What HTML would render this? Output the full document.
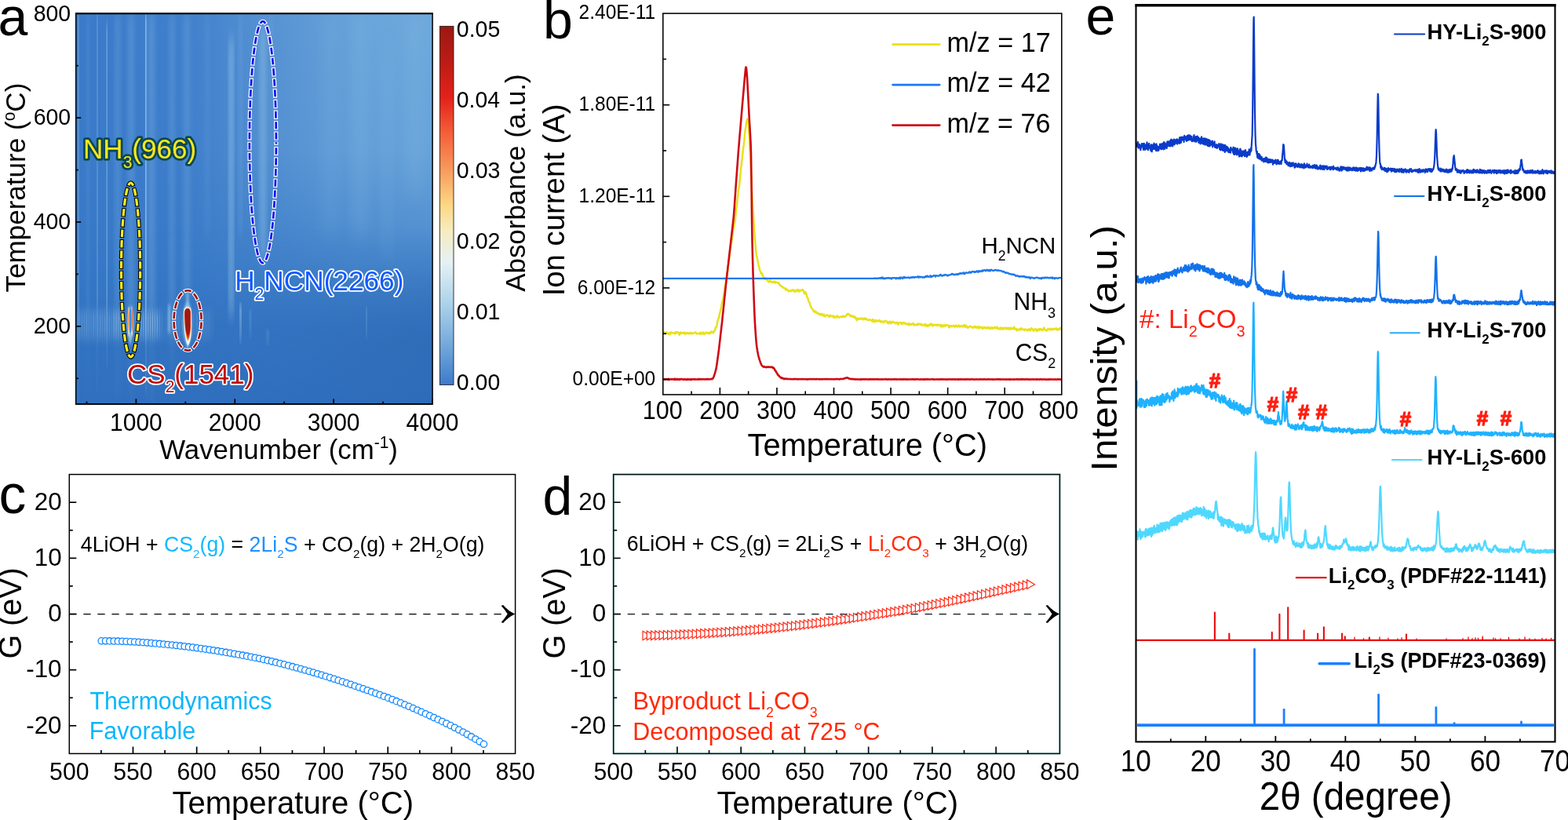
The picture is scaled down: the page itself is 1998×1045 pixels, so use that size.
<!DOCTYPE html>
<html lang="en">
<head>
<meta charset="utf-8">
<title>Figure: TG-IR / MS analysis, Gibbs free energy and XRD patterns</title>
<style>
html,body{margin:0;padding:0;background:#fff;}
body{width:1998px;height:1045px;overflow:hidden;}
svg{display:block;font-family:'Liberation Sans', Arial, sans-serif;}
</style>
</head>
<body>
<svg width="1998" height="1045" viewBox="0 0 1998 1045">
<rect width="1998" height="1045" fill="#fff"/>
<g id="panel-a">
<defs>
<linearGradient id="aH" x1="0" x2="1" y1="0" y2="0"><stop offset="0" stop-color="#3a7ac9"/><stop offset="0.3" stop-color="#3f7fcc"/><stop offset="0.55" stop-color="#5793d3"/><stop offset="0.8" stop-color="#69a4da"/><stop offset="1" stop-color="#6fa9dc"/></linearGradient>
<linearGradient id="aV" x1="0" x2="0" y1="0" y2="1"><stop offset="0" stop-color="#3577c6" stop-opacity="0"/><stop offset="0.35" stop-color="#3577c6" stop-opacity="0.12"/><stop offset="0.62" stop-color="#3577c6" stop-opacity="0.6"/><stop offset="0.8" stop-color="#3273c2" stop-opacity="0.92"/><stop offset="1" stop-color="#3070bf" stop-opacity="1"/></linearGradient>
<linearGradient id="aD" x1="0" x2="1" y1="0" y2="0"><stop offset="0" stop-color="#2c69b3" stop-opacity="0"/><stop offset="0.45" stop-color="#2c69b3" stop-opacity="0.1"/><stop offset="1" stop-color="#2c69b3" stop-opacity="0.7"/></linearGradient>
<linearGradient id="aDm" x1="0" x2="0" y1="0" y2="1"><stop offset="0" stop-color="#fff" stop-opacity="0"/><stop offset="0.55" stop-color="#fff" stop-opacity="0"/><stop offset="0.85" stop-color="#fff" stop-opacity="1"/><stop offset="1" stop-color="#fff" stop-opacity="0.8"/></linearGradient>
<mask id="aMk" maskUnits="userSpaceOnUse" x="96.7" y="17.3" width="454.4" height="497.6"><rect x="96.7" y="17.3" width="454.4" height="497.6" fill="url(#aDm)"/></mask>
<filter id="bx1" x="-100%" y="-5%" width="300%" height="110%"><feGaussianBlur stdDeviation="0.7 6"/></filter>
<filter id="bx3" x="-50%" y="-5%" width="200%" height="110%"><feGaussianBlur stdDeviation="3 10"/></filter>
<filter id="bx8" x="-50%" y="-10%" width="200%" height="120%"><feGaussianBlur stdDeviation="9 14"/></filter>
<filter id="bs" x="-50%" y="-30%" width="200%" height="160%"><feGaussianBlur stdDeviation="0.8 2.5"/></filter>
<filter id="bs2" x="-50%" y="-30%" width="200%" height="160%"><feGaussianBlur stdDeviation="0.5 1"/></filter>
<filter id="bg" x="-20%" y="-40%" width="140%" height="180%"><feGaussianBlur stdDeviation="3 6"/></filter>
<radialGradient id="aCS" cx="0.5" cy="0.5" r="0.5"><stop offset="0" stop-color="#ffffff" stop-opacity="0.95"/><stop offset="0.45" stop-color="#d8eef5" stop-opacity="0.8"/><stop offset="0.75" stop-color="#9cc8e8" stop-opacity="0.4"/><stop offset="1" stop-color="#6aa5da" stop-opacity="0"/></radialGradient>
<linearGradient id="aBand" x1="0" x2="0" y1="0" y2="1"><stop offset="0" stop-color="#fff" stop-opacity="0"/><stop offset="0.3" stop-color="#fff" stop-opacity="1"/><stop offset="0.6" stop-color="#fff" stop-opacity="1"/><stop offset="1" stop-color="#fff" stop-opacity="0"/></linearGradient>
<mask id="aBm" maskUnits="userSpaceOnUse" x="97" y="385" width="460" height="60"><rect x="97" y="391" width="460" height="46" fill="url(#aBand)"/></mask>
<linearGradient id="aSg" gradientUnits="userSpaceOnUse" x1="0" x2="0" y1="17" y2="515"><stop offset="0" stop-color="#fff"/><stop offset="0.72" stop-color="#fff"/><stop offset="0.86" stop-color="#fff" stop-opacity="0.25"/><stop offset="1" stop-color="#fff" stop-opacity="0.2"/></linearGradient>
<mask id="aSm" maskUnits="userSpaceOnUse" x="97" y="17" width="455" height="499"><rect x="97" y="17" width="455" height="499" fill="url(#aSg)"/></mask>
<clipPath id="aClip"><rect x="96.7" y="17.3" width="454.4" height="497.6"/></clipPath>
<linearGradient id="cb" x1="0" x2="0" y1="0" y2="1"><stop offset="0" stop-color="#9c1812"/><stop offset="0.1" stop-color="#bb1c15"/><stop offset="0.2" stop-color="#e3221a"/><stop offset="0.3" stop-color="#f4603a"/><stop offset="0.4" stop-color="#f89a5c"/><stop offset="0.5" stop-color="#fdd884"/><stop offset="0.57" stop-color="#f6ecc0"/><stop offset="0.66" stop-color="#e4f1f4"/><stop offset="0.78" stop-color="#a9d0ea"/><stop offset="0.9" stop-color="#6ea4da"/><stop offset="1" stop-color="#3c7bcb"/></linearGradient>
</defs>
<g clip-path="url(#aClip)">
<rect x="96.7" y="17.3" width="454.4" height="497.6" fill="url(#aH)"/>
<rect x="96.7" y="17.3" width="454.4" height="497.6" fill="url(#aV)"/>
<rect x="96.7" y="17.3" width="454.4" height="497.6" fill="url(#aD)" mask="url(#aMk)"/>
<g mask="url(#aSm)">
<rect x="110.5" y="17" width="3" height="498" fill="#8fc3e8" opacity="0.25" filter="url(#bx3)"/>
<rect x="123" y="17" width="2" height="483" fill="#8fc3e8" opacity="0.28" filter="url(#bx1)"/>
<rect x="135.5" y="30" width="1.4" height="440" fill="#a8d4ee" opacity="0.45" filter="url(#bx1)"/>
<rect x="147" y="17" width="6" height="498" fill="#8fc3e8" opacity="0.28" filter="url(#bx3)"/>
<rect x="163.5" y="17" width="7" height="498" fill="#8fc3e8" opacity="0.3" filter="url(#bx3)"/>
<rect x="185.1" y="17" width="1.6" height="483" fill="#a6d6f0" opacity="0.68" filter="url(#bx1)"/>
<rect x="189" y="17" width="8" height="498" fill="#8fc3e8" opacity="0.3" filter="url(#bx3)"/>
<rect x="216" y="17" width="6" height="463" fill="#8fc3e8" opacity="0.28" filter="url(#bx3)"/>
<rect x="234" y="17" width="8" height="363" fill="#8fc3e8" opacity="0.25" filter="url(#bx3)"/>
<rect x="261.5" y="17" width="5" height="283" fill="#8fc3e8" opacity="0.15" filter="url(#bx3)"/>
<rect x="292.6" y="50" width="4" height="355" fill="#a4d0ec" opacity="0.7" filter="url(#bx3)"/>
<rect x="305" y="17" width="3" height="283" fill="#8fc3e8" opacity="0.35" filter="url(#bx3)"/>
<rect x="305" y="388" width="3" height="48" fill="#a8d4ee" opacity="0.5" filter="url(#bx1)"/>
<rect x="317.5" y="395" width="3" height="35" fill="#8fc3e8" opacity="0.3" filter="url(#bx1)"/>
<rect x="331.5" y="35" width="7" height="295" fill="#9ccbea" opacity="0.45" filter="url(#bx3)"/>
<rect x="344.5" y="17" width="3" height="73" fill="#8fc3e8" opacity="0.3" filter="url(#bx3)"/>
<rect x="339" y="420" width="4" height="20" fill="#8fc3e8" opacity="0.35" filter="url(#bx1)"/>
<rect x="450" y="17" width="16" height="283" fill="#8fc3e8" opacity="0.22" filter="url(#bx8)"/>
<rect x="488" y="60" width="10" height="270" fill="#8fc3e8" opacity="0.2" filter="url(#bx8)"/>
<rect x="521" y="17" width="14" height="233" fill="#8fc3e8" opacity="0.22" filter="url(#bx8)"/>
<rect x="411" y="17" width="18" height="283" fill="#8fc3e8" opacity="0.15" filter="url(#bx8)"/>
<rect x="466.4" y="392" width="1.2" height="40" fill="#a8d4ee" opacity="0.45" filter="url(#bx1)"/>
<rect x="99" y="17" width="2" height="498" fill="#8fc3e8" opacity="0.3" filter="url(#bx1)"/>
</g>
<rect x="97" y="394" width="110" height="40" fill="#8cc2ea" opacity="0.16" filter="url(#bg)"/>
<rect x="210" y="394" width="60" height="40" fill="#8cc2ea" opacity="0.1" filter="url(#bg)"/>
<g mask="url(#aBm)" fill="#c4e2f5"><rect x="98.2" y="388" width="1.15" height="52" opacity="0.11"/><rect x="101.1" y="388" width="1.15" height="52" opacity="0.16"/><rect x="104" y="388" width="1.15" height="52" opacity="0.13"/><rect x="106.9" y="388" width="1.15" height="52" opacity="0.16"/><rect x="109.8" y="388" width="1.15" height="52" opacity="0.17"/><rect x="112.7" y="388" width="1.15" height="52" opacity="0.09"/><rect x="115.6" y="388" width="1.15" height="52" opacity="0.08"/><rect x="118.5" y="388" width="1.15" height="52" opacity="0.2"/><rect x="121.4" y="388" width="1.15" height="52" opacity="0.12"/><rect x="124.3" y="388" width="1.15" height="52" opacity="0.11"/><rect x="127.2" y="388" width="1.15" height="52" opacity="0.22"/><rect x="130.1" y="388" width="1.15" height="52" opacity="0.15"/><rect x="133" y="388" width="1.15" height="52" opacity="0.2"/><rect x="135.9" y="388" width="1.15" height="52" opacity="0.15"/><rect x="138.8" y="388" width="1.15" height="52" opacity="0.17"/><rect x="141.7" y="388" width="1.15" height="52" opacity="0.1"/><rect x="144.6" y="388" width="1.15" height="52" opacity="0.37"/><rect x="147.5" y="388" width="1.15" height="52" opacity="0.4"/><rect x="150.4" y="388" width="1.15" height="52" opacity="0.35"/><rect x="153.3" y="388" width="1.15" height="52" opacity="0.38"/><rect x="156.2" y="388" width="1.15" height="52" opacity="0.07"/><rect x="159.1" y="388" width="1.15" height="52" opacity="0.04"/><rect x="162" y="388" width="1.15" height="52" opacity="0.07"/><rect x="164.9" y="388" width="1.15" height="52" opacity="0.07"/><rect x="167.8" y="388" width="1.15" height="52" opacity="0.05"/><rect x="170.7" y="388" width="1.15" height="52" opacity="0.03"/><rect x="173.6" y="388" width="1.15" height="52" opacity="0.08"/><rect x="176.5" y="388" width="1.15" height="52" opacity="0.15"/><rect x="179.4" y="388" width="1.15" height="52" opacity="0.38"/><rect x="182.3" y="388" width="1.15" height="52" opacity="0.4"/><rect x="185.2" y="388" width="1.15" height="52" opacity="0.38"/><rect x="188.1" y="388" width="1.15" height="52" opacity="0.41"/><rect x="191" y="388" width="1.15" height="52" opacity="0.34"/><rect x="193.9" y="388" width="1.15" height="52" opacity="0.39"/><rect x="196.8" y="388" width="1.15" height="52" opacity="0.34"/><rect x="199.7" y="388" width="1.15" height="52" opacity="0.41"/><rect x="202.6" y="388" width="1.15" height="52" opacity="0.2"/><rect x="205.5" y="388" width="1.15" height="52" opacity="0.09"/><rect x="207" y="388" width="1.15" height="52" opacity="0.02"/><rect x="209.9" y="388" width="1.15" height="52" opacity="0.03"/><rect x="212.8" y="388" width="1.15" height="52" opacity="0.06"/><rect x="215.7" y="388" width="1.15" height="52" opacity="0.06"/><rect x="218.6" y="388" width="1.15" height="52" opacity="0.08"/><rect x="221.5" y="388" width="1.15" height="52" opacity="0.08"/><rect x="224.4" y="388" width="1.15" height="52" opacity="0.11"/><rect x="227.3" y="388" width="1.15" height="52" opacity="0.11"/><rect x="230.2" y="388" width="1.15" height="52" opacity="0"/><rect x="233.1" y="388" width="1.15" height="52" opacity="0"/><rect x="236" y="388" width="1.15" height="52" opacity="0"/><rect x="238.9" y="388" width="1.15" height="52" opacity="0"/><rect x="241.8" y="388" width="1.15" height="52" opacity="0"/><rect x="244.7" y="388" width="1.15" height="52" opacity="0"/><rect x="247.6" y="388" width="1.15" height="52" opacity="0"/><rect x="250.5" y="388" width="1.15" height="52" opacity="0.15"/><rect x="253.4" y="388" width="1.15" height="52" opacity="0.12"/><rect x="256.3" y="388" width="1.15" height="52" opacity="0.08"/><rect x="259.2" y="388" width="1.15" height="52" opacity="0.09"/><rect x="262.1" y="388" width="1.15" height="52" opacity="0.08"/><rect x="265" y="388" width="1.15" height="52" opacity="0.06"/><rect x="267.9" y="388" width="1.15" height="52" opacity="0.04"/><rect x="270.8" y="388" width="1.15" height="52" opacity="0.03"/><rect x="273.7" y="388" width="1.15" height="52" opacity="0.01"/></g>
<rect x="214" y="388" width="3" height="36" fill="#a6d4f0" opacity="0.55" filter="url(#bs)"/>
<ellipse cx="166.1" cy="412" rx="3.6" ry="22" fill="#b4dcf4" opacity="0.5" filter="url(#bs)"/>
<ellipse cx="164.0" cy="410" rx="1.3" ry="19" fill="#fdf0c8" opacity="0.75" filter="url(#bs2)"/>
<ellipse cx="168.2" cy="410" rx="1.3" ry="19" fill="#fdf0c8" opacity="0.75" filter="url(#bs2)"/>
<ellipse cx="164.0" cy="407.5" rx="0.95" ry="14.5" fill="#f59a5c"/>
<ellipse cx="168.2" cy="407.5" rx="0.95" ry="15" fill="#f0683a"/>
<rect x="165.3" y="394" width="1.6" height="30" fill="#2a86e2"/>
<rect x="165.2" y="424" width="1.8" height="14" fill="#d4ecf8" opacity="0.6" filter="url(#bs)"/>
<rect x="237.2" y="372" width="3.6" height="74" fill="#9fd0ee" opacity="0.55" filter="url(#bs)"/>
<ellipse cx="238.9" cy="412" rx="6.2" ry="27" fill="#a8d6f0" opacity="0.6" filter="url(#bs)"/>
<path d="M238.9 391.2 C241.84 391.2 243.8 392.7 243.8 396.2 L243.8 421.77 C243.8 431.13 241.59 438.5 239.3 440.5 C237.43 437.5 235.86 429.26 234.98 421.77 L234 397.2 C234 393.2 235.96 391.2 238.9 391.2Z" fill="#f4fbfe" filter="url(#bs2)"/>
<path d="M238.9 392.6 C241.21 392.6 242.75 394.1 242.75 397.6 L242.75 419.51 C242.75 427.75 241.02 434 239.3 436 C237.75 433 236.51 426.1 235.82 419.51 L235.05 398.6 C235.05 394.6 236.59 392.6 238.9 392.6Z" fill="#fdd680"/>
<path d="M238.9 392.9 C241.12 392.9 242.6 394.4 242.6 397.9 L242.6 418.13 C242.6 425.87 240.94 431.6 239.3 433.6 C237.79 430.6 236.61 424.32 235.94 418.13 L235.2 398.9 C235.2 394.9 236.68 392.9 238.9 392.9Z" fill="#f26a2c"/>
<path d="M238.9 393.1 C241.09 393.1 242.55 394.6 242.55 398.1 L242.55 416.85 C242.55 424.12 240.91 429.4 239.3 431.4 C237.81 428.4 236.64 422.67 235.98 416.85 L235.25 399.1 C235.25 395.1 236.71 393.1 238.9 393.1Z" fill="#e02c14"/>
<path d="M238.9 393.3 C241.06 393.3 242.5 394.8 242.5 398.3 L242.5 414.81 C242.5 421.41 240.88 426 239.3 428 C237.82 425 236.67 420.09 236.02 414.81 L235.3 399.3 C235.3 395.3 236.74 393.3 238.9 393.3Z" fill="#a21810"/>
</g>
<rect x="96.7" y="17.3" width="454.4" height="497.6" fill="none" stroke="#000" stroke-width="1.5"/>
<line x1="95.95" y1="17.3" x2="551.85" y2="17.3" stroke="#000" stroke-width="2"/>
<line x1="95.95" y1="514.9" x2="551.85" y2="514.9" stroke="#000" stroke-width="1.9"/>
<line x1="173.4" y1="514.9" x2="173.4" y2="508.4" stroke="#000" stroke-width="1.7"/>
<line x1="299.27" y1="514.9" x2="299.27" y2="508.4" stroke="#000" stroke-width="1.7"/>
<line x1="425.13" y1="514.9" x2="425.13" y2="508.4" stroke="#000" stroke-width="1.7"/>
<line x1="551" y1="514.9" x2="551" y2="508.4" stroke="#000" stroke-width="1.7"/>
<line x1="110.47" y1="514.9" x2="110.47" y2="511.7" stroke="#000" stroke-width="1.7"/>
<line x1="236.33" y1="514.9" x2="236.33" y2="511.7" stroke="#000" stroke-width="1.7"/>
<line x1="362.2" y1="514.9" x2="362.2" y2="511.7" stroke="#000" stroke-width="1.7"/>
<line x1="488.07" y1="514.9" x2="488.07" y2="511.7" stroke="#000" stroke-width="1.7"/>
<line x1="96.7" y1="415.82" x2="103.2" y2="415.82" stroke="#000" stroke-width="1.7"/>
<line x1="96.7" y1="282.98" x2="103.2" y2="282.98" stroke="#000" stroke-width="1.7"/>
<line x1="96.7" y1="150.14" x2="103.2" y2="150.14" stroke="#000" stroke-width="1.7"/>
<line x1="96.7" y1="17.3" x2="103.2" y2="17.3" stroke="#000" stroke-width="1.7"/>
<line x1="96.7" y1="482.24" x2="99.9" y2="482.24" stroke="#000" stroke-width="1.7"/>
<line x1="96.7" y1="349.4" x2="99.9" y2="349.4" stroke="#000" stroke-width="1.7"/>
<line x1="96.7" y1="216.56" x2="99.9" y2="216.56" stroke="#000" stroke-width="1.7"/>
<line x1="96.7" y1="83.72" x2="99.9" y2="83.72" stroke="#000" stroke-width="1.7"/>
<text transform="translate(173.4 548.7) scale(0.97 1)" font-size="31" text-anchor="middle">1000</text>
<text transform="translate(299.27 548.7) scale(0.97 1)" font-size="31" text-anchor="middle">2000</text>
<text transform="translate(425.13 548.7) scale(0.97 1)" font-size="31" text-anchor="middle">3000</text>
<text transform="translate(551 548.7) scale(0.97 1)" font-size="31" text-anchor="middle">4000</text>
<text transform="translate(90.2 425.12) scale(0.95 1)" font-size="30" text-anchor="end">200</text>
<text transform="translate(90.2 292.28) scale(0.95 1)" font-size="30" text-anchor="end">400</text>
<text transform="translate(90.2 159.44) scale(0.95 1)" font-size="30" text-anchor="end">600</text>
<text transform="translate(90.2 26.6) scale(0.95 1)" font-size="30" text-anchor="end">800</text>
<text transform="translate(203.2 584.8) scale(0.98 1)" font-size="35.55">Wavenumber (cm<tspan dy="-14.22" font-size="21.33">-1</tspan><tspan dy="14.22">)</tspan></text>
<text transform="translate(31.9 372.5) rotate(-90) scale(0.98 1)" font-size="35.78">Temperature (<tspan dy="-12.88" font-size="21.47">o</tspan><tspan dy="12.88">C)</tspan></text>
<ellipse cx="334.9" cy="181.2" rx="17" ry="154" fill="none" stroke="#fff" stroke-width="5.1" stroke-dasharray="11.2 2.3" stroke-dashoffset="7.5"/><ellipse cx="334.9" cy="181.2" rx="17" ry="154" fill="none" stroke="#0c0cf5" stroke-width="2.7" stroke-dasharray="8.8 4.7" stroke-dashoffset="6.3"/>
<ellipse cx="166.6" cy="344" rx="12.1" ry="111" fill="none" stroke="#000" stroke-width="5.3" stroke-dasharray="11.5 1.8" stroke-dashoffset="12.65"/><ellipse cx="166.6" cy="344" rx="12.1" ry="111" fill="none" stroke="#ffee22" stroke-width="3.2" stroke-dasharray="9.4 3.9" stroke-dashoffset="11.6"/>
<ellipse cx="239.1" cy="408.4" rx="17.5" ry="38.2" fill="none" stroke="#fff" stroke-width="4.8" stroke-dasharray="11 1.94" stroke-dashoffset="11.96"/><ellipse cx="239.1" cy="408.4" rx="17.5" ry="38.2" fill="none" stroke="#9a0f0f" stroke-width="2.6" stroke-dasharray="8.8 4.14" stroke-dashoffset="10.86"/>
<text transform="translate(105.99 202.2) scale(0.98 1)" font-size="35.8" fill="#ffe81e" stroke="#0a4854" stroke-width="5.6" stroke-linejoin="round" paint-order="stroke fill">NH<tspan dy="11.82" font-size="21.48">3</tspan><tspan dy="-11.82">(966)</tspan></text>
<text transform="translate(299.18 370.4) scale(0.98 1)" font-size="35.93" fill="#0f5aff" stroke="#fff" stroke-width="3.6" stroke-linejoin="round" paint-order="stroke fill">H<tspan dy="11.86" font-size="21.56">2</tspan><tspan dy="-11.86">NCN(2266)</tspan></text>
<text transform="translate(162.05 488.5) scale(0.98 1)" font-size="35.69" fill="#bf0a0a" stroke="#fff" stroke-width="3.6" stroke-linejoin="round" paint-order="stroke fill">CS<tspan dy="11.78" font-size="21.41">2</tspan><tspan dy="-11.78">(1541)</tspan></text>
<rect x="560.4" y="33.4" width="17.6" height="457" fill="url(#cb)" stroke="#222" stroke-width="0.9"/>
<text transform="translate(581.86 46.7) scale(0.98 1)" font-size="29.03">0.05</text>
<text transform="translate(581.87 136.75) scale(0.98 1)" font-size="28.88">0.04</text>
<text transform="translate(581.86 226.8) scale(0.98 1)" font-size="29.19">0.03</text>
<text transform="translate(581.86 316.85) scale(0.98 1)" font-size="29.19">0.02</text>
<text transform="translate(581.86 406.9) scale(0.98 1)" font-size="29.19">0.01</text>
<text transform="translate(581.86 496.95) scale(0.98 1)" font-size="29.03">0.00</text>
<text transform="translate(668.7 371.8) rotate(-90) scale(0.98 1)" font-size="35.63">Absorbance (a.u.)</text>
<text transform="translate(-2.6 45.2)" font-size="68">a</text>
</g>
<g id="panel-b">
<clipPath id="bClip"><rect x="844.8" y="17.1" width="508" height="485.8"/></clipPath>
<g clip-path="url(#bClip)" stroke-linejoin="round">
<polyline points="844,423.5 844.6,424.5 845.2,425.2 845.8,424.2 846.4,423.3 847,424.1 847.6,424.7 848.2,425.3 848.8,423.7 849.4,423.2 850,424.6 850.6,424.8 851.2,425.6 851.8,425.4 852.4,424.6 853,424.2 853.6,426.3 854.2,424.6 854.8,423.8 855.4,423.4 856,424.2 856.6,424.4 857.2,424.1 857.8,424.3 858.4,424.5 859,424.9 859.6,425.3 860.2,424.8 860.8,423.1 861.4,424.6 862,423.3 862.6,424 863.2,423.1 863.8,424 864.4,423.7 865,424.3 865.6,426.8 866.2,424.9 866.8,425.1 867.4,423.5 868,423.9 868.6,424.7 869.2,424.4 869.8,424.6 870.4,424.5 871,423.6 871.6,424.6 872.2,423.8 872.8,425.6 873.4,424.3 874,424.8 874.6,424.4 875.2,425.1 875.8,424 876.4,425 877,424.4 877.6,425.3 878.2,425 878.8,424.6 879.4,423.8 880,424.7 880.6,424.8 881.2,425.6 881.8,424.3 882.4,424.7 883,424.8 883.6,424.6 884.2,424.5 884.8,424.4 885.4,423.8 886,423.4 886.6,423.7 887.2,424.5 887.8,425.4 888.4,425.2 889,425.2 889.6,425 890.2,424.9 890.8,424.5 891.4,424.8 892,425.7 892.6,424.3 893.2,423.7 893.8,425.5 894.4,424.6 895,425 895.6,425 896.2,423.5 896.8,425.8 897.4,425.8 898,424.7 898.6,424.8 899.2,424.3 899.8,423.5 900.4,423.8 901,424.3 901.6,424.9 902.2,424.8 902.8,424.3 903.4,425.1 904,423.7 904.6,424.5 905.2,424.9 905.8,423.9 906.4,422.4 907,422.6 907.6,423.4 908.2,423.7 908.8,424.4 909.4,422.2 910,422 910.6,421.9 911.2,420.5 911.8,417.3 912.4,417.3 913,416.7 913.6,413.9 914.2,410 914.8,407.7 915.4,405.8 916,405.2 916.6,401.8 917.2,398.8 917.8,397.3 918.4,393.8 919,392.4 919.6,388 920.2,385 920.8,383.1 921.4,381 922,377.5 922.6,373.9 923.2,369 923.8,366.1 924.4,362.7 925,359 925.6,355.7 926.2,350.9 926.8,347.3 927.4,342.6 928,337.7 928.6,333.5 929.2,329.3 929.8,325.2 930.4,319.8 931,315.3 931.6,310.1 932.2,308 932.8,304.6 933.4,299.9 934,295.8 934.6,291.5 935.2,288.8 935.8,285.4 936.4,283.1 937,277.7 937.6,271.9 938.2,265.3 938.8,262.8 939.4,257.4 940,250.8 940.6,246.7 941.2,240.5 941.8,238.9 942.4,232.8 943,227.1 943.6,221.2 944.2,214.3 944.8,210.2 945.4,204.2 946,200.4 946.6,193.3 947.2,188.2 947.8,184.2 948.4,179.2 949,171.8 949.6,166 950.2,162.8 950.8,159 951.4,154.2 952,151.9 952.6,151.3 953.2,152.8 953.8,158 954.4,167.6 955,178.2 955.6,191.4 956.2,203.4 956.8,216.8 957.4,229.9 958,243.1 958.6,253.4 959.2,262.5 959.8,272.9 960.4,282.3 961,290.7 961.6,299.8 962.2,307.6 962.8,314.4 963.4,321.1 964,325.3 964.6,328.2 965.2,330.7 965.8,333.5 966.4,337 967,339.7 967.6,341.5 968.2,344.6 968.8,345.6 969.4,347.1 970,348.9 970.6,348.7 971.2,348.6 971.8,351.4 972.4,351.8 973,354.1 973.6,354.4 974.2,355.4 974.8,355.9 975.4,354.2 976,356.3 976.6,356.2 977.2,356.4 977.8,357 978.4,358.3 979,358.9 979.6,359.4 980.2,357.8 980.8,358.3 981.4,357.1 982,358.6 982.6,359.5 983.2,358.8 983.8,359.4 984.4,359.6 985,360.2 985.6,358.9 986.2,358.6 986.8,358.5 987.4,360.4 988,360.4 988.6,359.5 989.2,359.7 989.8,359.9 990.4,360.4 991,360.4 991.6,360.7 992.2,360.4 992.8,361.2 993.4,363.5 994,363.7 994.6,363.8 995.2,364 995.8,364.7 996.4,365.4 997,365.3 997.6,366.3 998.2,366.9 998.8,366.7 999.4,367 1000,367.3 1000.6,367.7 1001.2,369.5 1001.8,367.8 1002.4,369.1 1003,369.3 1003.6,369.5 1004.2,370.3 1004.8,371.3 1005.4,370.9 1006,370.6 1006.6,370.2 1007.2,370.5 1007.8,371.3 1008.4,370.6 1009,369.9 1009.6,369.6 1010.2,369.6 1010.8,369.4 1011.4,371.2 1012,371.1 1012.6,370.5 1013.2,371.7 1013.8,370.3 1014.4,371 1015,371.2 1015.6,369.5 1016.2,369 1016.8,369.4 1017.4,370.8 1018,371.5 1018.6,369.8 1019.2,371.1 1019.8,370.3 1020.4,370.1 1021,370 1021.6,370.1 1022.2,369.1 1022.8,369.5 1023.4,369.7 1024,371.2 1024.6,373.1 1025.2,374.4 1025.8,372.9 1026.4,372.2 1027,373.8 1027.6,374.8 1028.2,378.4 1028.8,379.4 1029.4,380 1030,382.8 1030.6,384.5 1031.2,384.7 1031.8,386.7 1032.4,388.6 1033,390.3 1033.6,391.6 1034.2,392.5 1034.8,393.8 1035.4,394.2 1036,394.5 1036.6,396.8 1037.2,397 1037.8,397.4 1038.4,396.3 1039,397.3 1039.6,398.5 1040.2,397.5 1040.8,399.2 1041.4,398.7 1042,399.4 1042.6,399.3 1043.2,399.7 1043.8,400.7 1044.4,400 1045,401.4 1045.6,400.1 1046.2,399.9 1046.8,401.2 1047.4,400.3 1048,400.7 1048.6,401.9 1049.2,402.5 1049.8,400.6 1050.4,401.9 1051,403.3 1051.6,403.2 1052.2,402.2 1052.8,401.7 1053.4,401.9 1054,401.4 1054.6,402 1055.2,402.3 1055.8,402.5 1056.4,403.6 1057,402.9 1057.6,401.8 1058.2,403.5 1058.8,402.4 1059.4,402.6 1060,402.9 1060.6,402.9 1061.2,402.4 1061.8,402.9 1062.4,404.9 1063,403.3 1063.6,403.3 1064.2,404.3 1064.8,404.3 1065.4,404.4 1066,404.5 1066.6,402.4 1067.2,402.8 1067.8,403.6 1068.4,404.1 1069,404.8 1069.6,404.4 1070.2,403.7 1070.8,403.7 1071.4,403.5 1072,403.8 1072.6,404.2 1073.2,403.5 1073.8,402.9 1074.4,402.6 1075,403.8 1075.6,404.1 1076.2,403.8 1076.8,403.4 1077.4,403.1 1078,402.1 1078.6,402.1 1079.2,400.5 1079.8,400.4 1080.4,399.9 1081,401 1081.6,400.5 1082.2,401 1082.8,401.7 1083.4,402.9 1084,401.9 1084.6,401.7 1085.2,403.3 1085.8,402.5 1086.4,403.7 1087,403.4 1087.6,403.9 1088.2,402.8 1088.8,404.6 1089.4,404.3 1090,404 1090.6,406.3 1091.2,406 1091.8,408.1 1092.4,406.4 1093,405.6 1093.6,405.8 1094.2,407 1094.8,406.2 1095.4,406.4 1096,406.6 1096.6,405.6 1097.2,406.3 1097.8,406 1098.4,405.5 1099,407 1099.6,407.3 1100.2,407 1100.8,406.3 1101.4,405.3 1102,407 1102.6,407.1 1103.2,406 1103.8,407 1104.4,406.3 1105,407.3 1105.6,407.7 1106.2,408 1106.8,408 1107.4,408.1 1108,407.2 1108.6,407.5 1109.2,407.6 1109.8,407.9 1110.4,408.4 1111,408.8 1111.6,409.7 1112.2,406.9 1112.8,408.4 1113.4,408.4 1114,410.3 1114.6,409.9 1115.2,407.9 1115.8,409 1116.4,408.6 1117,409.7 1117.6,408.5 1118.2,409 1118.8,409.1 1119.4,409.2 1120,408.9 1120.6,408 1121.2,409.5 1121.8,410.4 1122.4,409.8 1123,409 1123.6,409.8 1124.2,410.3 1124.8,409.9 1125.4,410 1126,411.1 1126.6,409.6 1127.2,409.6 1127.8,408.7 1128.4,409.4 1129,409.6 1129.6,409.5 1130.2,409.7 1130.8,411.7 1131.4,410.7 1132,410.6 1132.6,412.3 1133.2,411.1 1133.8,409.6 1134.4,410.9 1135,410.2 1135.6,412 1136.2,410.4 1136.8,410.5 1137.4,409.8 1138,410.9 1138.6,410.4 1139.2,411.1 1139.8,411 1140.4,410.9 1141,412 1141.6,412.4 1142.2,411.8 1142.8,411 1143.4,410.7 1144,411.7 1144.6,413.6 1145.2,412 1145.8,411.4 1146.4,411.3 1147,411 1147.6,411.1 1148.2,411.7 1148.8,413.2 1149.4,412.5 1150,412 1150.6,411 1151.2,412.2 1151.8,412.3 1152.4,411.5 1153,411.4 1153.6,412.2 1154.2,413.2 1154.8,413.2 1155.4,412.9 1156,412.5 1156.6,412.9 1157.2,412.7 1157.8,414.4 1158.4,412.3 1159,412.4 1159.6,413.7 1160.2,412.9 1160.8,414 1161.4,413.2 1162,413.1 1162.6,412.8 1163.2,412 1163.8,412.1 1164.4,414.5 1165,414 1165.6,413.8 1166.2,414.1 1166.8,413.9 1167.4,414.2 1168,413.4 1168.6,413.2 1169.2,414.1 1169.8,413.3 1170.4,412.4 1171,413.1 1171.6,413 1172.2,413.9 1172.8,413.1 1173.4,412.7 1174,413.2 1174.6,414.7 1175.2,414 1175.8,413.9 1176.4,413.8 1177,414.1 1177.6,414.6 1178.2,415.1 1178.8,413 1179.4,414.8 1180,414.2 1180.6,413.8 1181.2,415.8 1181.8,414.4 1182.4,415.6 1183,415.2 1183.6,413.7 1184.2,414.4 1184.8,414.8 1185.4,414.3 1186,412.5 1186.6,413.6 1187.2,414 1187.8,413.4 1188.4,415.5 1189,414.5 1189.6,414.1 1190.2,414.1 1190.8,413.8 1191.4,413.7 1192,414.4 1192.6,414.8 1193.2,414.2 1193.8,414.4 1194.4,413.5 1195,414.8 1195.6,414.1 1196.2,414.7 1196.8,414.1 1197.4,414.2 1198,414.8 1198.6,413.9 1199.2,416.5 1199.8,415.2 1200.4,414.9 1201,414.4 1201.6,416 1202.2,416.3 1202.8,415.5 1203.4,414.1 1204,414.4 1204.6,415.4 1205.2,414.8 1205.8,414.2 1206.4,414 1207,414.3 1207.6,415 1208.2,414.7 1208.8,415.1 1209.4,417.3 1210,417.1 1210.6,415 1211.2,415.5 1211.8,415.5 1212.4,415.3 1213,416.2 1213.6,415.4 1214.2,415.3 1214.8,415.2 1215.4,415.4 1216,416.5 1216.6,416.4 1217.2,414.9 1217.8,415.2 1218.4,415 1219,416.2 1219.6,416.1 1220.2,416.5 1220.8,416 1221.4,414.5 1222,415.9 1222.6,416.1 1223.2,416.4 1223.8,415.1 1224.4,415.9 1225,415.5 1225.6,415.4 1226.2,416.2 1226.8,416.4 1227.4,415.6 1228,414.8 1228.6,414 1229.2,415.3 1229.8,416.9 1230.4,416.4 1231,414.7 1231.6,415.3 1232.2,416.5 1232.8,417.7 1233.4,417.7 1234,417.1 1234.6,416.8 1235.2,415.8 1235.8,416.1 1236.4,416.2 1237,416 1237.6,416.6 1238.2,416.4 1238.8,416.9 1239.4,417.9 1240,417.6 1240.6,417.4 1241.2,416.8 1241.8,415.7 1242.4,416.5 1243,417.3 1243.6,416.3 1244.2,417.8 1244.8,417 1245.4,417.3 1246,416.9 1246.6,416.1 1247.2,418.4 1247.8,416.6 1248.4,417.7 1249,416.9 1249.6,417.4 1250.2,416.7 1250.8,416.8 1251.4,417.9 1252,419 1252.6,417.2 1253.2,417.4 1253.8,418.1 1254.4,417.2 1255,418 1255.6,417.1 1256.2,417.9 1256.8,418 1257.4,418.6 1258,418.2 1258.6,416.9 1259.2,418 1259.8,417 1260.4,418.1 1261,419 1261.6,418.6 1262.2,417.6 1262.8,418.7 1263.4,418.2 1264,417.1 1264.6,417.5 1265.2,418.9 1265.8,418 1266.4,418.1 1267,417.8 1267.6,416.8 1268.2,417.4 1268.8,418.2 1269.4,418.4 1270,418.1 1270.6,416.6 1271.2,418.8 1271.8,418.9 1272.4,419.2 1273,419.5 1273.6,418.3 1274.2,417.9 1274.8,418.5 1275.4,419.7 1276,417.5 1276.6,418.1 1277.2,417.9 1277.8,418.8 1278.4,419.7 1279,418.7 1279.6,417.7 1280.2,418.5 1280.8,418.4 1281.4,417.5 1282,419.1 1282.6,418.4 1283.2,419.2 1283.8,417.9 1284.4,419.4 1285,417.9 1285.6,419.4 1286.2,417.7 1286.8,419.7 1287.4,418.9 1288,417.8 1288.6,418.5 1289.2,419.2 1289.8,418.3 1290.4,418.5 1291,419.2 1291.6,419 1292.2,416.8 1292.8,418.3 1293.4,419.3 1294,419.5 1294.6,420.1 1295.2,419 1295.8,421.2 1296.4,420.4 1297,419.9 1297.6,420.3 1298.2,420.4 1298.8,419.8 1299.4,419.1 1300,420.2 1300.6,420 1301.2,418.2 1301.8,418.4 1302.4,419.6 1303,419.7 1303.6,419.9 1304.2,420.2 1304.8,419.9 1305.4,420.9 1306,419.6 1306.6,419.4 1307.2,419.9 1307.8,420.4 1308.4,420.5 1309,421.1 1309.6,419.8 1310.2,420.7 1310.8,420.4 1311.4,419.3 1312,419.7 1312.6,421.4 1313.2,420.9 1313.8,419.9 1314.4,418.2 1315,419 1315.6,419.3 1316.2,419.9 1316.8,421.8 1317.4,421.1 1318,420.6 1318.6,419.6 1319.2,419.1 1319.8,419.8 1320.4,419.7 1321,422.3 1321.6,420.4 1322.2,419.7 1322.8,420.9 1323.4,420.4 1324,419.2 1324.6,420.8 1325.2,420 1325.8,419 1326.4,420 1327,420.4 1327.6,419.8 1328.2,420.5 1328.8,420.7 1329.4,419.5 1330,418.3 1330.6,417.7 1331.2,419.3 1331.8,420.6 1332.4,420.8 1333,421.1 1333.6,421.5 1334.2,420.3 1334.8,420.7 1335.4,418.9 1336,420 1336.6,420.1 1337.2,419.7 1337.8,419.3 1338.4,418.7 1339,419.5 1339.6,420.5 1340.2,419.5 1340.8,419.9 1341.4,419.1 1342,419.6 1342.6,418.7 1343.2,419.5 1343.8,419.3 1344.4,419.6 1345,419 1345.6,418.3 1346.2,418.8 1346.8,419.9 1347.4,420.6 1348,419.3 1348.6,419.8 1349.2,419.9 1349.8,419.6 1350.4,418.1 1351,419.1 1351.6,418.3 1352.2,419.7 1352.8,419.8" fill="none" stroke="#e8e11c" stroke-width="2.5"/>
<polyline points="844,354.9 844.8,354.9 845.6,354.9 846.4,354.9 847.2,354.9 848,354.9 848.8,354.9 849.6,354.9 850.4,354.9 851.2,354.9 852,354.9 852.8,354.9 853.6,354.9 854.4,354.9 855.2,354.9 856,354.9 856.8,354.9 857.6,354.9 858.4,354.9 859.2,354.9 860,354.9 860.8,354.9 861.6,354.9 862.4,354.9 863.2,354.9 864,354.9 864.8,354.9 865.6,354.9 866.4,354.9 867.2,354.9 868,354.9 868.8,354.9 869.6,354.9 870.4,354.9 871.2,354.9 872,354.9 872.8,354.9 873.6,354.9 874.4,354.9 875.2,354.9 876,354.9 876.8,354.9 877.6,354.9 878.4,354.9 879.2,354.9 880,354.9 880.8,354.9 881.6,354.9 882.4,354.9 883.2,354.9 884,354.9 884.8,354.9 885.6,354.9 886.4,354.9 887.2,354.9 888,354.9 888.8,354.9 889.6,354.9 890.4,354.9 891.2,354.9 892,354.9 892.8,354.9 893.6,354.9 894.4,354.9 895.2,354.9 896,354.9 896.8,354.9 897.6,354.9 898.4,354.9 899.2,354.9 900,354.9 900.8,354.9 901.6,354.9 902.4,354.9 903.2,354.9 904,354.9 904.8,354.9 905.6,354.9 906.4,354.9 907.2,354.9 908,354.9 908.8,354.9 909.6,354.9 910.4,354.9 911.2,354.9 912,354.9 912.8,354.9 913.6,354.9 914.4,354.9 915.2,354.9 916,354.9 916.8,354.9 917.6,354.9 918.4,354.9 919.2,354.9 920,354.9 920.8,354.9 921.6,354.9 922.4,354.9 923.2,354.9 924,354.9 924.8,354.9 925.6,354.9 926.4,354.9 927.2,354.9 928,354.9 928.8,354.9 929.6,354.9 930.4,354.9 931.2,354.9 932,354.9 932.8,354.9 933.6,354.9 934.4,354.9 935.2,354.9 936,354.9 936.8,354.9 937.6,354.9 938.4,354.9 939.2,354.9 940,354.9 940.8,354.9 941.6,354.9 942.4,354.9 943.2,354.9 944,354.9 944.8,354.9 945.6,354.9 946.4,354.9 947.2,354.9 948,354.9 948.8,354.9 949.6,354.9 950.4,354.9 951.2,354.9 952,354.9 952.8,354.9 953.6,354.9 954.4,354.9 955.2,354.9 956,354.9 956.8,354.9 957.6,354.9 958.4,354.9 959.2,354.9 960,354.9 960.8,354.9 961.6,354.9 962.4,354.9 963.2,354.9 964,354.9 964.8,354.9 965.6,354.9 966.4,354.9 967.2,354.9 968,354.9 968.8,354.9 969.6,354.9 970.4,354.9 971.2,354.9 972,354.9 972.8,354.9 973.6,354.9 974.4,354.9 975.2,354.9 976,354.9 976.8,354.9 977.6,354.9 978.4,354.9 979.2,354.9 980,354.9 980.8,354.9 981.6,354.9 982.4,354.9 983.2,354.9 984,354.9 984.8,354.9 985.6,354.9 986.4,354.9 987.2,354.9 988,354.9 988.8,354.9 989.6,354.9 990.4,354.9 991.2,354.9 992,354.9 992.8,354.9 993.6,354.9 994.4,354.9 995.2,354.9 996,354.9 996.8,354.9 997.6,354.9 998.4,354.9 999.2,354.9 1000,354.9 1000.8,354.9 1001.6,354.9 1002.4,354.9 1003.2,354.9 1004,354.9 1004.8,354.9 1005.6,354.9 1006.4,354.9 1007.2,354.9 1008,354.9 1008.8,354.9 1009.6,354.9 1010.4,354.9 1011.2,354.9 1012,354.9 1012.8,354.9 1013.6,354.9 1014.4,354.9 1015.2,354.9 1016,354.9 1016.8,354.9 1017.6,354.9 1018.4,354.9 1019.2,354.9 1020,354.9 1020.8,354.9 1021.6,354.9 1022.4,354.9 1023.2,354.9 1024,354.9 1024.8,354.9 1025.6,354.9 1026.4,354.9 1027.2,354.9 1028,354.9 1028.8,354.9 1029.6,354.9 1030.4,354.9 1031.2,354.9 1032,354.9 1032.8,354.9 1033.6,354.9 1034.4,354.9 1035.2,354.9 1036,354.9 1036.8,354.9 1037.6,354.9 1038.4,354.9 1039.2,354.9 1040,354.9 1040.8,354.9 1041.6,354.9 1042.4,354.9 1043.2,354.9 1044,354.9 1044.8,354.9 1045.6,354.9 1046.4,354.9 1047.2,354.9 1048,354.9 1048.8,354.9 1049.6,354.9 1050.4,354.9 1051.2,354.9 1052,354.9 1052.8,354.9 1053.6,354.9 1054.4,354.9 1055.2,354.9 1056,354.9 1056.8,354.9 1057.6,354.9 1058.4,354.9 1059.2,354.9 1060,354.9 1060.8,354.9 1061.6,354.9 1062.4,354.9 1063.2,354.9 1064,354.9 1064.8,354.9 1065.6,354.9 1066.4,354.9 1067.2,354.9 1068,354.9 1068.8,354.9 1069.6,354.9 1070.4,354.9 1071.2,354.9 1072,354.9 1072.8,354.9 1073.6,354.9 1074.4,354.9 1075.2,354.9 1076,354.9 1076.8,354.9 1077.6,354.9 1078.4,354.9 1079.2,354.9 1080,354.9 1080.8,354.9 1081.6,354.9 1082.4,354.9 1083.2,354.9 1084,354.9 1084.8,354.9 1085.6,354.9 1086.4,354.9 1087.2,354.9 1088,354.9 1088.8,354.9 1089.6,354.9 1090.4,354.9 1091.2,354.9 1092,354.9 1092.8,354.9 1093.6,354.9 1094.4,354.9 1095.2,354.9 1096,354.9 1096.8,354.9 1097.6,354.9 1098.4,354.9 1099.2,354.9 1100,354.9 1100.8,354.9 1101.6,354.9 1102.4,354.9 1103.2,354.9 1104,354.9 1104.8,354.9 1105.6,354.9 1106.4,354.9 1107.2,354.9 1108,354.9 1108.8,354.9 1109.6,354.9 1110.4,354.9 1111.2,354.9 1112,354.9 1112.8,354.9 1113.6,354.8 1114.4,354.8 1115.2,354.8 1116,354.8 1116.8,354.8 1117.6,354.8 1118.4,354.8 1119.2,354.8 1120,354.7 1120.8,354.2 1121.6,354.2 1122.4,355 1123.2,353.7 1124,354.6 1124.8,353.6 1125.6,355.1 1126.4,354.7 1127.2,355.2 1128,354.4 1128.8,354.8 1129.6,354.5 1130.4,354.2 1131.2,354.6 1132,354 1132.8,354.4 1133.6,354.8 1134.4,354.5 1135.2,354.3 1136,355.4 1136.8,354.5 1137.6,354.1 1138.4,354.4 1139.2,354.1 1140,354.1 1140.8,354.1 1141.6,355.2 1142.4,354.2 1143.2,354.3 1144,354.5 1144.8,355.1 1145.6,354 1146.4,353.8 1147.2,355.2 1148,353.4 1148.8,353.8 1149.6,354.3 1150.4,355 1151.2,353.5 1152,352.8 1152.8,354.2 1153.6,353.6 1154.4,353.6 1155.2,354 1156,353.8 1156.8,353.8 1157.6,353.5 1158.4,354.2 1159.2,354.3 1160,353.6 1160.8,353.3 1161.6,353.8 1162.4,353.7 1163.2,353 1164,353.2 1164.8,353.8 1165.6,353.2 1166.4,353.1 1167.2,353.3 1168,353.1 1168.8,353.1 1169.6,352.2 1170.4,353.8 1171.2,353.1 1172,352.5 1172.8,353.3 1173.6,353 1174.4,352.8 1175.2,353.2 1176,353.7 1176.8,352.9 1177.6,353.3 1178.4,353.5 1179.2,352.1 1180,352.2 1180.8,352.8 1181.6,351.6 1182.4,352.2 1183.2,352.9 1184,352.7 1184.8,352.5 1185.6,351.3 1186.4,353.2 1187.2,352.3 1188,352.3 1188.8,352.1 1189.6,351.1 1190.4,351.1 1191.2,351.2 1192,352.5 1192.8,351.2 1193.6,351.4 1194.4,351.4 1195.2,351.7 1196,351.6 1196.8,351.4 1197.6,350.7 1198.4,349.8 1199.2,351.2 1200,351.2 1200.8,351.6 1201.6,350.9 1202.4,350.6 1203.2,351 1204,350.1 1204.8,350.2 1205.6,350.2 1206.4,350.7 1207.2,351.5 1208,350.8 1208.8,350.9 1209.6,350.4 1210.4,350.4 1211.2,350 1212,349.9 1212.8,348.9 1213.6,349.3 1214.4,349.2 1215.2,350.1 1216,349.9 1216.8,350 1217.6,350.1 1218.4,349.2 1219.2,349.7 1220,350 1220.8,349.1 1221.6,349.5 1222.4,348.8 1223.2,348.1 1224,348.7 1224.8,348.2 1225.6,348.6 1226.4,348.2 1227.2,348.5 1228,347.3 1228.8,349.1 1229.6,348.7 1230.4,347.8 1231.2,347.4 1232,347.7 1232.8,347.9 1233.6,347.7 1234.4,347.6 1235.2,346.4 1236,346.7 1236.8,347.7 1237.6,347.1 1238.4,346.2 1239.2,346.4 1240,346 1240.8,346.1 1241.6,347 1242.4,346.2 1243.2,346.7 1244,346.2 1244.8,345.3 1245.6,345.6 1246.4,346.9 1247.2,345.4 1248,345.2 1248.8,346.1 1249.6,345.5 1250.4,345.3 1251.2,345.9 1252,344.4 1252.8,345.3 1253.6,344.5 1254.4,344.2 1255.2,344.4 1256,345.3 1256.8,344.6 1257.6,343.8 1258.4,344 1259.2,345.2 1260,344.9 1260.8,343.9 1261.6,345.4 1262.4,344.1 1263.2,343.7 1264,344.2 1264.8,344.7 1265.6,345.1 1266.4,344.8 1267.2,344.2 1268,344.2 1268.8,343.8 1269.6,344.5 1270.4,344.4 1271.2,344.9 1272,344.3 1272.8,344.9 1273.6,344.9 1274.4,344.9 1275.2,345.1 1276,345.3 1276.8,345.4 1277.6,346.4 1278.4,346.4 1279.2,346 1280,347.1 1280.8,347.2 1281.6,348 1282.4,347.5 1283.2,347.7 1284,347.7 1284.8,348.4 1285.6,348.8 1286.4,348.9 1287.2,348.9 1288,349.5 1288.8,349.5 1289.6,349.8 1290.4,349.5 1291.2,350.2 1292,349.8 1292.8,350.1 1293.6,350.8 1294.4,351.9 1295.2,351.6 1296,351.3 1296.8,351.4 1297.6,352.1 1298.4,352.5 1299.2,352.5 1300,352 1300.8,352.3 1301.6,352.2 1302.4,352.4 1303.2,352.2 1304,352.6 1304.8,351.9 1305.6,352.5 1306.4,353.3 1307.2,352.8 1308,353.6 1308.8,352.9 1309.6,353.4 1310.4,353.8 1311.2,353.2 1312,353.4 1312.8,355 1313.6,353.6 1314.4,353.7 1315.2,353.8 1316,354.1 1316.8,354.2 1317.6,354.7 1318.4,354.6 1319.2,354.1 1320,354.1 1320.8,353.6 1321.6,353.6 1322.4,354 1323.2,354.6 1324,354.4 1324.8,354.7 1325.6,354.7 1326.4,354.2 1327.2,355.3 1328,354 1328.8,353.9 1329.6,353.9 1330.4,354.5 1331.2,353.9 1332,353.5 1332.8,354 1333.6,354.2 1334.4,353.6 1335.2,353.6 1336,354.3 1336.8,354.3 1337.6,354.4 1338.4,353.7 1339.2,354.2 1340,354.3 1340.8,353.4 1341.6,354.8 1342.4,354.3 1343.2,354.1 1344,355.3 1344.8,354.4 1345.6,354 1346.4,354.3 1347.2,354.6 1348,354.8 1348.8,354.4 1349.6,354 1350.4,354.1 1351.2,354.1 1352,354 1352.8,354.5" fill="none" stroke="#1e78f0" stroke-width="2.4"/>
<polyline points="844,483 844.5,483.3 845,483.6 845.5,483.4 846,483.4 846.5,483.1 847,483.3 847.5,483.3 848,483.6 848.5,483.4 849,483.4 849.5,483.2 850,483.2 850.5,483.4 851,483.7 851.5,483 852,482.8 852.5,483.9 853,483.8 853.5,483.6 854,483.5 854.5,483.3 855,483.3 855.5,483.1 856,483.5 856.5,483.4 857,483 857.5,483.3 858,483.3 858.5,483.3 859,483.9 859.5,483.7 860,482.7 860.5,483.5 861,483.7 861.5,483.7 862,483.6 862.5,482.9 863,483.6 863.5,483.4 864,483.7 864.5,483.5 865,483.1 865.5,483.8 866,483.1 866.5,483.7 867,483.5 867.5,483.3 868,482.9 868.5,483.2 869,483.2 869.5,483.4 870,483.4 870.5,483.8 871,483.5 871.5,483.7 872,483.1 872.5,483.3 873,483.6 873.5,483.6 874,483.6 874.5,483.3 875,483.2 875.5,483.8 876,483.2 876.5,483.3 877,483.8 877.5,483.4 878,483.3 878.5,483.6 879,483.4 879.5,483.7 880,483.4 880.5,483.2 881,484 881.5,483.7 882,483.4 882.5,483.4 883,483.1 883.5,483.3 884,483.1 884.5,483.6 885,483.7 885.5,483.3 886,483.3 886.5,483.5 887,483.4 887.5,483.5 888,483.5 888.5,483.5 889,483.5 889.5,483.2 890,483.6 890.5,482.9 891,483.4 891.5,483.3 892,483.5 892.5,483.4 893,483.5 893.5,483 894,483.3 894.5,483.2 895,483.5 895.5,483.4 896,483.3 896.5,483.3 897,483.2 897.5,483.4 898,483.5 898.5,483.6 899,483.4 899.5,483.1 900,483.2 900.5,483.5 901,483.1 901.5,483.3 902,482.8 902.5,483.5 903,483.3 903.5,483.2 904,483.3 904.5,483.4 905,483.2 905.5,483.3 906,483.1 906.5,482.8 907,482.5 907.5,483.1 908,482.4 908.5,482.1 909,481.3 909.5,480 910,478.5 910.5,477 911,475.8 911.5,473.7 912,471.9 912.5,470.1 913,467 913.5,463.7 914,460.2 914.5,456.8 915,453 915.5,449.5 916,445.7 916.5,441.1 917,436.8 917.5,432.7 918,428 918.5,423.8 919,419.6 919.5,415.1 920,411.1 920.5,406.2 921,401.1 921.5,396.7 922,391.8 922.5,387.1 923,381.7 923.5,377.2 924,372.6 924.5,367.6 925,362.9 925.5,357.7 926,353.4 926.5,348.9 927,345 927.5,340.1 928,336.4 928.5,331.9 929,327.6 929.5,323.1 930,318.7 930.5,314.3 931,310.3 931.5,305.6 932,301.7 932.5,297.1 933,292.7 933.5,288.5 934,283.8 934.5,279.6 935,273.9 935.5,267.7 936,260.9 936.5,253.5 937,246.7 937.5,239.2 938,231.9 938.5,225.6 939,218.6 939.5,211.8 940,205.1 940.5,198.2 941,191.7 941.5,185.7 942,179.4 942.5,173.6 943,167.6 943.5,161.9 944,156.1 944.5,150.3 945,144.3 945.5,138.3 946,132.7 946.5,127 947,121.2 947.5,115.9 948,109.7 948.5,103.8 949,98.3 949.5,93.3 950,88 950.5,85.5 951,86.7 951.5,92 952,98.9 952.5,107.4 953,116.6 953.5,126.3 954,135.8 954.5,146.1 955,155.2 955.5,163.1 956,171.9 956.5,181.2 957,196.3 957.5,230.6 958,275.2 958.5,307.3 959,328.4 959.5,347.3 960,362.6 960.5,376.2 961,390.1 961.5,402.6 962,412 962.5,420 963,427.5 963.5,434.2 964,439.1 964.5,443 965,446.3 965.5,449 966,451.7 966.5,454 967,455.7 967.5,457.5 968,459.1 968.5,460.4 969,462.2 969.5,463.1 970,464.2 970.5,465.6 971,466 971.5,466.3 972,467 972.5,467.3 973,467.6 973.5,467 974,467.3 974.5,467.3 975,467.8 975.5,467.7 976,468 976.5,468.3 977,468 977.5,467.6 978,467.8 978.5,467.8 979,467.3 979.5,468 980,467.7 980.5,467.8 981,467.9 981.5,467.7 982,468 982.5,467.9 983,467.6 983.5,467.9 984,467.9 984.5,468.2 985,468.8 985.5,468.5 986,469.4 986.5,469.8 987,470.6 987.5,471.6 988,472.6 988.5,472.7 989,473.9 989.5,475 990,475.4 990.5,476.5 991,477.3 991.5,478.2 992,478.6 992.5,478.6 993,479.5 993.5,480.2 994,480.4 994.5,480.7 995,481.4 995.5,481.2 996,481.8 996.5,482.1 997,481.6 997.5,482.2 998,482.3 998.5,482.3 999,483.1 999.5,482.5 1000,482.9 1000.5,482.6 1001,482.7 1001.5,482.8 1002,483 1002.5,482.8 1003,482.9 1003.5,482.9 1004,483 1004.5,483 1005,483 1005.5,483.1 1006,483.1 1006.5,483 1007,483 1007.5,483.1 1008,483.1 1008.5,483.3 1009,483.1 1009.5,483.3 1010,483.1 1010.5,483.3 1011,483 1011.5,483.1 1012,483.3 1012.5,483.2 1013,482.9 1013.5,483.1 1014,483.2 1014.5,483.1 1015,483 1015.5,483 1016,483.4 1016.5,483.1 1017,483.3 1017.5,483.3 1018,483.1 1018.5,483.2 1019,483.2 1019.5,483.1 1020,483.2 1020.5,483.2 1021,483.2 1021.5,483.1 1022,483.1 1022.5,483.2 1023,483.1 1023.5,483.3 1024,483.2 1024.5,483.2 1025,483.2 1025.5,483.2 1026,483.2 1026.5,483.1 1027,483.3 1027.5,483.4 1028,483.4 1028.5,483.3 1029,483.2 1029.5,483.6 1030,483.2 1030.5,483.2 1031,483.1 1031.5,483.2 1032,483.1 1032.5,483.1 1033,483.2 1033.5,483.2 1034,483.2 1034.5,483.2 1035,483 1035.5,483.3 1036,483.1 1036.5,483.2 1037,483 1037.5,483.3 1038,483.2 1038.5,483.2 1039,483.1 1039.5,483.1 1040,483.4 1040.5,483.1 1041,483 1041.5,483.1 1042,483.2 1042.5,483.2 1043,483.2 1043.5,483.2 1044,483.4 1044.5,483.4 1045,483.1 1045.5,483.2 1046,483.2 1046.5,483.3 1047,483.4 1047.5,483.3 1048,483.2 1048.5,483.2 1049,483.1 1049.5,483.2 1050,483.2 1050.5,483.1 1051,483.2 1051.5,483.3 1052,483.1 1052.5,483.2 1053,483.2 1053.5,483 1054,483.3 1054.5,483 1055,483 1055.5,483.2 1056,483.2 1056.5,483.3 1057,483.2 1057.5,483.3 1058,483.2 1058.5,483.3 1059,483.3 1059.5,483 1060,483.2 1060.5,483.3 1061,483.2 1061.5,483.2 1062,483.2 1062.5,483.4 1063,483.3 1063.5,483.1 1064,483.3 1064.5,483.2 1065,483.2 1065.5,483.2 1066,482.9 1066.5,482.9 1067,483.1 1067.5,483.3 1068,483.3 1068.5,483 1069,483.3 1069.5,483.4 1070,483 1070.5,483.1 1071,482.9 1071.5,482.9 1072,482.8 1072.5,482.9 1073,483 1073.5,482.9 1074,483 1074.5,482.9 1075,482.7 1075.5,482.3 1076,482.4 1076.5,482.2 1077,481.9 1077.5,481.9 1078,481.5 1078.5,481.5 1079,481.4 1079.5,481.6 1080,481.4 1080.5,481.6 1081,481.9 1081.5,482.3 1082,482.6 1082.5,482.6 1083,482.7 1083.5,483 1084,482.8 1084.5,482.9 1085,483.1 1085.5,483.1 1086,483 1086.5,483.2 1087,483.1 1087.5,483.1 1088,483.1 1088.5,483.3 1089,483.5 1089.5,483.4 1090,483.4 1090.5,483.5 1091,483.3 1091.5,483.4 1092,483.5 1092.5,483.4 1093,483.5 1093.5,483.4 1094,483.4 1094.5,483.5 1095,483.5 1095.5,483.6 1096,483.3 1096.5,483.3 1097,483.7 1097.5,483.4 1098,483.6 1098.5,483.4 1099,483.3 1099.5,483.3 1100,483.3 1100.5,483.5 1101,483.2 1101.5,483.3 1102,483.5 1102.5,483.4 1103,483.3 1103.5,483.3 1104,483.3 1104.5,483.3 1105,483.6 1105.5,483.5 1106,483.4 1106.5,483.5 1107,483.4 1107.5,483.1 1108,483.6 1108.5,483.2 1109,483.4 1109.5,483.5 1110,483.2 1110.5,483.5 1111,483.3 1111.5,483.3 1112,483.4 1112.5,483.3 1113,483.3 1113.5,483.4 1114,483.5 1114.5,483.3 1115,483.2 1115.5,483.4 1116,483.4 1116.5,483.2 1117,483.4 1117.5,483.3 1118,483.4 1118.5,483.4 1119,483.4 1119.5,483.3 1120,483.5 1120.5,483.5 1121,483.5 1121.5,483.5 1122,483.6 1122.5,483.4 1123,483.3 1123.5,483.5 1124,483.3 1124.5,483.4 1125,483.5 1125.5,483.5 1126,483.6 1126.5,483.2 1127,483.2 1127.5,483.3 1128,483.2 1128.5,483.5 1129,483.5 1129.5,483.2 1130,483.5 1130.5,483.6 1131,483.6 1131.5,483.5 1132,483.3 1132.5,483.4 1133,483.3 1133.5,483.4 1134,483.5 1134.5,483.5 1135,483.4 1135.5,483.3 1136,483.6 1136.5,483.4 1137,483.4 1137.5,483.5 1138,483.4 1138.5,483.4 1139,483.4 1139.5,483.3 1140,483.4 1140.5,483.4 1141,483.4 1141.5,483.4 1142,483.4 1142.5,483.6 1143,483.3 1143.5,483.3 1144,483.4 1144.5,483.5 1145,483.4 1145.5,483.5 1146,483.4 1146.5,483.6 1147,483.4 1147.5,483.2 1148,483.2 1148.5,483.6 1149,483.3 1149.5,483.6 1150,483.5 1150.5,483.2 1151,483.6 1151.5,483.3 1152,483.5 1152.5,483.4 1153,483.3 1153.5,483.4 1154,483.4 1154.5,483.4 1155,483.4 1155.5,483.6 1156,483.3 1156.5,483.6 1157,483.4 1157.5,483.3 1158,483.5 1158.5,483.5 1159,483.5 1159.5,483.4 1160,483.6 1160.5,483.5 1161,483.4 1161.5,483.5 1162,483.2 1162.5,483.4 1163,483.4 1163.5,483.4 1164,483.6 1164.5,483.4 1165,483.4 1165.5,483.7 1166,483.7 1166.5,483.2 1167,483.5 1167.5,483.4 1168,483.3 1168.5,483.3 1169,483.3 1169.5,483.4 1170,483.4 1170.5,483.5 1171,483.6 1171.5,483.5 1172,483.6 1172.5,483.6 1173,483.4 1173.5,483.3 1174,483.5 1174.5,483.4 1175,483.5 1175.5,483.6 1176,483.3 1176.5,483.6 1177,483.4 1177.5,483.4 1178,483.8 1178.5,483.3 1179,483.3 1179.5,483.5 1180,483.4 1180.5,483.4 1181,483.4 1181.5,483.3 1182,483.4 1182.5,483.4 1183,483.4 1183.5,483.5 1184,483.5 1184.5,483.4 1185,483.5 1185.5,483.5 1186,483.5 1186.5,483.4 1187,483.3 1187.5,483.2 1188,483.3 1188.5,483.4 1189,483.4 1189.5,483.4 1190,483.4 1190.5,483.7 1191,483.5 1191.5,483.5 1192,483.5 1192.5,483.6 1193,483.5 1193.5,483.4 1194,483.2 1194.5,483.4 1195,483.6 1195.5,483.5 1196,483.4 1196.5,483.6 1197,483.7 1197.5,483.3 1198,483.4 1198.5,483.5 1199,483.2 1199.5,483.4 1200,483.4 1200.5,483.5 1201,483.2 1201.5,483.6 1202,483.4 1202.5,483.5 1203,483.3 1203.5,483.5 1204,483.5 1204.5,483.6 1205,483.5 1205.5,483.6 1206,483.3 1206.5,483.6 1207,483.6 1207.5,483.4 1208,483.3 1208.5,483.5 1209,483.4 1209.5,483.4 1210,483.5 1210.5,483.5 1211,483.3 1211.5,483.4 1212,483.5 1212.5,483.6 1213,483.7 1213.5,483.4 1214,483.4 1214.5,483.5 1215,483.4 1215.5,483.2 1216,483.6 1216.5,483.5 1217,483.3 1217.5,483.7 1218,483.5 1218.5,483.4 1219,483.5 1219.5,483.4 1220,483.4 1220.5,483.7 1221,483.3 1221.5,483.7 1222,483.3 1222.5,483.4 1223,483.6 1223.5,483.4 1224,483.4 1224.5,483.6 1225,483.4 1225.5,483.5 1226,483.4 1226.5,483.6 1227,483.4 1227.5,483.5 1228,483.5 1228.5,483.3 1229,483.6 1229.5,483.4 1230,483.3 1230.5,483.6 1231,483.4 1231.5,483.3 1232,483.4 1232.5,483.4 1233,483.4 1233.5,483.5 1234,483.3 1234.5,483.5 1235,483.6 1235.5,483.7 1236,483.5 1236.5,483.4 1237,483.5 1237.5,483.5 1238,483.3 1238.5,483.3 1239,483.3 1239.5,483.5 1240,483.5 1240.5,483.6 1241,483.5 1241.5,483.5 1242,483.7 1242.5,483.5 1243,483.5 1243.5,483.5 1244,483.4 1244.5,483.4 1245,483.4 1245.5,483.5 1246,483.6 1246.5,483.5 1247,483.5 1247.5,483.4 1248,483.6 1248.5,483.6 1249,483.5 1249.5,483.3 1250,483.4 1250.5,483.4 1251,483.5 1251.5,483.6 1252,483.4 1252.5,483.6 1253,483.5 1253.5,483.2 1254,483.4 1254.5,483.4 1255,483.4 1255.5,483.4 1256,483.5 1256.5,483.6 1257,483.6 1257.5,483.5 1258,483.4 1258.5,483.3 1259,483.4 1259.5,483.4 1260,483.4 1260.5,483.3 1261,483.5 1261.5,483.5 1262,483.6 1262.5,483.5 1263,483.5 1263.5,483.5 1264,483.3 1264.5,483.6 1265,483.6 1265.5,483.3 1266,483.5 1266.5,483.6 1267,483.6 1267.5,483.5 1268,483.5 1268.5,483.4 1269,483.6 1269.5,483.5 1270,483.3 1270.5,483.5 1271,483.3 1271.5,483.4 1272,483.3 1272.5,483.5 1273,483.2 1273.5,483.3 1274,483.6 1274.5,483.3 1275,483.6 1275.5,483.4 1276,483.4 1276.5,483.5 1277,483.5 1277.5,483.6 1278,483.5 1278.5,483.3 1279,483.6 1279.5,483.5 1280,483.4 1280.5,483.5 1281,483.6 1281.5,483.4 1282,483.7 1282.5,483.6 1283,483.4 1283.5,483.5 1284,483.6 1284.5,483.6 1285,483.6 1285.5,483.4 1286,483.3 1286.5,483.7 1287,483.3 1287.5,483.3 1288,483.7 1288.5,483.5 1289,483.6 1289.5,483.5 1290,483.5 1290.5,483.4 1291,483.5 1291.5,483.7 1292,483.5 1292.5,483.6 1293,483.4 1293.5,483.5 1294,483.5 1294.5,483.4 1295,483.6 1295.5,483.4 1296,483.4 1296.5,483.4 1297,483.4 1297.5,483.6 1298,483.6 1298.5,483.4 1299,483.5 1299.5,483.6 1300,483.3 1300.5,483.2 1301,483.3 1301.5,483.6 1302,483.1 1302.5,483.6 1303,483.4 1303.5,483.4 1304,483.4 1304.5,483.2 1305,483.6 1305.5,483.6 1306,483.2 1306.5,483.5 1307,483.6 1307.5,483.4 1308,483.4 1308.5,483.3 1309,483.4 1309.5,483.5 1310,483.3 1310.5,483.6 1311,483.4 1311.5,483.8 1312,483.5 1312.5,483.4 1313,483.5 1313.5,483.6 1314,483.6 1314.5,483.4 1315,483.5 1315.5,483.4 1316,483.4 1316.5,483.4 1317,483.6 1317.5,483.6 1318,483.5 1318.5,483.6 1319,483.4 1319.5,483.5 1320,483.4 1320.5,483.7 1321,483.7 1321.5,483.3 1322,483.5 1322.5,483.6 1323,483.5 1323.5,483.4 1324,483.3 1324.5,483.6 1325,483.6 1325.5,483.5 1326,483.3 1326.5,483.5 1327,483.3 1327.5,483.6 1328,483.7 1328.5,483.5 1329,483.5 1329.5,483.4 1330,483.5 1330.5,483.3 1331,483.4 1331.5,483.5 1332,483.5 1332.5,483.8 1333,483.4 1333.5,483.7 1334,483.7 1334.5,483.6 1335,483.5 1335.5,483.7 1336,483.4 1336.5,483.7 1337,483.4 1337.5,483.2 1338,483.5 1338.5,483.6 1339,483.6 1339.5,483.4 1340,483.5 1340.5,483.5 1341,483.4 1341.5,483.5 1342,483.6 1342.5,483.6 1343,483.5 1343.5,483.6 1344,483.3 1344.5,483.5 1345,483.6 1345.5,483.7 1346,483.7 1346.5,483.6 1347,483.4 1347.5,483.6 1348,483.4 1348.5,483.4 1349,483.2 1349.5,483.6 1350,483.4 1350.5,483.4 1351,483.5 1351.5,483.8 1352,483.4 1352.5,483.4 1353,483.6" fill="none" stroke="#cf0a14" stroke-width="2.6"/>
</g>
<rect x="844.8" y="17.1" width="508" height="485.8" fill="none" stroke="#000" stroke-width="1.55"/>
<line x1="917.37" y1="502.9" x2="917.37" y2="493.9" stroke="#000" stroke-width="1.6"/>
<line x1="989.94" y1="502.9" x2="989.94" y2="493.9" stroke="#000" stroke-width="1.6"/>
<line x1="1062.51" y1="502.9" x2="1062.51" y2="493.9" stroke="#000" stroke-width="1.6"/>
<line x1="1135.09" y1="502.9" x2="1135.09" y2="493.9" stroke="#000" stroke-width="1.6"/>
<line x1="1207.66" y1="502.9" x2="1207.66" y2="493.9" stroke="#000" stroke-width="1.6"/>
<line x1="1280.23" y1="502.9" x2="1280.23" y2="493.9" stroke="#000" stroke-width="1.6"/>
<line x1="881.09" y1="502.9" x2="881.09" y2="498.4" stroke="#000" stroke-width="1.6"/>
<line x1="953.66" y1="502.9" x2="953.66" y2="498.4" stroke="#000" stroke-width="1.6"/>
<line x1="1026.23" y1="502.9" x2="1026.23" y2="498.4" stroke="#000" stroke-width="1.6"/>
<line x1="1098.8" y1="502.9" x2="1098.8" y2="498.4" stroke="#000" stroke-width="1.6"/>
<line x1="1171.37" y1="502.9" x2="1171.37" y2="498.4" stroke="#000" stroke-width="1.6"/>
<line x1="1243.94" y1="502.9" x2="1243.94" y2="498.4" stroke="#000" stroke-width="1.6"/>
<line x1="1316.51" y1="502.9" x2="1316.51" y2="498.4" stroke="#000" stroke-width="1.6"/>
<line x1="844.8" y1="133.7" x2="853.2" y2="133.7" stroke="#000" stroke-width="1.6"/>
<line x1="844.8" y1="250.3" x2="853.2" y2="250.3" stroke="#000" stroke-width="1.6"/>
<line x1="844.8" y1="366.9" x2="853.2" y2="366.9" stroke="#000" stroke-width="1.6"/>
<line x1="844.8" y1="483.5" x2="853.2" y2="483.5" stroke="#000" stroke-width="1.6"/>
<line x1="844.8" y1="75.4" x2="849.1" y2="75.4" stroke="#000" stroke-width="1.6"/>
<line x1="844.8" y1="192" x2="849.1" y2="192" stroke="#000" stroke-width="1.6"/>
<line x1="844.8" y1="308.6" x2="849.1" y2="308.6" stroke="#000" stroke-width="1.6"/>
<line x1="844.8" y1="425.2" x2="849.1" y2="425.2" stroke="#000" stroke-width="1.6"/>
<text transform="translate(835.2 23.9) scale(0.95 1)" font-size="25.8" text-anchor="end">2.40E-11</text>
<text transform="translate(835.2 141.4) scale(0.95 1)" font-size="25.8" text-anchor="end">1.80E-11</text>
<text transform="translate(835.2 258) scale(0.95 1)" font-size="25.8" text-anchor="end">1.20E-11</text>
<text transform="translate(835.2 374.6) scale(0.95 1)" font-size="25.8" text-anchor="end">6.00E-12</text>
<text transform="translate(835.2 491.2) scale(0.95 1)" font-size="25.8" text-anchor="end">0.00E+00</text>
<text transform="translate(844.2 534) scale(0.94 1)" font-size="32.4" text-anchor="middle">100</text>
<text transform="translate(916.77 534) scale(0.94 1)" font-size="32.4" text-anchor="middle">200</text>
<text transform="translate(989.34 534) scale(0.94 1)" font-size="32.4" text-anchor="middle">300</text>
<text transform="translate(1061.91 534) scale(0.94 1)" font-size="32.4" text-anchor="middle">400</text>
<text transform="translate(1134.49 534) scale(0.94 1)" font-size="32.4" text-anchor="middle">500</text>
<text transform="translate(1207.06 534) scale(0.94 1)" font-size="32.4" text-anchor="middle">600</text>
<text transform="translate(1279.63 534) scale(0.94 1)" font-size="32.4" text-anchor="middle">700</text>
<text transform="translate(1348.8 534) scale(0.94 1)" font-size="32.4" text-anchor="middle">800</text>
<text transform="translate(952.5 581.2) scale(0.98 1)" font-size="40.61">Temperature (°C)</text>
<text transform="translate(718.5 377.35) rotate(-90) scale(0.98 1)" font-size="39.12">Ion current (A)</text>
<line x1="1137.6" y1="56.6" x2="1197.2" y2="56.6" stroke="#e8e11c" stroke-width="2.8" stroke-linecap="round"/>
<text transform="translate(1206.5 65.9) scale(0.98 1)" font-size="34.95">m/z = 17</text>
<line x1="1137.6" y1="108.1" x2="1197.2" y2="108.1" stroke="#1e78f0" stroke-width="2.8" stroke-linecap="round"/>
<text transform="translate(1206.5 117.4) scale(0.98 1)" font-size="34.95">m/z = 42</text>
<line x1="1137.6" y1="159.6" x2="1197.2" y2="159.6" stroke="#cf0a14" stroke-width="2.8" stroke-linecap="round"/>
<text transform="translate(1206.51 168.9) scale(0.98 1)" font-size="34.86">m/z = 76</text>
<text transform="translate(1250.44 323.2) scale(0.98 1)" font-size="30.08">H<tspan dy="9.02" font-size="18.05">2</tspan><tspan dy="-9.02">NCN</tspan></text>
<text transform="translate(1291.49 395.4) scale(0.98 1)" font-size="30.73">NH<tspan dy="9.22" font-size="18.44">3</tspan></text>
<text transform="translate(1293.71 460) scale(0.98 1)" font-size="30.49">CS<tspan dy="9.15" font-size="18.29">2</tspan></text>
<text transform="translate(692 49.2)" font-size="68">b</text>
</g>
<g id="panel-c">
<rect x="88.3" y="604.6" width="568.3" height="355.8" fill="none" stroke="#000" stroke-width="1.5"/>
<line x1="169.49" y1="960.4" x2="169.49" y2="951.6" stroke="#000" stroke-width="1.7"/>
<line x1="250.67" y1="960.4" x2="250.67" y2="951.6" stroke="#000" stroke-width="1.7"/>
<line x1="331.86" y1="960.4" x2="331.86" y2="951.6" stroke="#000" stroke-width="1.7"/>
<line x1="413.04" y1="960.4" x2="413.04" y2="951.6" stroke="#000" stroke-width="1.7"/>
<line x1="494.23" y1="960.4" x2="494.23" y2="951.6" stroke="#000" stroke-width="1.7"/>
<line x1="575.41" y1="960.4" x2="575.41" y2="951.6" stroke="#000" stroke-width="1.7"/>
<line x1="128.89" y1="960.4" x2="128.89" y2="956" stroke="#000" stroke-width="1.7"/>
<line x1="210.08" y1="960.4" x2="210.08" y2="956" stroke="#000" stroke-width="1.7"/>
<line x1="291.26" y1="960.4" x2="291.26" y2="956" stroke="#000" stroke-width="1.7"/>
<line x1="372.45" y1="960.4" x2="372.45" y2="956" stroke="#000" stroke-width="1.7"/>
<line x1="453.64" y1="960.4" x2="453.64" y2="956" stroke="#000" stroke-width="1.7"/>
<line x1="534.82" y1="960.4" x2="534.82" y2="956" stroke="#000" stroke-width="1.7"/>
<line x1="616.01" y1="960.4" x2="616.01" y2="956" stroke="#000" stroke-width="1.7"/>
<line x1="88.3" y1="924.82" x2="97.3" y2="924.82" stroke="#000" stroke-width="1.7"/>
<line x1="88.3" y1="853.66" x2="97.3" y2="853.66" stroke="#000" stroke-width="1.7"/>
<line x1="88.3" y1="782.5" x2="97.3" y2="782.5" stroke="#000" stroke-width="1.7"/>
<line x1="88.3" y1="711.34" x2="97.3" y2="711.34" stroke="#000" stroke-width="1.7"/>
<line x1="88.3" y1="640.18" x2="97.3" y2="640.18" stroke="#000" stroke-width="1.7"/>
<line x1="88.3" y1="889.24" x2="92.8" y2="889.24" stroke="#000" stroke-width="1.7"/>
<line x1="88.3" y1="818.08" x2="92.8" y2="818.08" stroke="#000" stroke-width="1.7"/>
<line x1="88.3" y1="746.92" x2="92.8" y2="746.92" stroke="#000" stroke-width="1.7"/>
<line x1="88.3" y1="675.76" x2="92.8" y2="675.76" stroke="#000" stroke-width="1.7"/>
<line x1="88.3" y1="782.5" x2="644.6" y2="782.5" stroke="#000" stroke-width="1.25" stroke-dasharray="9.3 8.74"/>
<path d="M656.3 782.5 Q647.3 778.3 641.1 770.9 L638.7 772.1 Q643.7 777.5 646.7 782.5 Q643.7 787.5 638.7 792.9 L641.1 794.1 Q647.3 786.7 656.3 782.5Z" fill="#000"/>
<g fill="#fff" stroke="#0f86ff" stroke-width="1.3"><circle cx="129.22" cy="816.8" r="4.15"/><circle cx="134.51" cy="816.84" r="4.15"/><circle cx="139.81" cy="816.91" r="4.15"/><circle cx="145.11" cy="817.01" r="4.15"/><circle cx="150.4" cy="817.15" r="4.15"/><circle cx="155.7" cy="817.33" r="4.15"/><circle cx="161" cy="817.53" r="4.15"/><circle cx="166.29" cy="817.78" r="4.15"/><circle cx="171.59" cy="818.05" r="4.15"/><circle cx="176.89" cy="818.36" r="4.15"/><circle cx="182.18" cy="818.7" r="4.15"/><circle cx="187.48" cy="819.08" r="4.15"/><circle cx="192.78" cy="819.49" r="4.15"/><circle cx="198.07" cy="819.94" r="4.15"/><circle cx="203.37" cy="820.41" r="4.15"/><circle cx="208.66" cy="820.93" r="4.15"/><circle cx="213.96" cy="821.45" r="4.15"/><circle cx="219.26" cy="821.98" r="4.15"/><circle cx="224.55" cy="822.55" r="4.15"/><circle cx="229.85" cy="823.14" r="4.15"/><circle cx="235.15" cy="823.75" r="4.15"/><circle cx="240.44" cy="824.39" r="4.15"/><circle cx="245.74" cy="825.05" r="4.15"/><circle cx="251.04" cy="825.74" r="4.15"/><circle cx="256.33" cy="826.47" r="4.15"/><circle cx="261.63" cy="827.22" r="4.15"/><circle cx="266.93" cy="828.01" r="4.15"/><circle cx="272.22" cy="828.81" r="4.15"/><circle cx="277.52" cy="829.65" r="4.15"/><circle cx="282.82" cy="830.52" r="4.15"/><circle cx="288.11" cy="831.41" r="4.15"/><circle cx="293.41" cy="832.32" r="4.15"/><circle cx="298.71" cy="833.25" r="4.15"/><circle cx="304" cy="834.2" r="4.15"/><circle cx="309.3" cy="835.17" r="4.15"/><circle cx="314.59" cy="836.17" r="4.15"/><circle cx="319.89" cy="837.19" r="4.15"/><circle cx="325.19" cy="838.23" r="4.15"/><circle cx="330.48" cy="839.29" r="4.15"/><circle cx="335.78" cy="840.43" r="4.15"/><circle cx="341.08" cy="841.63" r="4.15"/><circle cx="346.37" cy="842.86" r="4.15"/><circle cx="351.67" cy="844.14" r="4.15"/><circle cx="356.97" cy="845.46" r="4.15"/><circle cx="362.26" cy="846.81" r="4.15"/><circle cx="367.56" cy="848.21" r="4.15"/><circle cx="372.86" cy="849.64" r="4.15"/><circle cx="378.15" cy="851.07" r="4.15"/><circle cx="383.45" cy="852.54" r="4.15"/><circle cx="388.75" cy="854.03" r="4.15"/><circle cx="394.04" cy="855.56" r="4.15"/><circle cx="399.34" cy="857.11" r="4.15"/><circle cx="404.63" cy="858.7" r="4.15"/><circle cx="409.93" cy="860.31" r="4.15"/><circle cx="415.23" cy="861.95" r="4.15"/><circle cx="420.52" cy="863.62" r="4.15"/><circle cx="425.82" cy="865.31" r="4.15"/><circle cx="431.12" cy="867.03" r="4.15"/><circle cx="436.41" cy="868.78" r="4.15"/><circle cx="441.71" cy="870.55" r="4.15"/><circle cx="447.01" cy="872.36" r="4.15"/><circle cx="452.3" cy="874.19" r="4.15"/><circle cx="457.6" cy="876.02" r="4.15"/><circle cx="462.9" cy="877.87" r="4.15"/><circle cx="468.19" cy="879.74" r="4.15"/><circle cx="473.49" cy="881.64" r="4.15"/><circle cx="478.79" cy="883.55" r="4.15"/><circle cx="484.08" cy="885.48" r="4.15"/><circle cx="489.38" cy="887.43" r="4.15"/><circle cx="494.68" cy="889.41" r="4.15"/><circle cx="499.97" cy="891.5" r="4.15"/><circle cx="505.27" cy="893.64" r="4.15"/><circle cx="510.56" cy="895.81" r="4.15"/><circle cx="515.86" cy="898.03" r="4.15"/><circle cx="521.16" cy="900.29" r="4.15"/><circle cx="526.45" cy="902.59" r="4.15"/><circle cx="531.75" cy="904.94" r="4.15"/><circle cx="537.05" cy="907.31" r="4.15"/><circle cx="542.34" cy="909.68" r="4.15"/><circle cx="547.64" cy="912.08" r="4.15"/><circle cx="552.94" cy="914.51" r="4.15"/><circle cx="558.23" cy="916.98" r="4.15"/><circle cx="563.53" cy="919.47" r="4.15"/><circle cx="568.83" cy="921.99" r="4.15"/><circle cx="574.12" cy="924.55" r="4.15"/><circle cx="579.42" cy="927.25" r="4.15"/><circle cx="584.72" cy="930.06" r="4.15"/><circle cx="590.01" cy="932.93" r="4.15"/><circle cx="595.31" cy="935.87" r="4.15"/><circle cx="600.6" cy="938.88" r="4.15"/><circle cx="605.9" cy="941.96" r="4.15"/><circle cx="611.2" cy="945.1" r="4.15"/><circle cx="616.49" cy="948.32" r="4.15"/></g>
<text transform="translate(88.3 993.8) scale(0.98 1)" font-size="30.8" text-anchor="middle">500</text>
<text transform="translate(169.49 993.8) scale(0.98 1)" font-size="30.8" text-anchor="middle">550</text>
<text transform="translate(250.67 993.8) scale(0.98 1)" font-size="30.8" text-anchor="middle">600</text>
<text transform="translate(331.86 993.8) scale(0.98 1)" font-size="30.8" text-anchor="middle">650</text>
<text transform="translate(413.04 993.8) scale(0.98 1)" font-size="30.8" text-anchor="middle">700</text>
<text transform="translate(494.23 993.8) scale(0.98 1)" font-size="30.8" text-anchor="middle">750</text>
<text transform="translate(575.41 993.8) scale(0.98 1)" font-size="30.8" text-anchor="middle">800</text>
<text transform="translate(656.6 993.8) scale(0.98 1)" font-size="30.8" text-anchor="middle">850</text>
<text transform="translate(78.6 934.52) scale(1.02 1)" font-size="30.8" text-anchor="end">-20</text>
<text transform="translate(78.6 863.36) scale(1.02 1)" font-size="30.8" text-anchor="end">-10</text>
<text transform="translate(78.6 792.2) scale(1.02 1)" font-size="30.8" text-anchor="end">0</text>
<text transform="translate(78.6 721.04) scale(1.02 1)" font-size="30.8" text-anchor="end">10</text>
<text transform="translate(78.6 649.88) scale(1.02 1)" font-size="30.8" text-anchor="end">20</text>
<text transform="translate(219.4 1036.6) scale(0.98 1)" font-size="40.88">Temperature (°C)</text>
<text transform="translate(26.8 839.47) rotate(-90) scale(0.9776 1)" font-size="40.3">G (eV)</text>
<text transform="translate(102.87 702.6) scale(0.98 1)" font-size="27.25">4LiOH + <tspan fill="#12baff">CS</tspan><tspan dy="8.45" font-size="15.53" fill="#12baff">2</tspan><tspan dy="-8.45" fill="#12baff">(g)</tspan> = <tspan fill="#1e90ff">2Li</tspan><tspan dy="8.45" font-size="15.53" fill="#1e90ff">2</tspan><tspan dy="-8.45" fill="#1e90ff">S</tspan> + CO<tspan dy="8.45" font-size="15.53">2</tspan><tspan dy="-8.45">(g) + 2H</tspan><tspan dy="8.45" font-size="15.53">2</tspan><tspan dy="-8.45">O(g)</tspan></text>
<text transform="translate(114.39 904) scale(0.98 1)" font-size="30.89" fill="#0cb6fb">Thermodynamics</text>
<text transform="translate(113.76 941.9) scale(0.98 1)" font-size="31.08" fill="#0cb6fb">Favorable</text>
<text transform="translate(-1.6 654.4)" font-size="69.5">c</text>
</g>
<g id="panel-d">
<rect x="781.7" y="604.6" width="568.7" height="355.8" fill="none" stroke="#1f9a9a" stroke-width="2.3" opacity="0.4"/>
<rect x="781.7" y="604.6" width="568.7" height="355.8" fill="none" stroke="#04100f" stroke-width="1.5"/>
<line x1="862.94" y1="960.4" x2="862.94" y2="951.6" stroke="#04100f" stroke-width="1.7"/>
<line x1="944.19" y1="960.4" x2="944.19" y2="951.6" stroke="#04100f" stroke-width="1.7"/>
<line x1="1025.43" y1="960.4" x2="1025.43" y2="951.6" stroke="#04100f" stroke-width="1.7"/>
<line x1="1106.67" y1="960.4" x2="1106.67" y2="951.6" stroke="#04100f" stroke-width="1.7"/>
<line x1="1187.91" y1="960.4" x2="1187.91" y2="951.6" stroke="#04100f" stroke-width="1.7"/>
<line x1="1269.16" y1="960.4" x2="1269.16" y2="951.6" stroke="#04100f" stroke-width="1.7"/>
<line x1="822.32" y1="960.4" x2="822.32" y2="956" stroke="#04100f" stroke-width="1.7"/>
<line x1="903.56" y1="960.4" x2="903.56" y2="956" stroke="#04100f" stroke-width="1.7"/>
<line x1="984.81" y1="960.4" x2="984.81" y2="956" stroke="#04100f" stroke-width="1.7"/>
<line x1="1066.05" y1="960.4" x2="1066.05" y2="956" stroke="#04100f" stroke-width="1.7"/>
<line x1="1147.29" y1="960.4" x2="1147.29" y2="956" stroke="#04100f" stroke-width="1.7"/>
<line x1="1228.54" y1="960.4" x2="1228.54" y2="956" stroke="#04100f" stroke-width="1.7"/>
<line x1="1309.78" y1="960.4" x2="1309.78" y2="956" stroke="#04100f" stroke-width="1.7"/>
<line x1="781.7" y1="924.82" x2="790.7" y2="924.82" stroke="#04100f" stroke-width="1.7"/>
<line x1="781.7" y1="853.66" x2="790.7" y2="853.66" stroke="#04100f" stroke-width="1.7"/>
<line x1="781.7" y1="782.5" x2="790.7" y2="782.5" stroke="#04100f" stroke-width="1.7"/>
<line x1="781.7" y1="711.34" x2="790.7" y2="711.34" stroke="#04100f" stroke-width="1.7"/>
<line x1="781.7" y1="640.18" x2="790.7" y2="640.18" stroke="#04100f" stroke-width="1.7"/>
<line x1="781.7" y1="889.24" x2="786.2" y2="889.24" stroke="#04100f" stroke-width="1.7"/>
<line x1="781.7" y1="818.08" x2="786.2" y2="818.08" stroke="#04100f" stroke-width="1.7"/>
<line x1="781.7" y1="746.92" x2="786.2" y2="746.92" stroke="#04100f" stroke-width="1.7"/>
<line x1="781.7" y1="675.76" x2="786.2" y2="675.76" stroke="#04100f" stroke-width="1.7"/>
<line x1="781.7" y1="782.5" x2="1338.4" y2="782.5" stroke="#04141c" stroke-width="1.25" stroke-dasharray="9.3 8.74"/>
<path d="M1350.1 782.5 Q1341.1 778.3 1334.9 770.9 L1332.5 772.1 Q1337.5 777.5 1340.5 782.5 Q1337.5 787.5 1332.5 792.9 L1334.9 794.1 Q1341.1 786.7 1350.1 782.5Z" fill="#000"/>
<g fill="#fff" stroke="#ff2a18" stroke-width="1.2" stroke-linejoin="miter"><path d="M819.02 804.22v11.6l9.8 -5.8z"/><path d="M824.29 804.13v11.6l9.8 -5.8z"/><path d="M829.55 804.04v11.6l9.8 -5.8z"/><path d="M834.81 803.92v11.6l9.8 -5.8z"/><path d="M840.08 803.79v11.6l9.8 -5.8z"/><path d="M845.34 803.65v11.6l9.8 -5.8z"/><path d="M850.61 803.49v11.6l9.8 -5.8z"/><path d="M855.87 803.31v11.6l9.8 -5.8z"/><path d="M861.13 803.12v11.6l9.8 -5.8z"/><path d="M866.4 802.91v11.6l9.8 -5.8z"/><path d="M871.66 802.68v11.6l9.8 -5.8z"/><path d="M876.93 802.44v11.6l9.8 -5.8z"/><path d="M882.19 802.18v11.6l9.8 -5.8z"/><path d="M887.46 801.91v11.6l9.8 -5.8z"/><path d="M892.72 801.62v11.6l9.8 -5.8z"/><path d="M897.98 801.32v11.6l9.8 -5.8z"/><path d="M903.25 801v11.6l9.8 -5.8z"/><path d="M908.51 800.68v11.6l9.8 -5.8z"/><path d="M913.78 800.34v11.6l9.8 -5.8z"/><path d="M919.04 799.99v11.6l9.8 -5.8z"/><path d="M924.31 799.63v11.6l9.8 -5.8z"/><path d="M929.57 799.26v11.6l9.8 -5.8z"/><path d="M934.83 798.87v11.6l9.8 -5.8z"/><path d="M940.1 798.47v11.6l9.8 -5.8z"/><path d="M945.36 798.05v11.6l9.8 -5.8z"/><path d="M950.63 797.62v11.6l9.8 -5.8z"/><path d="M955.89 797.18v11.6l9.8 -5.8z"/><path d="M961.15 796.73v11.6l9.8 -5.8z"/><path d="M966.42 796.26v11.6l9.8 -5.8z"/><path d="M971.68 795.78v11.6l9.8 -5.8z"/><path d="M976.95 795.28v11.6l9.8 -5.8z"/><path d="M982.21 794.78v11.6l9.8 -5.8z"/><path d="M987.48 794.25v11.6l9.8 -5.8z"/><path d="M992.74 793.7v11.6l9.8 -5.8z"/><path d="M998 793.14v11.6l9.8 -5.8z"/><path d="M1003.27 792.56v11.6l9.8 -5.8z"/><path d="M1008.53 791.97v11.6l9.8 -5.8z"/><path d="M1013.8 791.36v11.6l9.8 -5.8z"/><path d="M1019.06 790.73v11.6l9.8 -5.8z"/><path d="M1024.32 790.1v11.6l9.8 -5.8z"/><path d="M1029.59 789.45v11.6l9.8 -5.8z"/><path d="M1034.85 788.78v11.6l9.8 -5.8z"/><path d="M1040.12 788.1v11.6l9.8 -5.8z"/><path d="M1045.38 787.41v11.6l9.8 -5.8z"/><path d="M1050.65 786.71v11.6l9.8 -5.8z"/><path d="M1055.91 785.98v11.6l9.8 -5.8z"/><path d="M1061.17 785.25v11.6l9.8 -5.8z"/><path d="M1066.44 784.51v11.6l9.8 -5.8z"/><path d="M1071.7 783.76v11.6l9.8 -5.8z"/><path d="M1076.97 783.01v11.6l9.8 -5.8z"/><path d="M1082.23 782.24v11.6l9.8 -5.8z"/><path d="M1087.5 781.46v11.6l9.8 -5.8z"/><path d="M1092.76 780.67v11.6l9.8 -5.8z"/><path d="M1098.02 779.87v11.6l9.8 -5.8z"/><path d="M1103.29 779.06v11.6l9.8 -5.8z"/><path d="M1108.55 778.26v11.6l9.8 -5.8z"/><path d="M1113.82 777.45v11.6l9.8 -5.8z"/><path d="M1119.08 776.64v11.6l9.8 -5.8z"/><path d="M1124.34 775.82v11.6l9.8 -5.8z"/><path d="M1129.61 775v11.6l9.8 -5.8z"/><path d="M1134.87 774.17v11.6l9.8 -5.8z"/><path d="M1140.14 773.33v11.6l9.8 -5.8z"/><path d="M1145.4 772.48v11.6l9.8 -5.8z"/><path d="M1150.67 771.57v11.6l9.8 -5.8z"/><path d="M1155.93 770.65v11.6l9.8 -5.8z"/><path d="M1161.19 769.71v11.6l9.8 -5.8z"/><path d="M1166.46 768.75v11.6l9.8 -5.8z"/><path d="M1171.72 767.78v11.6l9.8 -5.8z"/><path d="M1176.99 766.79v11.6l9.8 -5.8z"/><path d="M1182.25 765.77v11.6l9.8 -5.8z"/><path d="M1187.51 764.75v11.6l9.8 -5.8z"/><path d="M1192.78 763.72v11.6l9.8 -5.8z"/><path d="M1198.04 762.68v11.6l9.8 -5.8z"/><path d="M1203.31 761.62v11.6l9.8 -5.8z"/><path d="M1208.57 760.55v11.6l9.8 -5.8z"/><path d="M1213.84 759.46v11.6l9.8 -5.8z"/><path d="M1219.1 758.36v11.6l9.8 -5.8z"/><path d="M1224.36 757.25v11.6l9.8 -5.8z"/><path d="M1229.63 756.13v11.6l9.8 -5.8z"/><path d="M1234.89 755.01v11.6l9.8 -5.8z"/><path d="M1240.16 753.88v11.6l9.8 -5.8z"/><path d="M1245.42 752.75v11.6l9.8 -5.8z"/><path d="M1250.68 751.6v11.6l9.8 -5.8z"/><path d="M1255.95 750.44v11.6l9.8 -5.8z"/><path d="M1261.21 749.27v11.6l9.8 -5.8z"/><path d="M1266.48 748.1v11.6l9.8 -5.8z"/><path d="M1271.74 746.95v11.6l9.8 -5.8z"/><path d="M1277.01 745.81v11.6l9.8 -5.8z"/><path d="M1282.27 744.66v11.6l9.8 -5.8z"/><path d="M1287.53 743.51v11.6l9.8 -5.8z"/><path d="M1292.8 742.36v11.6l9.8 -5.8z"/><path d="M1298.06 741.21v11.6l9.8 -5.8z"/><path d="M1303.33 740.06v11.6l9.8 -5.8z"/><path d="M1308.59 738.91v11.6l9.8 -5.8z"/></g>
<text transform="translate(781.7 993.8) scale(0.98 1)" font-size="30.8" text-anchor="middle">500</text>
<text transform="translate(862.94 993.8) scale(0.98 1)" font-size="30.8" text-anchor="middle">550</text>
<text transform="translate(944.19 993.8) scale(0.98 1)" font-size="30.8" text-anchor="middle">600</text>
<text transform="translate(1025.43 993.8) scale(0.98 1)" font-size="30.8" text-anchor="middle">650</text>
<text transform="translate(1106.67 993.8) scale(0.98 1)" font-size="30.8" text-anchor="middle">700</text>
<text transform="translate(1187.91 993.8) scale(0.98 1)" font-size="30.8" text-anchor="middle">750</text>
<text transform="translate(1269.16 993.8) scale(0.98 1)" font-size="30.8" text-anchor="middle">800</text>
<text transform="translate(1350.4 993.8) scale(0.98 1)" font-size="30.8" text-anchor="middle">850</text>
<text transform="translate(772.2 934.52) scale(1.02 1)" font-size="30.8" text-anchor="end">-20</text>
<text transform="translate(772.2 863.36) scale(1.02 1)" font-size="30.8" text-anchor="end">-10</text>
<text transform="translate(772.2 792.2) scale(1.02 1)" font-size="30.8" text-anchor="end">0</text>
<text transform="translate(772.2 721.04) scale(1.02 1)" font-size="30.8" text-anchor="end">10</text>
<text transform="translate(772.2 649.88) scale(1.02 1)" font-size="30.8" text-anchor="end">20</text>
<text transform="translate(913.4 1036.6) scale(0.98 1)" font-size="40.88">Temperature (°C)</text>
<text transform="translate(720.4 839.47) rotate(-90) scale(0.9776 1)" font-size="40.3">G (eV)</text>
<text transform="translate(798.66 702) scale(0.98 1)" font-size="27.27">6LiOH + CS<tspan dy="8.45" font-size="15.54">2</tspan><tspan dy="-8.45">(g) = 2Li</tspan><tspan dy="8.45" font-size="15.54">2</tspan><tspan dy="-8.45">S + </tspan><tspan fill="#ff2a0a">Li</tspan><tspan dy="8.45" font-size="15.54" fill="#ff2a0a">2</tspan><tspan dy="-8.45" fill="#ff2a0a">CO</tspan><tspan dy="8.45" font-size="15.54" fill="#ff2a0a">3</tspan><tspan dy="-8.45"> + 3H</tspan><tspan dy="8.45" font-size="15.54">2</tspan><tspan dy="-8.45">O(g)</tspan></text>
<text transform="translate(806.46 904) scale(0.98 1)" font-size="31.15" fill="#ff2a0a">Byproduct Li<tspan dy="10.28" font-size="18.07">2</tspan><tspan dy="-10.28">CO</tspan><tspan dy="10.28" font-size="18.07">3</tspan></text>
<text transform="translate(806.26 942.5) scale(0.98 1)" font-size="31.1" fill="#ff2a0a">Decomposed at 725 °C</text>
<text transform="translate(691.6 656)" font-size="68">d</text>
</g>
<g id="panel-e">
<clipPath id="eClip"><rect x="1447.5" y="6.7" width="534" height="938.7"/></clipPath>
<g clip-path="url(#eClip)" stroke-linejoin="round" stroke-linecap="round">
<polyline points="1448.3,186 1448.6,186.4 1448.9,182.9 1449.2,182.9 1449.5,186.5 1449.8,180.8 1450.1,187.7 1450.4,182.9 1450.7,188.6 1451,187.8 1451.3,185.9 1451.6,184.5 1451.9,188.5 1452.2,184.1 1452.5,187.3 1452.8,186.4 1453.1,189.2 1453.4,191.1 1453.7,185.9 1454,186.6 1454.3,187.9 1454.6,186 1454.9,183.2 1455.2,186.4 1455.5,185.4 1455.8,186.9 1456.1,183 1456.4,184.1 1456.7,188.9 1457,190.8 1457.3,190 1457.6,184.7 1457.9,182.8 1458.2,185.4 1458.5,184.7 1458.8,185.1 1459.1,191 1459.4,187 1459.7,189.8 1460,184.7 1460.3,189.5 1460.6,187.6 1460.9,187.2 1461.2,184.7 1461.5,181.3 1461.8,189.8 1462.1,186.3 1462.4,184 1462.7,183.8 1463,191.1 1463.3,187.7 1463.6,186.2 1463.9,187.2 1464.2,182.8 1464.5,188.5 1464.8,187.5 1465.1,185.8 1465.4,189.2 1465.7,187.4 1466,188.1 1466.3,192 1466.6,189 1466.9,184.3 1467.2,187.8 1467.5,193.2 1467.8,193.3 1468.1,184.9 1468.4,186.7 1468.7,189.6 1469,187.7 1469.3,184.7 1469.6,190.2 1469.9,186.5 1470.2,188.9 1470.5,182.7 1470.8,189.9 1471.1,188.1 1471.4,189.7 1471.7,184.4 1472,188.5 1472.3,190.2 1472.6,186.4 1472.9,188.6 1473.2,192.1 1473.5,183.4 1473.8,185 1474.1,190.4 1474.4,188.3 1474.7,186.3 1475,187.9 1475.3,192.2 1475.6,188.6 1475.9,186.8 1476.2,191.8 1476.5,191.5 1476.8,187.2 1477.1,189.4 1477.4,187.8 1477.7,187.3 1478,183.6 1478.3,186 1478.6,186.6 1478.9,189.6 1479.2,188.9 1479.5,183.7 1479.8,188.6 1480.1,190.2 1480.4,186 1480.7,184.2 1481,188.5 1481.3,182.8 1481.6,183.8 1481.9,182.8 1482.2,187.6 1482.5,190.3 1482.8,187.5 1483.1,181.2 1483.4,181.4 1483.7,187.7 1484,186.8 1484.3,189.7 1484.6,182.4 1484.9,183.9 1485.2,183.4 1485.5,187.4 1485.8,186.5 1486.1,185.6 1486.4,187.2 1486.7,188.9 1487,186.3 1487.3,180.5 1487.6,185.1 1487.9,180.4 1488.2,185.2 1488.5,182 1488.8,185.7 1489.1,180.3 1489.4,186.2 1489.7,183.8 1490,183.6 1490.3,183.9 1490.6,186.2 1490.9,184.3 1491.2,179.2 1491.5,184.3 1491.8,186.3 1492.1,185.1 1492.4,177.7 1492.7,183.4 1493,183.3 1493.3,184.2 1493.6,178.7 1493.9,183.8 1494.2,186.5 1494.5,183 1494.8,180.8 1495.1,178.3 1495.4,184.1 1495.7,181.1 1496,177.7 1496.3,182.9 1496.6,184.3 1496.9,182.5 1497.2,180 1497.5,181.5 1497.8,178.4 1498.1,178.7 1498.4,182.5 1498.7,179.9 1499,181.9 1499.3,177.7 1499.6,177.7 1499.9,177.4 1500.2,183.7 1500.5,180.4 1500.8,182.4 1501.1,181.1 1501.4,180.6 1501.7,180.4 1502,179.7 1502.3,177.7 1502.6,181.2 1502.9,182.7 1503.2,175.1 1503.5,182.7 1503.8,177.7 1504.1,180.7 1504.4,180.4 1504.7,175.1 1505,181.7 1505.3,175.4 1505.6,174.9 1505.9,178.3 1506.2,176.3 1506.5,174.6 1506.8,175.8 1507.1,178.4 1507.4,175 1507.7,178 1508,177.9 1508.3,174.9 1508.6,180.9 1508.9,174.5 1509.2,172.9 1509.5,177 1509.8,174.4 1510.1,175.9 1510.4,176 1510.7,174.4 1511,177.8 1511.3,178.5 1511.6,174.7 1511.9,179.8 1512.2,177.3 1512.5,176.1 1512.8,173.1 1513.1,172.9 1513.4,176.1 1513.7,178.9 1514,178.5 1514.3,178.4 1514.6,172.2 1514.9,177.4 1515.2,174.5 1515.5,177 1515.8,178 1516.1,173.4 1516.4,172.6 1516.7,176.2 1517,178.3 1517.3,177.7 1517.6,175.5 1517.9,175.7 1518.2,176.5 1518.5,173.9 1518.8,180.1 1519.1,180 1519.4,177.4 1519.7,176.7 1520,179.7 1520.3,177.1 1520.6,176.8 1520.9,179.7 1521.2,173.9 1521.5,172.1 1521.8,175.8 1522.1,177.4 1522.4,179.5 1522.7,179.8 1523,180.7 1523.3,176.1 1523.6,178.1 1523.9,174 1524.2,175.2 1524.5,180.6 1524.8,178.6 1525.1,177.4 1525.4,178.3 1525.7,173.6 1526,175.2 1526.3,178.8 1526.6,177.9 1526.9,175 1527.2,177.5 1527.5,181.9 1527.8,180.2 1528.1,181.4 1528.4,176.4 1528.7,179.7 1529,178.4 1529.3,176.9 1529.6,183.4 1529.9,180.8 1530.2,181.6 1530.5,177.7 1530.8,175.5 1531.1,174.3 1531.4,181.9 1531.7,177.4 1532,179.5 1532.3,183.1 1532.6,180.1 1532.9,182.6 1533.2,176.5 1533.5,181.7 1533.8,183.6 1534.1,178.1 1534.4,176.3 1534.7,179 1535,181.4 1535.3,181.8 1535.6,184.7 1535.9,178.6 1536.2,176.7 1536.5,183.5 1536.8,181 1537.1,177.2 1537.4,177.2 1537.7,183.1 1538,184.8 1538.3,178.6 1538.6,177.8 1538.9,184.4 1539.2,186 1539.5,183.1 1539.8,180.3 1540.1,178.2 1540.4,184.9 1540.7,186.5 1541,183.6 1541.3,182.1 1541.6,178.8 1541.9,185.8 1542.2,181.9 1542.5,181.1 1542.8,180.5 1543.1,184.4 1543.4,180.4 1543.7,181.8 1544,184.9 1544.3,182.9 1544.6,183 1544.9,179.7 1545.2,187.4 1545.5,181.7 1545.8,185.9 1546.1,184.5 1546.4,182.8 1546.7,184.5 1547,182.5 1547.3,183.9 1547.6,180.3 1547.9,185.7 1548.2,187.8 1548.5,186.9 1548.8,185.8 1549.1,185.3 1549.4,187.9 1549.7,186 1550,184.2 1550.3,186.9 1550.6,188.6 1550.9,188.9 1551.2,188.2 1551.5,185.8 1551.8,184.9 1552.1,185.1 1552.4,186.2 1552.7,186.3 1553,184.9 1553.3,183.1 1553.6,187.5 1553.9,187.9 1554.2,190 1554.5,188 1554.8,188.7 1555.1,191.3 1555.4,185.4 1555.7,183.4 1556,190.1 1556.3,190.1 1556.6,190.2 1556.9,188.3 1557.2,191.1 1557.5,186.9 1557.8,184.2 1558.1,189.7 1558.4,191.9 1558.7,185.4 1559,191.9 1559.3,187.3 1559.6,188.1 1559.9,184.8 1560.2,191.5 1560.5,186.7 1560.8,194 1561.1,189.1 1561.4,185.2 1561.7,190.5 1562,191 1562.3,191.9 1562.6,188.5 1562.9,191.8 1563.2,192.3 1563.5,186.9 1563.8,190.3 1564.1,190.3 1564.4,191.9 1564.7,188.2 1565,189.5 1565.3,193.8 1565.6,192.1 1565.9,190.3 1566.2,194.2 1566.5,193.3 1566.8,191.5 1567.1,191.7 1567.4,190.2 1567.7,189.5 1568,194.6 1568.3,187.9 1568.6,189 1568.9,191.1 1569.2,190.7 1569.5,190.5 1569.8,189.9 1570.1,190.4 1570.4,191.9 1570.7,190.7 1571,192.8 1571.3,194.8 1571.6,187.6 1571.9,191.1 1572.2,196.6 1572.5,188.7 1572.8,195.5 1573.1,196.9 1573.4,192.8 1573.7,194.2 1574,188.7 1574.3,195.5 1574.6,194.5 1574.9,196.2 1575.2,189.7 1575.5,193.3 1575.8,193.5 1576.1,197.5 1576.4,197.2 1576.7,195.3 1577,189.3 1577.3,192.6 1577.6,192.1 1577.9,194.6 1578.2,196.2 1578.5,195.8 1578.8,197.6 1579.1,199.5 1579.4,194 1579.7,191 1580,194.6 1580.3,189.5 1580.6,198.6 1580.9,190.8 1581.2,193.5 1581.5,195.2 1581.8,192.3 1582.1,199.5 1582.4,195.5 1582.7,199.2 1583,193.9 1583.3,198.1 1583.6,194.8 1583.9,193.1 1584.2,192.4 1584.5,196.5 1584.8,194.4 1585.1,197.5 1585.4,195.8 1585.7,195.3 1586,199.2 1586.3,192.1 1586.6,191.6 1586.9,191.1 1587.2,192.1 1587.5,196.7 1587.8,198.7 1588.1,194 1588.4,194.8 1588.7,200.1 1589,198.9 1589.3,194 1589.6,197.8 1589.9,198.1 1590.2,193.8 1590.5,193.3 1590.8,193.8 1591.1,196.6 1591.4,195.6 1591.7,190.4 1592,192.1 1592.3,197.6 1592.6,196.5 1592.9,192.8 1593.2,191.4 1593.5,193.7 1593.8,189.7 1594.1,188.5 1594.4,192.1 1594.7,186.1 1595,182 1595.3,176.8 1595.6,173 1595.9,159.3 1596.2,138.8 1596.5,113.5 1596.8,82.2 1597.1,49.2 1597.4,25.1 1597.7,21.5 1598,39.2 1598.3,71.2 1598.6,104.9 1598.9,133.4 1599.2,155.1 1599.5,170.1 1599.8,178.2 1600.1,184.7 1600.4,187.3 1600.7,192.1 1601,193.2 1601.3,194.2 1601.6,196.5 1601.9,193 1602.2,200.7 1602.5,199 1602.8,195.8 1603.1,200.1 1603.4,201.7 1603.7,200.7 1604,200 1604.3,196.2 1604.6,201.5 1604.9,202.5 1605.2,199.7 1605.5,197.6 1605.8,199.2 1606.1,200.3 1606.4,203.5 1606.7,203.5 1607,200.1 1607.3,201.8 1607.6,199.9 1607.9,202 1608.2,204.8 1608.5,204.2 1608.8,203.6 1609.1,204.4 1609.4,202.9 1609.7,202.8 1610,202.3 1610.3,206.3 1610.6,201.9 1610.9,204.6 1611.2,204.9 1611.5,202.4 1611.8,204.1 1612.1,204.6 1612.4,206 1612.7,203.1 1613,200.7 1613.3,201.3 1613.6,203.4 1613.9,200.8 1614.2,206 1614.5,204.8 1614.8,202.3 1615.1,207.1 1615.4,203.9 1615.7,202.6 1616,203.8 1616.3,202.8 1616.6,207.5 1616.9,206.6 1617.2,204 1617.5,203.8 1617.8,205.8 1618.1,207 1618.4,203.1 1618.7,204.5 1619,204.2 1619.3,207 1619.6,205.9 1619.9,203.7 1620.2,206.3 1620.5,205.4 1620.8,204.9 1621.1,206 1621.4,203.7 1621.7,204.9 1622,209.6 1622.3,207 1622.6,207.4 1622.9,205.4 1623.2,204.7 1623.5,207 1623.8,207.5 1624.1,207.9 1624.4,206 1624.7,207.7 1625,205.6 1625.3,203.6 1625.6,207.4 1625.9,206.8 1626.2,205.7 1626.5,209.4 1626.8,208.5 1627.1,207.4 1627.4,207.1 1627.7,203.9 1628,207.3 1628.3,208.4 1628.6,203.8 1628.9,206.1 1629.2,205.7 1629.5,207.3 1629.8,207.1 1630.1,209 1630.4,206.3 1630.7,207.9 1631,206.2 1631.3,208.1 1631.6,205.9 1631.9,207.1 1632.2,205.1 1632.5,209.1 1632.8,206.1 1633.1,204.8 1633.4,203.9 1633.7,204.6 1634,198.8 1634.3,196.5 1634.6,192.8 1634.9,189.2 1635.2,184.1 1635.5,184.3 1635.8,185 1636.1,188.5 1636.4,193 1636.7,199.3 1637,202.8 1637.3,204.4 1637.6,207.2 1637.9,203.7 1638.2,207 1638.5,204.5 1638.8,206.1 1639.1,206.5 1639.4,209.2 1639.7,205.8 1640,209.2 1640.3,208.2 1640.6,207 1640.9,208.3 1641.2,208.9 1641.5,211.2 1641.8,210.2 1642.1,207.7 1642.4,210.5 1642.7,211 1643,206.8 1643.3,207.2 1643.6,209.8 1643.9,210.8 1644.2,212.2 1644.5,210.6 1644.8,209.9 1645.1,208 1645.4,210.3 1645.7,207.7 1646,208 1646.3,211.8 1646.6,208.6 1646.9,211.3 1647.2,210.4 1647.5,207.3 1647.8,208.9 1648.1,209 1648.4,208.4 1648.7,210.6 1649,210.9 1649.3,209.4 1649.6,213.6 1649.9,211.8 1650.2,208.6 1650.5,213.1 1650.8,210.1 1651.1,209.7 1651.4,208.3 1651.7,211.5 1652,210 1652.3,210.4 1652.6,212.1 1652.9,212.1 1653.2,210 1653.5,212.9 1653.8,209.3 1654.1,209.4 1654.4,210.4 1654.7,208.3 1655,212.4 1655.3,210 1655.6,210.5 1655.9,209.3 1656.2,211.5 1656.5,213.4 1656.8,211.6 1657.1,212.9 1657.4,211.4 1657.7,211.4 1658,212.5 1658.3,209.1 1658.6,213.3 1658.9,211.2 1659.2,210.6 1659.5,210.4 1659.8,210 1660.1,213.7 1660.4,213.2 1660.7,213.5 1661,212.4 1661.3,212.3 1661.6,214.3 1661.9,208.3 1662.2,210.6 1662.5,211.1 1662.8,210.3 1663.1,210.4 1663.4,213.4 1663.7,212.7 1664,212.6 1664.3,213 1664.6,211.5 1664.9,210.6 1665.2,211.1 1665.5,208.6 1665.8,210.7 1666.1,212.2 1666.4,211.7 1666.7,211.2 1667,213.5 1667.3,213.3 1667.6,211.8 1667.9,210.8 1668.2,209.6 1668.5,211.7 1668.8,213.7 1669.1,211.9 1669.4,212.5 1669.7,212.8 1670,213.8 1670.3,212.1 1670.6,211.8 1670.9,212.4 1671.2,213 1671.5,212.3 1671.8,212.9 1672.1,212.5 1672.4,214.1 1672.7,210.8 1673,213.3 1673.3,212.1 1673.6,211.6 1673.9,210.8 1674.2,213.7 1674.5,213 1674.8,211.5 1675.1,210.1 1675.4,211.6 1675.7,214.1 1676,212.2 1676.3,213.9 1676.6,214.6 1676.9,214.7 1677.2,210.6 1677.5,214.2 1677.8,210.5 1678.1,212.5 1678.4,212.9 1678.7,214.8 1679,215.5 1679.3,214.2 1679.6,213.5 1679.9,212.7 1680.2,213.5 1680.5,213.2 1680.8,215.1 1681.1,214.3 1681.4,212.6 1681.7,214.8 1682,212.8 1682.3,210.5 1682.6,212.9 1682.9,215.6 1683.2,211.8 1683.5,213.2 1683.8,213 1684.1,213.9 1684.4,211.7 1684.7,214.7 1685,212.9 1685.3,215.9 1685.6,215.8 1685.9,211.4 1686.2,213.6 1686.5,213.8 1686.8,213.8 1687.1,211.7 1687.4,216.2 1687.7,212.5 1688,213.6 1688.3,211.6 1688.6,213.4 1688.9,213 1689.2,214.2 1689.5,211.9 1689.8,214.3 1690.1,214.4 1690.4,214.1 1690.7,211.7 1691,215.9 1691.3,213.1 1691.6,213.1 1691.9,214.7 1692.2,215.4 1692.5,214.5 1692.8,213.9 1693.1,213.9 1693.4,213.4 1693.7,212.9 1694,214.6 1694.3,212.8 1694.6,213.9 1694.9,216.2 1695.2,213 1695.5,216.3 1695.8,213 1696.1,214.5 1696.4,214.8 1696.7,214.9 1697,212.5 1697.3,212.8 1697.6,213.8 1697.9,214 1698.2,213.5 1698.5,215.8 1698.8,216.3 1699.1,211.9 1699.4,215.4 1699.7,213.3 1700,214 1700.3,215 1700.6,214.7 1700.9,215 1701.2,214.8 1701.5,214.6 1701.8,214 1702.1,213.8 1702.4,215.4 1702.7,216 1703,215.6 1703.3,214.8 1703.6,215.4 1703.9,213.6 1704.2,216.6 1704.5,215 1704.8,213.3 1705.1,213.9 1705.4,216.3 1705.7,214.9 1706,215.5 1706.3,216.5 1706.6,217.7 1706.9,217.5 1707.2,216 1707.5,214.4 1707.8,215.2 1708.1,213.3 1708.4,213.2 1708.7,212.4 1709,215.8 1709.3,217.6 1709.6,216 1709.9,214.7 1710.2,216.9 1710.5,216.5 1710.8,212.7 1711.1,215.7 1711.4,215.5 1711.7,213.6 1712,214.9 1712.3,213.1 1712.6,215.7 1712.9,215.1 1713.2,214.6 1713.5,213.5 1713.8,213.9 1714.1,215.2 1714.4,215.8 1714.7,214.3 1715,213.6 1715.3,214.7 1715.6,217.1 1715.9,216.9 1716.2,217.4 1716.5,216.5 1716.8,213.6 1717.1,213.4 1717.4,217.4 1717.7,213.7 1718,213.7 1718.3,217.2 1718.6,215.5 1718.9,217.3 1719.2,216.3 1719.5,213.4 1719.8,213.5 1720.1,214.4 1720.4,214.9 1720.7,214.7 1721,216.9 1721.3,214.9 1721.6,214.3 1721.9,214.9 1722.2,215.6 1722.5,214.7 1722.8,216 1723.1,217.3 1723.4,215.9 1723.7,216 1724,214.3 1724.3,213.5 1724.6,215.5 1724.9,214 1725.2,216.8 1725.5,215.5 1725.8,213.6 1726.1,216.8 1726.4,217.2 1726.7,216.3 1727,214.4 1727.3,215.6 1727.6,217.6 1727.9,213.5 1728.2,215.4 1728.5,217.5 1728.8,213.8 1729.1,214.2 1729.4,216.3 1729.7,214.4 1730,217.9 1730.3,217.1 1730.6,215.4 1730.9,216 1731.2,214.4 1731.5,216.8 1731.8,216.5 1732.1,215.4 1732.4,215.5 1732.7,215.8 1733,213.9 1733.3,213.9 1733.6,217.3 1733.9,218.4 1734.2,214 1734.5,214.8 1734.8,216.7 1735.1,215.8 1735.4,214.4 1735.7,215.4 1736,214.4 1736.3,218 1736.6,216.6 1736.9,214.5 1737.2,217.6 1737.5,214.4 1737.8,215.1 1738.1,215.8 1738.4,217.9 1738.7,215.5 1739,215.2 1739.3,217.3 1739.6,216.8 1739.9,214.8 1740.2,216.4 1740.5,214.3 1740.8,215.6 1741.1,216.7 1741.4,216.3 1741.7,212.7 1742,213.1 1742.3,216.2 1742.6,216.4 1742.9,216.3 1743.2,214 1743.5,214.9 1743.8,213.7 1744.1,213.5 1744.4,216.2 1744.7,215.3 1745,213.3 1745.3,217.9 1745.6,217 1745.9,213.7 1746.2,215.1 1746.5,217.4 1746.8,216.6 1747.1,214.9 1747.4,216.2 1747.7,216.2 1748,217.4 1748.3,214.7 1748.6,215.6 1748.9,215.8 1749.2,215.7 1749.5,213.9 1749.8,214.9 1750.1,215.5 1750.4,215.6 1750.7,213.6 1751,215.7 1751.3,215.3 1751.6,212.6 1751.9,213.5 1752.2,211.3 1752.5,211.8 1752.8,209.6 1753.1,208.7 1753.4,208 1753.7,203.5 1754,198.7 1754.3,188.6 1754.6,178.5 1754.9,162.7 1755.2,146 1755.5,129.4 1755.8,119.6 1756.1,121.7 1756.4,134.6 1756.7,151.1 1757,168.6 1757.3,181.9 1757.6,192.9 1757.9,199.7 1758.2,206 1758.5,208.9 1758.8,208.5 1759.1,210.1 1759.4,213.9 1759.7,211.1 1760,212.3 1760.3,212.6 1760.6,216.1 1760.9,213.9 1761.2,213.5 1761.5,214.9 1761.8,215.3 1762.1,215.7 1762.4,215.9 1762.7,215.2 1763,216.4 1763.3,214.6 1763.6,214.2 1763.9,216 1764.2,216.3 1764.5,213.9 1764.8,218 1765.1,217.5 1765.4,214.6 1765.7,217.7 1766,216.4 1766.3,216.3 1766.6,217.2 1766.9,215 1767.2,219.2 1767.5,218.3 1767.8,216.9 1768.1,218.3 1768.4,218.6 1768.7,215.6 1769,214.2 1769.3,215.8 1769.6,217.3 1769.9,216 1770.2,216.2 1770.5,215.4 1770.8,215.1 1771.1,215.7 1771.4,216.2 1771.7,216.7 1772,214.6 1772.3,216.4 1772.6,216.6 1772.9,218.6 1773.2,215.2 1773.5,217.6 1773.8,215.8 1774.1,214.9 1774.4,215.1 1774.7,215.2 1775,216.5 1775.3,218 1775.6,215.4 1775.9,215.2 1776.2,217.6 1776.5,216.3 1776.8,218.6 1777.1,215.1 1777.4,217.6 1777.7,219.2 1778,218.8 1778.3,218.8 1778.6,216.1 1778.9,219.1 1779.2,215.8 1779.5,218.3 1779.8,218.4 1780.1,217.7 1780.4,218.5 1780.7,215.5 1781,217.6 1781.3,216.8 1781.6,217.8 1781.9,216.6 1782.2,217.1 1782.5,217.2 1782.8,219.1 1783.1,215.3 1783.4,215.3 1783.7,216.6 1784,216.9 1784.3,217.5 1784.6,216.9 1784.9,217.1 1785.2,216.8 1785.5,219.4 1785.8,214.8 1786.1,218.6 1786.4,219.3 1786.7,218.2 1787,219.4 1787.3,216.5 1787.6,218.1 1787.9,216 1788.2,216.2 1788.5,219.9 1788.8,216.7 1789.1,218.3 1789.4,216.6 1789.7,216.4 1790,217.8 1790.3,215.7 1790.6,218.3 1790.9,215.6 1791.2,218.7 1791.5,218.8 1791.8,219.6 1792.1,219.1 1792.4,219.3 1792.7,218.5 1793,216.5 1793.3,216.7 1793.6,218.6 1793.9,217.8 1794.2,217.7 1794.5,217.5 1794.8,217.7 1795.1,219.2 1795.4,219.8 1795.7,216 1796,215.8 1796.3,215.6 1796.6,215.4 1796.9,216.7 1797.2,218.1 1797.5,215.4 1797.8,216.3 1798.1,215.1 1798.4,217 1798.7,217.2 1799,219.1 1799.3,218.2 1799.6,218.6 1799.9,217.4 1800.2,218.6 1800.5,217.7 1800.8,217.8 1801.1,216.9 1801.4,216.9 1801.7,218 1802,217.1 1802.3,216.8 1802.6,216.4 1802.9,216.9 1803.2,216.6 1803.5,216.5 1803.8,218.3 1804.1,217.5 1804.4,217.9 1804.7,216.4 1805,217 1805.3,217.1 1805.6,218.6 1805.9,218.5 1806.2,218.1 1806.5,216 1806.8,218.6 1807.1,219.9 1807.4,217.2 1807.7,218.1 1808,218.8 1808.3,218.9 1808.6,215.2 1808.9,219.6 1809.2,217 1809.5,219.3 1809.8,218.1 1810.1,217.1 1810.4,219.4 1810.7,216.6 1811,216.7 1811.3,217.3 1811.6,217.9 1811.9,218.7 1812.2,216.5 1812.5,218.3 1812.8,219 1813.1,218.9 1813.4,216.7 1813.7,216.2 1814,218.1 1814.3,216.8 1814.6,218 1814.9,217.4 1815.2,218.3 1815.5,217 1815.8,219.8 1816.1,217.7 1816.4,215.5 1816.7,218.5 1817,217.6 1817.3,215.7 1817.6,217.3 1817.9,217.7 1818.2,218.8 1818.5,216.3 1818.8,218.4 1819.1,218.9 1819.4,218.4 1819.7,215.4 1820,215.7 1820.3,216.2 1820.6,215.4 1820.9,216.7 1821.2,215.5 1821.5,215.1 1821.8,215.9 1822.1,218.3 1822.4,215.4 1822.7,215.5 1823,217.3 1823.3,215.4 1823.6,217.3 1823.9,219 1824.2,216.8 1824.5,215.6 1824.8,216.7 1825.1,218.2 1825.4,216.5 1825.7,216.4 1826,216.2 1826.3,216.1 1826.6,214.5 1826.9,214.1 1827.2,211.3 1827.5,210.5 1827.8,206.3 1828.1,202.3 1828.4,197 1828.7,187.3 1829,179 1829.3,170.4 1829.6,165.2 1829.9,167.1 1830.2,172.6 1830.5,181.4 1830.8,190.9 1831.1,199.2 1831.4,203 1831.7,207.3 1832,210.3 1832.3,212.7 1832.6,215.2 1832.9,216.3 1833.2,214.2 1833.5,215.9 1833.8,215.8 1834.1,215.7 1834.4,217.3 1834.7,217.3 1835,217.7 1835.3,218.4 1835.6,214.7 1835.9,216.3 1836.2,215.4 1836.5,217.4 1836.8,218.4 1837.1,218.4 1837.4,215.6 1837.7,217.3 1838,215.9 1838.3,217.8 1838.6,216.1 1838.9,215.9 1839.2,216.8 1839.5,218.7 1839.8,216.1 1840.1,218.2 1840.4,218.1 1840.7,219 1841,216.8 1841.3,217.9 1841.6,216.7 1841.9,217.6 1842.2,219.1 1842.5,217 1842.8,217.3 1843.1,215.5 1843.4,218.3 1843.7,219.4 1844,219.1 1844.3,216.5 1844.6,219.3 1844.9,219.8 1845.2,219.3 1845.5,218.9 1845.8,216.7 1846.1,219.3 1846.4,218 1846.7,219.6 1847,218.2 1847.3,215.8 1847.6,216.1 1847.9,218.7 1848.2,217.9 1848.5,216.5 1848.8,218.9 1849.1,215.9 1849.4,216.6 1849.7,217.2 1850,217.8 1850.3,215.7 1850.6,213.8 1850.9,215.1 1851.2,210.6 1851.5,208.9 1851.8,203.2 1852.1,200.2 1852.4,199.9 1852.7,198.1 1853,199.9 1853.3,204 1853.6,206.4 1853.9,209.2 1854.2,213 1854.5,214.1 1854.8,216.7 1855.1,214.9 1855.4,215.4 1855.7,216.7 1856,215.3 1856.3,217.6 1856.6,216.9 1856.9,219.7 1857.2,217.9 1857.5,216.6 1857.8,218.9 1858.1,216.6 1858.4,217.7 1858.7,218.3 1859,219.6 1859.3,218.2 1859.6,219.8 1859.9,217.1 1860.2,219.4 1860.5,218.4 1860.8,217.7 1861.1,219.7 1861.4,220.8 1861.7,219.4 1862,217.4 1862.3,218.5 1862.6,218.9 1862.9,217.5 1863.2,217.7 1863.5,218.2 1863.8,217.9 1864.1,218.4 1864.4,216.8 1864.7,218.5 1865,218.9 1865.3,218.3 1865.6,220.9 1865.9,220.7 1866.2,218.3 1866.5,218.3 1866.8,217.8 1867.1,219.6 1867.4,219 1867.7,218.1 1868,219.2 1868.3,218.1 1868.6,217.2 1868.9,216.7 1869.2,220.3 1869.5,219.5 1869.8,216.1 1870.1,219.6 1870.4,219.4 1870.7,217.4 1871,217.6 1871.3,217 1871.6,219.9 1871.9,217.6 1872.2,219.3 1872.5,217.4 1872.8,220.4 1873.1,217.7 1873.4,218 1873.7,217.8 1874,219.3 1874.3,217.4 1874.6,218.9 1874.9,219.5 1875.2,220.3 1875.5,219.5 1875.8,220.3 1876.1,218.1 1876.4,220.1 1876.7,216.6 1877,219.4 1877.3,218 1877.6,220.2 1877.9,215.8 1878.2,217.2 1878.5,217.4 1878.8,216.8 1879.1,217 1879.4,219.4 1879.7,217.5 1880,219.2 1880.3,218.1 1880.6,217 1880.9,219 1881.2,220 1881.5,219.8 1881.8,217.3 1882.1,217.4 1882.4,216.3 1882.7,217.9 1883,217.3 1883.3,218.8 1883.6,219.9 1883.9,219.7 1884.2,218.1 1884.5,219.9 1884.8,218.5 1885.1,219.4 1885.4,220.5 1885.7,215.9 1886,220.1 1886.3,219.1 1886.6,216.7 1886.9,218.9 1887.2,218.5 1887.5,220.2 1887.8,216.7 1888.1,217.1 1888.4,217.3 1888.7,220.7 1889,217 1889.3,218.4 1889.6,219.8 1889.9,219 1890.2,218.6 1890.5,218.2 1890.8,217.1 1891.1,217.6 1891.4,220.1 1891.7,220.8 1892,218.5 1892.3,218.9 1892.6,219.4 1892.9,217.5 1893.2,219.3 1893.5,218.7 1893.8,220.4 1894.1,220 1894.4,220.4 1894.7,220.7 1895,219.5 1895.3,218.1 1895.6,217 1895.9,218.9 1896.2,218.2 1896.5,218.7 1896.8,217.1 1897.1,220.1 1897.4,217.2 1897.7,218 1898,217.9 1898.3,219.8 1898.6,219 1898.9,216.6 1899.2,219.5 1899.5,218.4 1899.8,219.5 1900.1,219.4 1900.4,220.8 1900.7,218.9 1901,219.2 1901.3,218.9 1901.6,217.2 1901.9,217.8 1902.2,217.6 1902.5,217.4 1902.8,218.3 1903.1,219.6 1903.4,218.4 1903.7,220.6 1904,216.6 1904.3,218 1904.6,219 1904.9,219.3 1905.2,219.2 1905.5,217.2 1905.8,218.6 1906.1,220 1906.4,219.8 1906.7,219.3 1907,221.1 1907.3,217.2 1907.6,217.6 1907.9,218.1 1908.2,219.3 1908.5,218.7 1908.8,220.3 1909.1,219.7 1909.4,217.2 1909.7,218.6 1910,219.3 1910.3,218.7 1910.6,217.2 1910.9,217.8 1911.2,219.4 1911.5,220.5 1911.8,217.1 1912.1,217.2 1912.4,220.5 1912.7,219 1913,218.2 1913.3,219.9 1913.6,219.3 1913.9,220 1914.2,217.5 1914.5,218.2 1914.8,217.3 1915.1,220.4 1915.4,219.1 1915.7,217.3 1916,218.9 1916.3,217.5 1916.6,221.2 1916.9,218.3 1917.2,217 1917.5,221.5 1917.8,219.2 1918.1,217.5 1918.4,218.3 1918.7,217.7 1919,217.7 1919.3,217 1919.6,220.7 1919.9,218.9 1920.2,218.5 1920.5,220.9 1920.8,217.4 1921.1,216.9 1921.4,216.4 1921.7,217.2 1922,219.8 1922.3,218.2 1922.6,218 1922.9,219.6 1923.2,218.7 1923.5,218.5 1923.8,217.6 1924.1,219 1924.4,220 1924.7,218.8 1925,220.9 1925.3,216.7 1925.6,217.7 1925.9,218.5 1926.2,220.1 1926.5,218.5 1926.8,219.5 1927.1,219.3 1927.4,219.3 1927.7,219.4 1928,218.4 1928.3,218.4 1928.6,220.2 1928.9,219.3 1929.2,218.4 1929.5,220.8 1929.8,221 1930.1,220.8 1930.4,217.6 1930.7,216.9 1931,219.4 1931.3,221.2 1931.6,219.2 1931.9,220.6 1932.2,218.1 1932.5,219 1932.8,221 1933.1,217.2 1933.4,219.5 1933.7,219.9 1934,219.5 1934.3,220.6 1934.6,219.8 1934.9,216.9 1935.2,218.2 1935.5,216.5 1935.8,215.4 1936.1,217.6 1936.4,216.1 1936.7,214.9 1937,216.2 1937.3,212.2 1937.6,210.8 1937.9,208.2 1938.2,204.1 1938.5,203.5 1938.8,203.6 1939.1,207.3 1939.4,208.5 1939.7,212.3 1940,213.4 1940.3,216.6 1940.6,215.3 1940.9,215.9 1941.2,215.9 1941.5,217.8 1941.8,218.4 1942.1,219.6 1942.4,218.1 1942.7,219.5 1943,218.5 1943.3,217.8 1943.6,219.8 1943.9,220.4 1944.2,218.2 1944.5,217.9 1944.8,218.5 1945.1,220.5 1945.4,218.1 1945.7,220.5 1946,220.6 1946.3,220.6 1946.6,217.4 1946.9,218 1947.2,218.3 1947.5,218.5 1947.8,218.9 1948.1,217.6 1948.4,220.4 1948.7,219.7 1949,220.4 1949.3,219.8 1949.6,220.3 1949.9,220.3 1950.2,217 1950.5,219.1 1950.8,219.4 1951.1,218 1951.4,219.8 1951.7,217.3 1952,217.2 1952.3,220.5 1952.6,218.1 1952.9,216.8 1953.2,218.4 1953.5,220.7 1953.8,219.5 1954.1,220 1954.4,219.8 1954.7,218.5 1955,219.7 1955.3,220.4 1955.6,219.6 1955.9,218.4 1956.2,217.9 1956.5,220.7 1956.8,219.9 1957.1,219.3 1957.4,218.8 1957.7,219 1958,219.7 1958.3,220.3 1958.6,217.9 1958.9,220.1 1959.2,217.7 1959.5,217.1 1959.8,218.2 1960.1,220.2 1960.4,219.2 1960.7,218 1961,219.9 1961.3,221.3 1961.6,219.7 1961.9,220.2 1962.2,221.2 1962.5,219.2 1962.8,218.9 1963.1,218 1963.4,219.1 1963.7,221.2 1964,220 1964.3,220.4 1964.6,220.9 1964.9,218.6 1965.2,217.1 1965.5,216.2 1965.8,219.9 1966.1,220.2 1966.4,220.4 1966.7,221.4 1967,217.8 1967.3,219.2 1967.6,220.4 1967.9,218.4 1968.2,218 1968.5,217.6 1968.8,217.3 1969.1,218.9 1969.4,218.8 1969.7,218.1 1970,219.3 1970.3,220.7 1970.6,218.7 1970.9,217.4 1971.2,217.3 1971.5,218.6 1971.8,221.1 1972.1,221.1 1972.4,219.7 1972.7,218 1973,218.5 1973.3,219.4 1973.6,219.5 1973.9,217.9 1974.2,218.4 1974.5,219.8 1974.8,220.2 1975.1,218.4 1975.4,217.9 1975.7,219.9 1976,219 1976.3,219.1 1976.6,217.4 1976.9,220.8 1977.2,219.3 1977.5,220.3 1977.8,219.1 1978.1,219 1978.4,219.4 1978.7,218.5 1979,219 1979.3,221.2 1979.6,220.3 1979.9,219 1980.2,219.6 1980.5,219.6 1980.8,220.5" fill="none" stroke="#0b3bca" stroke-width="2.2"/>
<polyline points="1448.3,352.2 1448.6,353.2 1448.9,359.3 1449.2,357.2 1449.5,356.8 1449.8,351.9 1450.1,354.1 1450.4,359 1450.7,360.2 1451,357.1 1451.3,357.1 1451.6,355.8 1451.9,359.5 1452.2,357.2 1452.5,357.3 1452.8,358.1 1453.1,355.3 1453.4,357.2 1453.7,357.9 1454,360.8 1454.3,356.4 1454.6,355.8 1454.9,360.3 1455.2,356.3 1455.5,354.6 1455.8,359.5 1456.1,357.9 1456.4,359.9 1456.7,359.3 1457,357.4 1457.3,356.4 1457.6,354.2 1457.9,356.1 1458.2,356.7 1458.5,353.2 1458.8,353.7 1459.1,356.1 1459.4,355.1 1459.7,354.4 1460,354.8 1460.3,361.6 1460.6,355.3 1460.9,353.8 1461.2,358.7 1461.5,353.2 1461.8,353.2 1462.1,359.2 1462.4,356 1462.7,355.9 1463,352.2 1463.3,357.2 1463.6,353.9 1463.9,360.1 1464.2,357.2 1464.5,360.8 1464.8,358.6 1465.1,353.8 1465.4,357.3 1465.7,358.3 1466,359.8 1466.3,356.2 1466.6,352.2 1466.9,356.1 1467.2,356 1467.5,354.9 1467.8,359.3 1468.1,356.8 1468.4,352.8 1468.7,358.7 1469,357.8 1469.3,360.8 1469.6,355.7 1469.9,352.3 1470.2,358.9 1470.5,353.4 1470.8,354 1471.1,355.1 1471.4,354.4 1471.7,358.2 1472,358.7 1472.3,351.2 1472.6,352.1 1472.9,358.4 1473.2,358.1 1473.5,353.3 1473.8,356.6 1474.1,350.8 1474.4,354.3 1474.7,350.5 1475,354.1 1475.3,353.4 1475.6,349 1475.9,351.8 1476.2,359.1 1476.5,355.2 1476.8,358.3 1477.1,351 1477.4,350.2 1477.7,353.9 1478,353.5 1478.3,353.3 1478.6,350.8 1478.9,355.4 1479.2,351.9 1479.5,354.2 1479.8,349.2 1480.1,351.7 1480.4,355.6 1480.7,354.7 1481,352 1481.3,349.1 1481.6,352 1481.9,353.4 1482.2,355.9 1482.5,348.6 1482.8,354.8 1483.1,350.8 1483.4,353.9 1483.7,350.6 1484,355 1484.3,354.7 1484.6,347.6 1484.9,350.7 1485.2,352.8 1485.5,349 1485.8,347.4 1486.1,348.4 1486.4,353.3 1486.7,347 1487,353.6 1487.3,348 1487.6,348.3 1487.9,348.8 1488.2,347.7 1488.5,353.6 1488.8,353.8 1489.1,352.7 1489.4,347.3 1489.7,354.5 1490,347.2 1490.3,350 1490.6,348.7 1490.9,348.6 1491.2,346.8 1491.5,347.8 1491.8,350.4 1492.1,348 1492.4,347.6 1492.7,347.3 1493,346.2 1493.3,350 1493.6,351.8 1493.9,350.4 1494.2,347.4 1494.5,348.6 1494.8,345.2 1495.1,348.8 1495.4,349.2 1495.7,349.2 1496,346.6 1496.3,345.8 1496.6,343.3 1496.9,344.5 1497.2,351 1497.5,349.7 1497.8,348.2 1498.1,344 1498.4,344.3 1498.7,352.2 1499,348.9 1499.3,345.4 1499.6,347 1499.9,348.5 1500.2,343.2 1500.5,346.6 1500.8,341.6 1501.1,345.9 1501.4,345.8 1501.7,344.8 1502,345.6 1502.3,347.5 1502.6,347.8 1502.9,344.8 1503.2,346 1503.5,345.2 1503.8,342.8 1504.1,344.5 1504.4,341.4 1504.7,344.7 1505,340.5 1505.3,343.7 1505.6,346.1 1505.9,344 1506.2,346.1 1506.5,347.4 1506.8,344.4 1507.1,344.8 1507.4,343.4 1507.7,343.3 1508,340.9 1508.3,343 1508.6,341.4 1508.9,345.2 1509.2,342.7 1509.5,343.5 1509.8,338.1 1510.1,345 1510.4,338.5 1510.7,338.7 1511,342.2 1511.3,338.2 1511.6,342.8 1511.9,342.4 1512.2,345 1512.5,345.4 1512.8,340 1513.1,344.6 1513.4,343.4 1513.7,346.3 1514,342 1514.3,341.6 1514.6,337.5 1514.9,345.2 1515.2,342.6 1515.5,341.2 1515.8,343.7 1516.1,342.8 1516.4,343.6 1516.7,340.3 1517,340.6 1517.3,342.3 1517.6,340.1 1517.9,336.7 1518.2,339.3 1518.5,342.8 1518.8,342 1519.1,340.7 1519.4,339.2 1519.7,335.9 1520,335.6 1520.3,341.4 1520.6,338.4 1520.9,339.8 1521.2,339.5 1521.5,343.3 1521.8,343.6 1522.1,341.1 1522.4,343 1522.7,337.5 1523,338.2 1523.3,345.5 1523.6,338.3 1523.9,337.7 1524.2,337.6 1524.5,340.4 1524.8,339.6 1525.1,343 1525.4,336.4 1525.7,337.9 1526,343.5 1526.3,339 1526.6,342.6 1526.9,337.3 1527.2,337.8 1527.5,343.2 1527.8,340.3 1528.1,341.8 1528.4,345.3 1528.7,337.5 1529,344.2 1529.3,338.1 1529.6,340.5 1529.9,339.5 1530.2,338.9 1530.5,341.5 1530.8,339.1 1531.1,339.9 1531.4,342.3 1531.7,341.3 1532,341 1532.3,339.5 1532.6,338.8 1532.9,345.4 1533.2,343 1533.5,344.7 1533.8,343.1 1534.1,345.4 1534.4,343.6 1534.7,339.2 1535,339.1 1535.3,345.1 1535.6,341.6 1535.9,345.9 1536.2,343.8 1536.5,346.1 1536.8,344.2 1537.1,345 1537.4,342.5 1537.7,341.7 1538,346.4 1538.3,347.1 1538.6,346 1538.9,345.5 1539.2,347.6 1539.5,341.5 1539.8,342.3 1540.1,346.5 1540.4,343.4 1540.7,346.1 1541,345.8 1541.3,343.6 1541.6,349.1 1541.9,349.3 1542.2,348.7 1542.5,347.6 1542.8,350.1 1543.1,345.1 1543.4,347 1543.7,342.5 1544,344.9 1544.3,348.7 1544.6,348.8 1544.9,345.3 1545.2,348.9 1545.5,342.7 1545.8,349.9 1546.1,348.4 1546.4,346.3 1546.7,348.1 1547,344.1 1547.3,348.5 1547.6,346.3 1547.9,349.1 1548.2,349.5 1548.5,352.8 1548.8,348.9 1549.1,347.7 1549.4,348.9 1549.7,351.6 1550,349.9 1550.3,352.9 1550.6,347.6 1550.9,352.3 1551.2,348.9 1551.5,348.9 1551.8,354.2 1552.1,348.5 1552.4,349.4 1552.7,350.3 1553,349.1 1553.3,349.4 1553.6,354.9 1553.9,351.8 1554.2,349 1554.5,347.5 1554.8,352.2 1555.1,349.8 1555.4,354.2 1555.7,351.4 1556,350.8 1556.3,347.9 1556.6,348 1556.9,348.7 1557.2,353.2 1557.5,353.1 1557.8,350.8 1558.1,351.2 1558.4,352.7 1558.7,349.8 1559,350.5 1559.3,354 1559.6,353.2 1559.9,349.6 1560.2,347.8 1560.5,356.7 1560.8,352.5 1561.1,350.3 1561.4,355.3 1561.7,355.2 1562,357 1562.3,356.4 1562.6,351 1562.9,353.6 1563.2,352 1563.5,355.6 1563.8,354.1 1564.1,355.9 1564.4,354.7 1564.7,354.7 1565,357.6 1565.3,356.9 1565.6,350.9 1565.9,351.1 1566.2,352.9 1566.5,350 1566.8,350.3 1567.1,354.1 1567.4,353.2 1567.7,359.4 1568,352.1 1568.3,360 1568.6,356.7 1568.9,358.3 1569.2,355.1 1569.5,358.8 1569.8,359.7 1570.1,360.1 1570.4,356.1 1570.7,358.8 1571,359.2 1571.3,357.5 1571.6,361.7 1571.9,355.8 1572.2,352.3 1572.5,354.3 1572.8,356 1573.1,355.7 1573.4,358.1 1573.7,358.7 1574,356.1 1574.3,360.6 1574.6,353.7 1574.9,363.3 1575.2,355.3 1575.5,362.9 1575.8,360.5 1576.1,356 1576.4,356 1576.7,357.6 1577,354.7 1577.3,356.3 1577.6,357 1577.9,363.6 1578.2,359.6 1578.5,361.4 1578.8,362.9 1579.1,360.2 1579.4,358.1 1579.7,363.4 1580,356.7 1580.3,362.8 1580.6,360.9 1580.9,360.8 1581.2,363.7 1581.5,357.3 1581.8,357.1 1582.1,361.6 1582.4,363.1 1582.7,358.3 1583,356.5 1583.3,359.1 1583.6,359.5 1583.9,361.8 1584.2,359.5 1584.5,359.3 1584.8,358.7 1585.1,362.3 1585.4,358.4 1585.7,359.5 1586,362.6 1586.3,363.1 1586.6,359.9 1586.9,361.5 1587.2,363.3 1587.5,365.1 1587.8,363.2 1588.1,363.3 1588.4,363.3 1588.7,365.9 1589,366.1 1589.3,363.1 1589.6,360.4 1589.9,363.4 1590.2,359.1 1590.5,364.7 1590.8,361.7 1591.1,365.1 1591.4,363.8 1591.7,363.9 1592,363.7 1592.3,361 1592.6,359.1 1592.9,357 1593.2,361.7 1593.5,359.4 1593.8,359.3 1594.1,357 1594.4,352.7 1594.7,350.9 1595,346.3 1595.3,341.1 1595.6,330.9 1595.9,315 1596.2,292.2 1596.5,264.4 1596.8,236 1597.1,213.7 1597.4,210 1597.7,227.1 1598,255.1 1598.3,282.8 1598.6,308.9 1598.9,325.2 1599.2,338.9 1599.5,345.8 1599.8,353.8 1600.1,357.6 1600.4,357.7 1600.7,362.7 1601,360 1601.3,359.6 1601.6,362.3 1601.9,362.3 1602.2,366.6 1602.5,366.7 1602.8,368.3 1603.1,369.2 1603.4,368.5 1603.7,362.9 1604,368.4 1604.3,366 1604.6,368.9 1604.9,363.6 1605.2,364.8 1605.5,364.6 1605.8,369.9 1606.1,368.1 1606.4,365.9 1606.7,366.8 1607,366.2 1607.3,370.9 1607.6,370 1607.9,367.4 1608.2,371 1608.5,368.9 1608.8,369.7 1609.1,369.6 1609.4,371.1 1609.7,368.3 1610,372.4 1610.3,371.2 1610.6,371.4 1610.9,372.6 1611.2,373.6 1611.5,370.4 1611.8,375.3 1612.1,370.6 1612.4,370.1 1612.7,371.3 1613,369.6 1613.3,370.8 1613.6,370.3 1613.9,369.9 1614.2,373.4 1614.5,374.3 1614.8,370.7 1615.1,373.2 1615.4,371.3 1615.7,369.8 1616,375.1 1616.3,374 1616.6,373.7 1616.9,371.7 1617.2,372.5 1617.5,370.9 1617.8,371.3 1618.1,375.8 1618.4,374.1 1618.7,370.6 1619,370 1619.3,371 1619.6,371.9 1619.9,372.8 1620.2,376.5 1620.5,375 1620.8,371.8 1621.1,375.5 1621.4,372.2 1621.7,375.2 1622,371 1622.3,376.6 1622.6,372.1 1622.9,372.5 1623.2,371.9 1623.5,372.9 1623.8,375.7 1624.1,375.2 1624.4,376.5 1624.7,373.2 1625,375.3 1625.3,375.5 1625.6,373.3 1625.9,376.8 1626.2,373.5 1626.5,376 1626.8,374.9 1627.1,372.6 1627.4,372.5 1627.7,372.4 1628,377.2 1628.3,374.5 1628.6,376.9 1628.9,376.6 1629.2,376.5 1629.5,374.8 1629.8,374 1630.1,377.1 1630.4,377.6 1630.7,375.9 1631,375.6 1631.3,375.3 1631.6,377.3 1631.9,372.2 1632.2,372.4 1632.5,375.6 1632.8,372.4 1633.1,375 1633.4,372.8 1633.7,373.7 1634,370.1 1634.3,366.2 1634.6,360.1 1634.9,354.9 1635.2,350.4 1635.5,345.7 1635.8,349.5 1636.1,354.7 1636.4,359.8 1636.7,366.3 1637,368.4 1637.3,371.4 1637.6,370.6 1637.9,372.7 1638.2,374.2 1638.5,377 1638.8,376.4 1639.1,374.9 1639.4,373.7 1639.7,377.6 1640,378.7 1640.3,378.9 1640.6,375.7 1640.9,376.2 1641.2,374.6 1641.5,376.2 1641.8,375 1642.1,374.9 1642.4,376.1 1642.7,377.9 1643,378.3 1643.3,377.6 1643.6,379.3 1643.9,375.6 1644.2,374.5 1644.5,372.9 1644.8,379.6 1645.1,379.8 1645.4,375.7 1645.7,378.7 1646,379.6 1646.3,380.8 1646.6,375.9 1646.9,379.1 1647.2,374.9 1647.5,377.6 1647.8,376.4 1648.1,376.8 1648.4,378.5 1648.7,378.4 1649,376.4 1649.3,380.8 1649.6,380 1649.9,377.9 1650.2,380.4 1650.5,377.2 1650.8,380.3 1651.1,380 1651.4,379 1651.7,377.7 1652,380.2 1652.3,381.2 1652.6,381.2 1652.9,380.2 1653.2,377.1 1653.5,380.4 1653.8,377 1654.1,381 1654.4,376.1 1654.7,376.5 1655,377.1 1655.3,377.9 1655.6,378.3 1655.9,377 1656.2,380.3 1656.5,377.9 1656.8,381.1 1657.1,379.2 1657.4,381.6 1657.7,379.4 1658,381.2 1658.3,377.2 1658.6,376.4 1658.9,379.1 1659.2,378.9 1659.5,379.7 1659.8,380.6 1660.1,380.5 1660.4,379.1 1660.7,378.5 1661,377.3 1661.3,379.3 1661.6,380.2 1661.9,378.6 1662.2,378.7 1662.5,381.3 1662.8,380.2 1663.1,377.1 1663.4,380.8 1663.7,376.9 1664,380.9 1664.3,381.5 1664.6,380.4 1664.9,381.5 1665.2,382.2 1665.5,380.2 1665.8,379.6 1666.1,377.5 1666.4,377.8 1666.7,378.4 1667,378.3 1667.3,377.3 1667.6,382.8 1667.9,378.5 1668.2,380.6 1668.5,378.2 1668.8,381.1 1669.1,379.2 1669.4,378.7 1669.7,378 1670,381.9 1670.3,377.8 1670.6,379.5 1670.9,379.5 1671.2,380.1 1671.5,381.7 1671.8,377.1 1672.1,379.7 1672.4,378.3 1672.7,381.5 1673,379.3 1673.3,381.8 1673.6,380.9 1673.9,381.2 1674.2,378.6 1674.5,378.9 1674.8,379.7 1675.1,378.7 1675.4,380 1675.7,377.6 1676,381.1 1676.3,379.7 1676.6,381 1676.9,377.7 1677.2,379.9 1677.5,379.6 1677.8,378.8 1678.1,380.2 1678.4,379.3 1678.7,381 1679,379.2 1679.3,382.6 1679.6,379.4 1679.9,381.4 1680.2,381.2 1680.5,381.5 1680.8,380 1681.1,380.3 1681.4,381.6 1681.7,383.2 1682,382 1682.3,378.9 1682.6,379.9 1682.9,378.3 1683.2,381.2 1683.5,380.3 1683.8,380.2 1684.1,379.3 1684.4,383 1684.7,381.4 1685,380.8 1685.3,379.8 1685.6,378.5 1685.9,382.3 1686.2,383.1 1686.5,380 1686.8,381.3 1687.1,382.2 1687.4,380.9 1687.7,381.4 1688,380.4 1688.3,379.9 1688.6,382.2 1688.9,378.3 1689.2,380.3 1689.5,382 1689.8,380.8 1690.1,379.5 1690.4,381.2 1690.7,379.6 1691,380.9 1691.3,379.5 1691.6,379.1 1691.9,379.5 1692.2,383.4 1692.5,382.3 1692.8,382.5 1693.1,380.4 1693.4,379.8 1693.7,381.8 1694,380.3 1694.3,381.1 1694.6,380 1694.9,379.6 1695.2,381.7 1695.5,379.8 1695.8,382.7 1696.1,383.4 1696.4,381.1 1696.7,382.9 1697,379.7 1697.3,382.3 1697.6,382.3 1697.9,381.9 1698.2,381.5 1698.5,383.2 1698.8,380.8 1699.1,382.9 1699.4,379.5 1699.7,382.2 1700,379.9 1700.3,380.2 1700.6,381.5 1700.9,381 1701.2,382.2 1701.5,382.2 1701.8,381.7 1702.1,380.6 1702.4,381.8 1702.7,381.6 1703,381.3 1703.3,382.7 1703.6,382 1703.9,380.9 1704.2,380.6 1704.5,382.3 1704.8,381.2 1705.1,381.2 1705.4,382.3 1705.7,382 1706,383.5 1706.3,379 1706.6,380.2 1706.9,381.6 1707.2,383.2 1707.5,382.5 1707.8,380.6 1708.1,381.5 1708.4,380.9 1708.7,379.5 1709,381.6 1709.3,382.8 1709.6,379.6 1709.9,381.9 1710.2,380.3 1710.5,382.9 1710.8,382.3 1711.1,381.9 1711.4,382.6 1711.7,381.6 1712,380.9 1712.3,382.3 1712.6,382.7 1712.9,379.8 1713.2,383.9 1713.5,380.3 1713.8,379.7 1714.1,381.7 1714.4,383.5 1714.7,382.1 1715,384.7 1715.3,380.1 1715.6,384.6 1715.9,382.2 1716.2,380 1716.5,380.3 1716.8,380.5 1717.1,383.7 1717.4,383.5 1717.7,382.6 1718,384.1 1718.3,380.5 1718.6,382.5 1718.9,380.8 1719.2,382.8 1719.5,384 1719.8,381.9 1720.1,382.1 1720.4,383.6 1720.7,382.5 1721,383.9 1721.3,381.5 1721.6,382.3 1721.9,382 1722.2,381.7 1722.5,384.2 1722.8,381.3 1723.1,382 1723.4,385 1723.7,383.3 1724,383.2 1724.3,381.4 1724.6,381 1724.9,383.3 1725.2,380 1725.5,383.2 1725.8,383.9 1726.1,382.4 1726.4,381.8 1726.7,379.4 1727,382.2 1727.3,381.4 1727.6,382 1727.9,380.2 1728.2,381.1 1728.5,383.2 1728.8,383.7 1729.1,381 1729.4,384.3 1729.7,382.1 1730,383.4 1730.3,380.9 1730.6,383.8 1730.9,380.8 1731.2,384.6 1731.5,382.5 1731.8,381.7 1732.1,383.4 1732.4,380 1732.7,384.5 1733,383.9 1733.3,381.9 1733.6,381.4 1733.9,381.8 1734.2,383.4 1734.5,382.7 1734.8,384.8 1735.1,382.7 1735.4,382.5 1735.7,381.1 1736,381.8 1736.3,379.9 1736.6,382.6 1736.9,380.8 1737.2,381.2 1737.5,380.8 1737.8,380 1738.1,382.9 1738.4,383 1738.7,384 1739,380.8 1739.3,383.2 1739.6,382.3 1739.9,381.2 1740.2,382.6 1740.5,383.2 1740.8,380.5 1741.1,383.2 1741.4,383.7 1741.7,383 1742,381.2 1742.3,382 1742.6,383.5 1742.9,381.1 1743.2,381.9 1743.5,380.6 1743.8,383.6 1744.1,382.4 1744.4,382.6 1744.7,382.7 1745,381.5 1745.3,382.5 1745.6,384.9 1745.9,381.9 1746.2,383.1 1746.5,382.8 1746.8,381.8 1747.1,383.2 1747.4,381.2 1747.7,381 1748,382.9 1748.3,379.7 1748.6,382.9 1748.9,381.5 1749.2,381.8 1749.5,380.7 1749.8,381.9 1750.1,381.7 1750.4,379.3 1750.7,380.2 1751,381.2 1751.3,382.6 1751.6,379.1 1751.9,382 1752.2,379.2 1752.5,378.8 1752.8,379.2 1753.1,378.8 1753.4,377.7 1753.7,375.2 1754,372.1 1754.3,365.5 1754.6,358.3 1754.9,347.5 1755.2,333.5 1755.5,318.4 1755.8,304 1756.1,295 1756.4,296.6 1756.7,308.2 1757,323.6 1757.3,339.2 1757.6,352.1 1757.9,360.6 1758.2,368 1758.5,372 1758.8,376.7 1759.1,375.2 1759.4,378.6 1759.7,378.4 1760,378.9 1760.3,380.8 1760.6,380.9 1760.9,382.7 1761.2,382.7 1761.5,380.5 1761.8,382.8 1762.1,381.9 1762.4,383.4 1762.7,381.1 1763,380.3 1763.3,382.9 1763.6,381.5 1763.9,382.8 1764.2,380.4 1764.5,384.1 1764.8,381.6 1765.1,384 1765.4,381 1765.7,384.6 1766,384.5 1766.3,383.3 1766.6,383.2 1766.9,381.4 1767.2,381.5 1767.5,381.8 1767.8,383 1768.1,381.2 1768.4,380.9 1768.7,380.9 1769,383.3 1769.3,381.4 1769.6,381.6 1769.9,384.2 1770.2,383 1770.5,385.1 1770.8,384.3 1771.1,382.7 1771.4,383.8 1771.7,381.8 1772,382.2 1772.3,385.6 1772.6,383.3 1772.9,383.3 1773.2,381.4 1773.5,382.4 1773.8,384.5 1774.1,382.8 1774.4,384.8 1774.7,384 1775,383.2 1775.3,385.1 1775.6,384.9 1775.9,385.7 1776.2,382.5 1776.5,383.2 1776.8,384.1 1777.1,382.3 1777.4,381.7 1777.7,381.7 1778,383 1778.3,385.3 1778.6,384.6 1778.9,382.9 1779.2,382.1 1779.5,382 1779.8,386.1 1780.1,382.4 1780.4,384.9 1780.7,382.8 1781,383.6 1781.3,385.3 1781.6,382.2 1781.9,382.8 1782.2,383.1 1782.5,384.4 1782.8,383.6 1783.1,382.3 1783.4,384.4 1783.7,382.7 1784,385.7 1784.3,384.2 1784.6,384.8 1784.9,384.3 1785.2,385.9 1785.5,383.5 1785.8,382.3 1786.1,382.4 1786.4,384.3 1786.7,384.5 1787,383.2 1787.3,385.4 1787.6,385.3 1787.9,384.9 1788.2,385.6 1788.5,383.1 1788.8,386.2 1789.1,386 1789.4,385.7 1789.7,385.4 1790,385 1790.3,386 1790.6,384 1790.9,385 1791.2,384.8 1791.5,385.5 1791.8,382.8 1792.1,383.7 1792.4,384.8 1792.7,383.7 1793,383.5 1793.3,385.3 1793.6,386.7 1793.9,384.9 1794.2,383.4 1794.5,384.4 1794.8,383.8 1795.1,385.1 1795.4,385.5 1795.7,385.8 1796,383 1796.3,382.8 1796.6,384.5 1796.9,385.4 1797.2,384.4 1797.5,384.4 1797.8,382.1 1798.1,385.5 1798.4,384.7 1798.7,384.9 1799,384.8 1799.3,382.6 1799.6,384 1799.9,385.7 1800.2,383.4 1800.5,383.7 1800.8,383.4 1801.1,384.4 1801.4,383.5 1801.7,383.9 1802,384.2 1802.3,386 1802.6,384.4 1802.9,386 1803.2,383.8 1803.5,383.2 1803.8,386.2 1804.1,383 1804.4,386.4 1804.7,385.9 1805,383.8 1805.3,382.7 1805.6,382.6 1805.9,384.8 1806.2,383.7 1806.5,384.4 1806.8,385.6 1807.1,386.3 1807.4,383.2 1807.7,383.7 1808,382.2 1808.3,383.8 1808.6,382.8 1808.9,383.2 1809.2,384.5 1809.5,383.1 1809.8,382.9 1810.1,383.6 1810.4,384.6 1810.7,382.1 1811,383.7 1811.3,385.9 1811.6,384.7 1811.9,384.9 1812.2,383.5 1812.5,385 1812.8,384.6 1813.1,384.9 1813.4,384.3 1813.7,385 1814,385.9 1814.3,384.3 1814.6,384.7 1814.9,382.5 1815.2,383.7 1815.5,383.5 1815.8,384.5 1816.1,385.5 1816.4,385.7 1816.7,383.6 1817,383.9 1817.3,382.5 1817.6,382.7 1817.9,385.9 1818.2,383.7 1818.5,383.3 1818.8,382.1 1819.1,383.1 1819.4,382.8 1819.7,383.9 1820,384.6 1820.3,385 1820.6,384.9 1820.9,383 1821.2,382.2 1821.5,384.8 1821.8,382.3 1822.1,384.3 1822.4,383.2 1822.7,384.9 1823,381.8 1823.3,385.5 1823.6,382.5 1823.9,385.3 1824.2,385 1824.5,381.6 1824.8,384.8 1825.1,382.4 1825.4,384.5 1825.7,382.8 1826,383.7 1826.3,382.5 1826.6,380.5 1826.9,380.6 1827.2,379.2 1827.5,375.3 1827.8,373.4 1828.1,367.5 1828.4,361.2 1828.7,352.5 1829,341.5 1829.3,331.9 1829.6,326.8 1829.9,327.3 1830.2,335.5 1830.5,344.8 1830.8,356 1831.1,362.9 1831.4,370.7 1831.7,375.3 1832,379.3 1832.3,381.1 1832.6,380.1 1832.9,381.1 1833.2,380.5 1833.5,383.8 1833.8,382.2 1834.1,383.4 1834.4,383.3 1834.7,382.6 1835,381.8 1835.3,382.2 1835.6,382.5 1835.9,382.2 1836.2,383.5 1836.5,383.3 1836.8,385.2 1837.1,383.8 1837.4,383.8 1837.7,386.4 1838,386.5 1838.3,385.4 1838.6,384.6 1838.9,384.4 1839.2,383.4 1839.5,383.4 1839.8,384.7 1840.1,383.3 1840.4,386.4 1840.7,383.5 1841,386 1841.3,383.8 1841.6,384.1 1841.9,386.3 1842.2,383.3 1842.5,383.3 1842.8,384.2 1843.1,383.4 1843.4,383.3 1843.7,385.8 1844,383.9 1844.3,384.8 1844.6,384 1844.9,383.5 1845.2,386.2 1845.5,383.8 1845.8,382.8 1846.1,383.2 1846.4,382.5 1846.7,386.1 1847,384.1 1847.3,383.2 1847.6,386.6 1847.9,387 1848.2,383.1 1848.5,385.6 1848.8,386 1849.1,384.2 1849.4,386.5 1849.7,384.9 1850,384.6 1850.3,384.5 1850.6,383.2 1850.9,381.8 1851.2,382.3 1851.5,383.3 1851.8,381.9 1852.1,377.8 1852.4,375.8 1852.7,376.6 1853,375.6 1853.3,376.3 1853.6,378 1853.9,378.9 1854.2,382.3 1854.5,381.2 1854.8,385 1855.1,383 1855.4,383 1855.7,382.9 1856,383.4 1856.3,383.6 1856.6,383.3 1856.9,385.6 1857.2,387 1857.5,385.2 1857.8,384.4 1858.1,387.6 1858.4,384 1858.7,386.7 1859,385.9 1859.3,384.3 1859.6,384.4 1859.9,387.9 1860.2,384.3 1860.5,386.5 1860.8,386 1861.1,385.9 1861.4,386.1 1861.7,386.7 1862,386.9 1862.3,387.3 1862.6,386.9 1862.9,384.1 1863.2,383.4 1863.5,385.3 1863.8,385.3 1864.1,385.9 1864.4,384.1 1864.7,385.9 1865,383.3 1865.3,384.5 1865.6,383.5 1865.9,385.2 1866.2,384.8 1866.5,387 1866.8,384.4 1867.1,382.5 1867.4,384.4 1867.7,384.4 1868,386.3 1868.3,386.6 1868.6,386.7 1868.9,385 1869.2,383 1869.5,386.8 1869.8,385.4 1870.1,383.6 1870.4,384 1870.7,386.3 1871,387.6 1871.3,383.7 1871.6,386 1871.9,386.2 1872.2,385.2 1872.5,386 1872.8,385.1 1873.1,386 1873.4,386.2 1873.7,384.3 1874,386.8 1874.3,384.4 1874.6,384.9 1874.9,384.7 1875.2,384.7 1875.5,385.8 1875.8,387.9 1876.1,387.5 1876.4,387.4 1876.7,386.1 1877,385.6 1877.3,386.5 1877.6,386.5 1877.9,384.5 1878.2,385.6 1878.5,387.8 1878.8,384.1 1879.1,384.8 1879.4,387.7 1879.7,386.3 1880,387 1880.3,385.6 1880.6,386.6 1880.9,384.2 1881.2,385 1881.5,386.8 1881.8,384 1882.1,387.8 1882.4,385.8 1882.7,388.3 1883,386.8 1883.3,386.4 1883.6,383.9 1883.9,386.6 1884.2,386.3 1884.5,384.7 1884.8,386.1 1885.1,386.8 1885.4,387 1885.7,384.6 1886,385.2 1886.3,384.2 1886.6,384.7 1886.9,385 1887.2,384.2 1887.5,386.2 1887.8,388.1 1888.1,387 1888.4,385.2 1888.7,387 1889,385.6 1889.3,386.5 1889.6,386.5 1889.9,385.3 1890.2,387.2 1890.5,387.4 1890.8,385.2 1891.1,386.9 1891.4,386.1 1891.7,387.2 1892,385.8 1892.3,383.4 1892.6,386.6 1892.9,386.3 1893.2,386.8 1893.5,384.8 1893.8,384.6 1894.1,384.3 1894.4,387.6 1894.7,385.2 1895,386.9 1895.3,384.7 1895.6,385.8 1895.9,387.7 1896.2,387.1 1896.5,386.3 1896.8,385 1897.1,387.1 1897.4,386 1897.7,386.9 1898,387.7 1898.3,386.7 1898.6,384.7 1898.9,386.9 1899.2,386.9 1899.5,385.1 1899.8,385.4 1900.1,385.6 1900.4,385.9 1900.7,385.6 1901,387.5 1901.3,386.8 1901.6,386.3 1901.9,385.8 1902.2,384.6 1902.5,385.4 1902.8,385 1903.1,385.1 1903.4,386.9 1903.7,386.9 1904,387 1904.3,384.8 1904.6,385.5 1904.9,384.6 1905.2,386 1905.5,387.6 1905.8,387.7 1906.1,383.5 1906.4,386.8 1906.7,385.1 1907,384.1 1907.3,387.6 1907.6,384.7 1907.9,386.5 1908.2,386.3 1908.5,386.8 1908.8,387.5 1909.1,384.6 1909.4,388 1909.7,384.2 1910,387.2 1910.3,387.7 1910.6,386.1 1910.9,387.2 1911.2,385.1 1911.5,385.1 1911.8,388.5 1912.1,383.7 1912.4,385.9 1912.7,387.2 1913,386.8 1913.3,386.5 1913.6,387.4 1913.9,384.1 1914.2,384.2 1914.5,385.8 1914.8,386.5 1915.1,385.7 1915.4,386.5 1915.7,385.6 1916,384 1916.3,386.8 1916.6,384.5 1916.9,387.2 1917.2,386 1917.5,387.7 1917.8,386.9 1918.1,386.7 1918.4,386.4 1918.7,384.4 1919,384.4 1919.3,386 1919.6,387.1 1919.9,384.7 1920.2,387.8 1920.5,384.9 1920.8,388.3 1921.1,387.2 1921.4,387.4 1921.7,386.1 1922,384.8 1922.3,387.9 1922.6,385 1922.9,387.8 1923.2,386.5 1923.5,387.5 1923.8,384 1924.1,385.5 1924.4,387.3 1924.7,384.1 1925,384.2 1925.3,387.6 1925.6,384.5 1925.9,384.7 1926.2,386.4 1926.5,387.1 1926.8,383.6 1927.1,385 1927.4,386 1927.7,385.5 1928,386.7 1928.3,386.8 1928.6,385.2 1928.9,387.6 1929.2,384.9 1929.5,383.8 1929.8,386.6 1930.1,387.3 1930.4,387.3 1930.7,387.9 1931,384.7 1931.3,384.3 1931.6,385.8 1931.9,387.8 1932.2,386.3 1932.5,384.5 1932.8,386.1 1933.1,384.4 1933.4,387.9 1933.7,386.7 1934,385.2 1934.3,386.6 1934.6,385.5 1934.9,383.4 1935.2,387 1935.5,384 1935.8,384.6 1936.1,382.3 1936.4,381.5 1936.7,381.4 1937,382.4 1937.3,379.3 1937.6,375.5 1937.9,373.1 1938.2,371.3 1938.5,370.1 1938.8,371.4 1939.1,373.8 1939.4,376.5 1939.7,378.6 1940,380 1940.3,382.4 1940.6,382.1 1940.9,384.6 1941.2,384.6 1941.5,382.8 1941.8,385.9 1942.1,384.6 1942.4,384.7 1942.7,386.3 1943,386.7 1943.3,386.8 1943.6,384.9 1943.9,387.3 1944.2,388 1944.5,386.7 1944.8,387 1945.1,387 1945.4,386.5 1945.7,387.8 1946,386.6 1946.3,387 1946.6,384.7 1946.9,386.4 1947.2,387.2 1947.5,387 1947.8,387.2 1948.1,385.5 1948.4,385.8 1948.7,387.6 1949,385.9 1949.3,386.2 1949.6,386.6 1949.9,387.2 1950.2,385.4 1950.5,387 1950.8,385.2 1951.1,386.1 1951.4,387.1 1951.7,385.7 1952,386.8 1952.3,385.8 1952.6,387.5 1952.9,384.3 1953.2,383.8 1953.5,385 1953.8,387.4 1954.1,385.2 1954.4,387.5 1954.7,387.1 1955,387.2 1955.3,385 1955.6,385.9 1955.9,384.4 1956.2,387.1 1956.5,386.8 1956.8,385.9 1957.1,386.5 1957.4,386.3 1957.7,384.7 1958,389.2 1958.3,386 1958.6,385.7 1958.9,387.6 1959.2,387.8 1959.5,386.6 1959.8,385.2 1960.1,387.4 1960.4,384 1960.7,385.2 1961,385.2 1961.3,386.6 1961.6,387.7 1961.9,388.4 1962.2,386.2 1962.5,384.6 1962.8,388.1 1963.1,386.1 1963.4,384.6 1963.7,386.2 1964,387.9 1964.3,387 1964.6,386.8 1964.9,385 1965.2,385.2 1965.5,387.7 1965.8,384.7 1966.1,385 1966.4,385.5 1966.7,385.2 1967,387 1967.3,387.7 1967.6,385.7 1967.9,385.9 1968.2,386.9 1968.5,384.2 1968.8,385.6 1969.1,385.6 1969.4,388 1969.7,385.1 1970,385.7 1970.3,387.8 1970.6,385.7 1970.9,386.4 1971.2,386.4 1971.5,384.6 1971.8,386.4 1972.1,388.2 1972.4,386.8 1972.7,386.4 1973,386.7 1973.3,388.1 1973.6,387 1973.9,386.4 1974.2,387.1 1974.5,387.5 1974.8,388 1975.1,385.5 1975.4,384.5 1975.7,387.8 1976,385.1 1976.3,385 1976.6,385.4 1976.9,387.7 1977.2,384.9 1977.5,386 1977.8,384.9 1978.1,388.5 1978.4,386.8 1978.7,385.1 1979,387.9 1979.3,387.5 1979.6,385.8 1979.9,384.8 1980.2,388.6 1980.5,386.1 1980.8,386.7" fill="none" stroke="#1272ea" stroke-width="2.2"/>
<polyline points="1448.3,485.5 1448.3,520 1448.3,516.9 1448.6,513.6 1448.9,510 1449.2,513.4 1449.5,516.1 1449.8,516.9 1450.1,517.1 1450.4,513.9 1450.7,516.3 1451,516.4 1451.3,513.6 1451.6,511.3 1451.9,509.1 1452.2,511.7 1452.5,508.4 1452.8,518.6 1453.1,511.9 1453.4,515.8 1453.7,517.2 1454,508.2 1454.3,513.5 1454.6,518.5 1454.9,508.3 1455.2,517.2 1455.5,511.3 1455.8,511.7 1456.1,510 1456.4,510.8 1456.7,509.5 1457,511 1457.3,510.3 1457.6,514.1 1457.9,519.1 1458.2,511.5 1458.5,513.1 1458.8,513.4 1459.1,512.6 1459.4,514.5 1459.7,518.6 1460,511.4 1460.3,509.7 1460.6,512.1 1460.9,511.7 1461.2,516.8 1461.5,511.1 1461.8,508.6 1462.1,513.9 1462.4,512.8 1462.7,510.4 1463,511.2 1463.3,512.4 1463.6,512 1463.9,513.6 1464.2,517 1464.5,509.9 1464.8,509.7 1465.1,514.7 1465.4,508.9 1465.7,515.9 1466,511.6 1466.3,507 1466.6,509.9 1466.9,509.5 1467.2,513.2 1467.5,517.5 1467.8,517.1 1468.1,506.3 1468.4,514.4 1468.7,513.1 1469,511 1469.3,507.1 1469.6,509.8 1469.9,513.6 1470.2,510.4 1470.5,515.5 1470.8,515.5 1471.1,507.1 1471.4,516.7 1471.7,514.4 1472,506.8 1472.3,509.6 1472.6,513.2 1472.9,509.5 1473.2,506.3 1473.5,515.1 1473.8,509.8 1474.1,514.7 1474.4,504.7 1474.7,508.4 1475,509.6 1475.3,512.8 1475.6,506.1 1475.9,511.3 1476.2,505.9 1476.5,506.9 1476.8,510.8 1477.1,508.9 1477.4,516.5 1477.7,510.8 1478,506.8 1478.3,512.9 1478.6,504.4 1478.9,508.6 1479.2,516.3 1479.5,505.9 1479.8,512.8 1480.1,509 1480.4,516.2 1480.7,503.7 1481,502.1 1481.3,504.9 1481.6,505.3 1481.9,512.1 1482.2,507.8 1482.5,502.8 1482.8,508.2 1483.1,506.8 1483.4,505.6 1483.7,510.1 1484,513 1484.3,509 1484.6,506.5 1484.9,507.5 1485.2,511.7 1485.5,502.4 1485.8,508.1 1486.1,502 1486.4,503.4 1486.7,509.4 1487,505.4 1487.3,501.7 1487.6,500.7 1487.9,507.1 1488.2,505.9 1488.5,503.6 1488.8,504 1489.1,507.5 1489.4,505.2 1489.7,504.5 1490,506.8 1490.3,512.2 1490.6,508.7 1490.9,507.2 1491.2,508.6 1491.5,509.2 1491.8,505.9 1492.1,505.6 1492.4,508.2 1492.7,506.3 1493,500.6 1493.3,501.7 1493.6,502.8 1493.9,504.8 1494.2,498.7 1494.5,508.5 1494.8,501.5 1495.1,506.3 1495.4,511 1495.7,505.4 1496,507.1 1496.3,502.2 1496.6,496.3 1496.9,506.3 1497.2,498.2 1497.5,507.1 1497.8,504.3 1498.1,505.9 1498.4,503.5 1498.7,504.6 1499,500.6 1499.3,502 1499.6,500.1 1499.9,500.7 1500.2,502.5 1500.5,505.5 1500.8,494.9 1501.1,495.3 1501.4,503.4 1501.7,500 1502,501.1 1502.3,496.5 1502.6,499.2 1502.9,496.1 1503.2,496.5 1503.5,495.8 1503.8,496.7 1504.1,499.9 1504.4,495.7 1504.7,495.3 1505,499.4 1505.3,502.7 1505.6,496.7 1505.9,494.6 1506.2,494.7 1506.5,497.5 1506.8,493.3 1507.1,493.4 1507.4,502.1 1507.7,496.2 1508,500.8 1508.3,499.6 1508.6,499.8 1508.9,501.3 1509.2,494.5 1509.5,495.7 1509.8,494.2 1510.1,501.7 1510.4,500.6 1510.7,492.6 1511,496.5 1511.3,498.4 1511.6,496.3 1511.9,502.9 1512.2,494.2 1512.5,499.5 1512.8,493.1 1513.1,501.9 1513.4,501.5 1513.7,492.5 1514,493.2 1514.3,493.4 1514.6,502.1 1514.9,498 1515.2,501 1515.5,495.6 1515.8,498.3 1516.1,493.7 1516.4,499 1516.7,499.2 1517,495.7 1517.3,491.6 1517.6,498.9 1517.9,491.7 1518.2,495.7 1518.5,498.5 1518.8,497.3 1519.1,493.3 1519.4,496.4 1519.7,497.4 1520,496.2 1520.3,496.4 1520.6,497.6 1520.9,493.6 1521.2,497.5 1521.5,492 1521.8,491.8 1522.1,499.6 1522.4,497.6 1522.7,493.1 1523,495.7 1523.3,494.5 1523.6,498.8 1523.9,491.2 1524.2,489.6 1524.5,497.6 1524.8,489.2 1525.1,491.6 1525.4,493.4 1525.7,492.9 1526,500.5 1526.3,500.2 1526.6,500.3 1526.9,500.9 1527.2,498.8 1527.5,491.9 1527.8,498.5 1528.1,498.2 1528.4,494.2 1528.7,500.9 1529,501.4 1529.3,494.3 1529.6,499.3 1529.9,497.8 1530.2,495.5 1530.5,497.1 1530.8,495.7 1531.1,490.9 1531.4,492.3 1531.7,497.3 1532,497.3 1532.3,498 1532.6,491.8 1532.9,499.6 1533.2,501.6 1533.5,490.9 1533.8,498.6 1534.1,502.7 1534.4,501.1 1534.7,494.7 1535,495.8 1535.3,496.6 1535.6,497.6 1535.9,497 1536.2,498.9 1536.5,505.6 1536.8,502.3 1537.1,498.7 1537.4,496.3 1537.7,506.2 1538,501.5 1538.3,503.9 1538.6,497.1 1538.9,504.1 1539.2,499.2 1539.5,497.1 1539.8,500.7 1540.1,503.2 1540.4,501.2 1540.7,499.3 1541,501.5 1541.3,498.6 1541.6,501.2 1541.9,498.6 1542.2,505.5 1542.5,503 1542.8,501.4 1543.1,502.5 1543.4,507 1543.7,508.8 1544,502.7 1544.3,500.5 1544.6,506.3 1544.9,504.8 1545.2,504.1 1545.5,508.1 1545.8,500.2 1546.1,502.9 1546.4,505 1546.7,503.3 1547,500.7 1547.3,501.9 1547.6,503.8 1547.9,499.5 1548.2,508.3 1548.5,501 1548.8,507.9 1549.1,502.6 1549.4,510.8 1549.7,501.2 1550,505.9 1550.3,503.9 1550.6,503.9 1550.9,502.9 1551.2,503.3 1551.5,502.8 1551.8,506.2 1552.1,503.5 1552.4,504.6 1552.7,503.4 1553,504.1 1553.3,511.8 1553.6,506.1 1553.9,511.2 1554.2,510.4 1554.5,506 1554.8,512.2 1555.1,513.5 1555.4,512 1555.7,507.1 1556,506.7 1556.3,509.4 1556.6,507 1556.9,503.5 1557.2,505.5 1557.5,508.8 1557.8,507.6 1558.1,511.9 1558.4,512.5 1558.7,513.2 1559,510.9 1559.3,506.6 1559.6,505.3 1559.9,504.2 1560.2,511.3 1560.5,506.1 1560.8,507.7 1561.1,513.3 1561.4,513.2 1561.7,506.5 1562,514.1 1562.3,511 1562.6,512.9 1562.9,515.3 1563.2,515.3 1563.5,515 1563.8,512.9 1564.1,515.9 1564.4,513 1564.7,511.1 1565,515.7 1565.3,517.6 1565.6,513 1565.9,512.5 1566.2,510.4 1566.5,514.7 1566.8,508.2 1567.1,519.5 1567.4,512.9 1567.7,512.3 1568,515.1 1568.3,511.1 1568.6,515.4 1568.9,520.1 1569.2,515.6 1569.5,514.2 1569.8,519.3 1570.1,516.1 1570.4,515.6 1570.7,520.3 1571,513.6 1571.3,516.6 1571.6,515.5 1571.9,519.5 1572.2,510.5 1572.5,522 1572.8,514.3 1573.1,522.3 1573.4,517.2 1573.7,519 1574,518.8 1574.3,519 1574.6,514.3 1574.9,516.1 1575.2,513.2 1575.5,516.6 1575.8,522 1576.1,517.3 1576.4,513.3 1576.7,516.9 1577,521.6 1577.3,519.5 1577.6,521.5 1577.9,522.7 1578.2,521.8 1578.5,519.4 1578.8,518 1579.1,520.3 1579.4,515.7 1579.7,523.8 1580,523.5 1580.3,521.3 1580.6,515.1 1580.9,523.2 1581.2,519.5 1581.5,525.6 1581.8,517.3 1582.1,521 1582.4,527.3 1582.7,523 1583,525.5 1583.3,522.3 1583.6,519.6 1583.9,517.2 1584.2,525.8 1584.5,521.8 1584.8,518.7 1585.1,529.1 1585.4,528.2 1585.7,520.4 1586,520.3 1586.3,520.3 1586.6,526 1586.9,521.3 1587.2,523.1 1587.5,526.3 1587.8,526.1 1588.1,522.5 1588.4,521.7 1588.7,521.1 1589,520.5 1589.3,528 1589.6,520 1589.9,528.2 1590.2,526.7 1590.5,525.1 1590.8,526.7 1591.1,524.2 1591.4,519.7 1591.7,525 1592,520 1592.3,521.3 1592.6,521.9 1592.9,526.3 1593.2,521.5 1593.5,524.7 1593.8,519.6 1594.1,520.3 1594.4,515.7 1594.7,516 1595,512 1595.3,507.2 1595.6,494.5 1595.9,479.9 1596.2,459.5 1596.5,434.9 1596.8,408.2 1597.1,388 1597.4,385.5 1597.7,399.8 1598,426.1 1598.3,452.3 1598.6,473.8 1598.9,491.9 1599.2,501.9 1599.5,509.4 1599.8,518.2 1600.1,520.3 1600.4,522.9 1600.7,526 1601,525.8 1601.3,524 1601.6,523.9 1601.9,526.1 1602.2,526.2 1602.5,531.5 1602.8,527.8 1603.1,530.4 1603.4,532.4 1603.7,530.5 1604,531 1604.3,529.3 1604.6,529.6 1604.9,529.1 1605.2,530.2 1605.5,528.7 1605.8,531 1606.1,531.4 1606.4,529 1606.7,530.4 1607,534.6 1607.3,533 1607.6,531.1 1607.9,533.7 1608.2,532.6 1608.5,530.3 1608.8,530.2 1609.1,534.3 1609.4,531.9 1609.7,530.9 1610,533.7 1610.3,534.4 1610.6,536.8 1610.9,534.6 1611.2,534.3 1611.5,537.3 1611.8,538.9 1612.1,533.8 1612.4,537.6 1612.7,538.1 1613,531.2 1613.3,537.9 1613.6,534.5 1613.9,537.3 1614.2,536.4 1614.5,539.9 1614.8,538.7 1615.1,532.6 1615.4,533.5 1615.7,535.7 1616,535.2 1616.3,539.7 1616.6,534.7 1616.9,535.1 1617.2,538 1617.5,537.1 1617.8,539.6 1618.1,537.9 1618.4,538.1 1618.7,533.7 1619,539.4 1619.3,537.3 1619.6,533.9 1619.9,538.5 1620.2,539.8 1620.5,536 1620.8,538.1 1621.1,535.9 1621.4,538.6 1621.7,537.3 1622,536.2 1622.3,535.9 1622.6,539.8 1622.9,536 1623.2,535.7 1623.5,541.3 1623.8,539.9 1624.1,538.5 1624.4,536.1 1624.7,540.8 1625,538.4 1625.3,537.5 1625.6,538.7 1625.9,541.4 1626.2,539.2 1626.5,538.6 1626.8,538 1627.1,535.6 1627.4,537.3 1627.7,537.5 1628,534.4 1628.3,529.4 1628.6,529.4 1628.9,525 1629.2,527.1 1629.5,531 1629.8,530.6 1630.1,532.4 1630.4,537.9 1630.7,536.3 1631,536.3 1631.3,540.8 1631.6,540.6 1631.9,539.9 1632.2,539.1 1632.5,536.2 1632.8,540.3 1633.1,536.5 1633.4,537.1 1633.7,531.6 1634,525.9 1634.3,518.7 1634.6,511.4 1634.9,502 1635.2,498.5 1635.5,503.7 1635.8,512.8 1636.1,519.9 1636.4,526.8 1636.7,530.2 1637,535.9 1637.3,536.9 1637.6,535.4 1637.9,531.6 1638.2,532 1638.5,528 1638.8,519.9 1639.1,514.2 1639.4,511.5 1639.7,514 1640,521.7 1640.3,527.2 1640.6,534.1 1640.9,535.2 1641.2,538 1641.5,542.8 1641.8,543.2 1642.1,539.8 1642.4,540.1 1642.7,542.8 1643,540.7 1643.3,541 1643.6,543.6 1643.9,542.3 1644.2,544.9 1644.5,542.9 1644.8,545.3 1645.1,543.6 1645.4,544.6 1645.7,542.8 1646,544.6 1646.3,540.9 1646.6,545.9 1646.9,545.4 1647.2,543.3 1647.5,544.5 1647.8,542.8 1648.1,544.7 1648.4,545.9 1648.7,542.3 1649,545 1649.3,544 1649.6,544.8 1649.9,547.3 1650.2,547.8 1650.5,542.3 1650.8,541.2 1651.1,541.6 1651.4,547.1 1651.7,546.8 1652,544.8 1652.3,547.4 1652.6,542 1652.9,542.9 1653.2,543.2 1653.5,542.2 1653.8,540.3 1654.1,542.2 1654.4,542.4 1654.7,544.6 1655,546 1655.3,547.1 1655.6,543.5 1655.9,546.1 1656.2,544.1 1656.5,543.3 1656.8,543.1 1657.1,543 1657.4,542.1 1657.7,546 1658,543.8 1658.3,544.5 1658.6,546.1 1658.9,547.3 1659.2,541.7 1659.5,540.9 1659.8,544.2 1660.1,545.1 1660.4,539.1 1660.7,540.3 1661,541.2 1661.3,538 1661.6,541.5 1661.9,541.1 1662.2,542.5 1662.5,542.9 1662.8,545.1 1663.1,542.6 1663.4,547 1663.7,548.2 1664,541.6 1664.3,547.8 1664.6,546.7 1664.9,545.9 1665.2,543.3 1665.5,548 1665.8,545.1 1666.1,543.4 1666.4,546.9 1666.7,547 1667,548 1667.3,544.7 1667.6,545.8 1667.9,545.4 1668.2,545.6 1668.5,548.5 1668.8,545.1 1669.1,544.5 1669.4,547.4 1669.7,544 1670,548.1 1670.3,544.9 1670.6,546.8 1670.9,546.9 1671.2,545.7 1671.5,543.8 1671.8,545.3 1672.1,549.1 1672.4,546.9 1672.7,546 1673,544.7 1673.3,543.8 1673.6,546.2 1673.9,545 1674.2,548.8 1674.5,548.3 1674.8,542.9 1675.1,544.2 1675.4,546.3 1675.7,545.4 1676,547.1 1676.3,548 1676.6,544.7 1676.9,545.7 1677.2,548.7 1677.5,546.2 1677.8,547.6 1678.1,544 1678.4,550 1678.7,544.6 1679,544.7 1679.3,544.9 1679.6,547.6 1679.9,547.1 1680.2,547.7 1680.5,545.1 1680.8,545.1 1681.1,548.6 1681.4,547 1681.7,547 1682,546.6 1682.3,543.7 1682.6,543.8 1682.9,542.9 1683.2,543.3 1683.5,542.6 1683.8,541.5 1684.1,540.6 1684.4,539 1684.7,537.4 1685,537.1 1685.3,540.6 1685.6,540 1685.9,544.6 1686.2,546.4 1686.5,545.8 1686.8,544.2 1687.1,547.3 1687.4,547.8 1687.7,549 1688,546 1688.3,548.8 1688.6,544.3 1688.9,544.4 1689.2,544.7 1689.5,546.1 1689.8,549 1690.1,544.9 1690.4,548 1690.7,548.6 1691,547.4 1691.3,548.2 1691.6,547.6 1691.9,545.8 1692.2,549.1 1692.5,545.8 1692.8,548.6 1693.1,549.1 1693.4,546.5 1693.7,546.9 1694,546.3 1694.3,546.8 1694.6,548.4 1694.9,547.6 1695.2,548.8 1695.5,547.2 1695.8,550.2 1696.1,547.3 1696.4,549.3 1696.7,546.2 1697,547.9 1697.3,550 1697.6,546 1697.9,548.5 1698.2,546.9 1698.5,545.4 1698.8,548.2 1699.1,550.7 1699.4,548.1 1699.7,547.9 1700,547 1700.3,549.4 1700.6,550.4 1700.9,545.8 1701.2,547.6 1701.5,548.4 1701.8,545.6 1702.1,545.7 1702.4,548.4 1702.7,545.7 1703,549.6 1703.3,550 1703.6,546.7 1703.9,547.9 1704.2,548.3 1704.5,548.1 1704.8,547.6 1705.1,548.8 1705.4,548.1 1705.7,547.4 1706,544.8 1706.3,545.8 1706.6,547.9 1706.9,545.7 1707.2,551 1707.5,546 1707.8,547.3 1708.1,548 1708.4,548.5 1708.7,550 1709,547.8 1709.3,547.7 1709.6,548.5 1709.9,549 1710.2,550 1710.5,546.9 1710.8,549.3 1711.1,551 1711.4,550.2 1711.7,548.6 1712,549.4 1712.3,546.4 1712.6,548.5 1712.9,549.5 1713.2,546.7 1713.5,549 1713.8,546.9 1714.1,547.3 1714.4,548.1 1714.7,549.1 1715,548.2 1715.3,550.2 1715.6,550.9 1715.9,547.9 1716.2,550 1716.5,547.4 1716.8,547.2 1717.1,549.7 1717.4,549.8 1717.7,546.1 1718,548.6 1718.3,546.7 1718.6,547.7 1718.9,547.9 1719.2,547.4 1719.5,546.8 1719.8,545.6 1720.1,548.4 1720.4,550.1 1720.7,547.6 1721,548 1721.3,551.6 1721.6,548.5 1721.9,550.9 1722.2,552.9 1722.5,546.3 1722.8,549.4 1723.1,551.2 1723.4,547.8 1723.7,552.1 1724,547.2 1724.3,548.1 1724.6,547.4 1724.9,550.7 1725.2,551.6 1725.5,550.3 1725.8,550.3 1726.1,549 1726.4,549.6 1726.7,551.1 1727,549.6 1727.3,549.4 1727.6,548.9 1727.9,551.8 1728.2,551.9 1728.5,547.6 1728.8,551.4 1729.1,548.5 1729.4,551.3 1729.7,548.6 1730,550 1730.3,548.7 1730.6,547.3 1730.9,550.8 1731.2,547.1 1731.5,547.7 1731.8,550.8 1732.1,549.3 1732.4,548 1732.7,550.9 1733,550.4 1733.3,551.5 1733.6,547.9 1733.9,550 1734.2,548 1734.5,549.6 1734.8,547.9 1735.1,551.7 1735.4,550.3 1735.7,551.3 1736,547.6 1736.3,548.9 1736.6,548.6 1736.9,547.9 1737.2,549 1737.5,547.2 1737.8,547.1 1738.1,548.4 1738.4,552 1738.7,550.8 1739,547.7 1739.3,547.4 1739.6,547.8 1739.9,549.2 1740.2,551 1740.5,550.5 1740.8,549.1 1741.1,550.8 1741.4,547.6 1741.7,547 1742,549.3 1742.3,550.3 1742.6,550.2 1742.9,547.3 1743.2,548.9 1743.5,548.1 1743.8,551.3 1744.1,547.8 1744.4,549 1744.7,548.6 1745,550.4 1745.3,551.6 1745.6,548.3 1745.9,547.6 1746.2,548.1 1746.5,550.3 1746.8,549.1 1747.1,546.3 1747.4,550.4 1747.7,549.2 1748,546.4 1748.3,549.2 1748.6,548.9 1748.9,549 1749.2,546.8 1749.5,547.8 1749.8,546.7 1750.1,549.8 1750.4,549.1 1750.7,546.3 1751,546.5 1751.3,545.6 1751.6,544.7 1751.9,544.8 1752.2,547.6 1752.5,544.7 1752.8,541.7 1753.1,542.8 1753.4,538.5 1753.7,535.2 1754,530.6 1754.3,521.1 1754.6,509.4 1754.9,492.1 1755.2,474.5 1755.5,457.2 1755.8,448.1 1756.1,449.7 1756.4,462.7 1756.7,480.9 1757,497.6 1757.3,512.2 1757.6,525.1 1757.9,532.7 1758.2,536.1 1758.5,541.6 1758.8,542.2 1759.1,545 1759.4,545.8 1759.7,547 1760,543.1 1760.3,548.2 1760.6,548.3 1760.9,548.8 1761.2,548.9 1761.5,547.1 1761.8,548.3 1762.1,546.9 1762.4,549.1 1762.7,550.8 1763,546.6 1763.3,549.6 1763.6,549.9 1763.9,550.4 1764.2,551.6 1764.5,547.3 1764.8,550.6 1765.1,550.4 1765.4,548.7 1765.7,549.7 1766,548.3 1766.3,550.1 1766.6,549.8 1766.9,547.4 1767.2,547.1 1767.5,550.7 1767.8,547.3 1768.1,548.4 1768.4,550 1768.7,551.7 1769,550.9 1769.3,549.5 1769.6,547.5 1769.9,551.3 1770.2,549 1770.5,549.9 1770.8,547.2 1771.1,549.9 1771.4,549.1 1771.7,550.2 1772,552.5 1772.3,550.4 1772.6,550.7 1772.9,549.3 1773.2,550.3 1773.5,549.6 1773.8,549.2 1774.1,549.7 1774.4,548.6 1774.7,549.4 1775,551.8 1775.3,551.9 1775.6,550.1 1775.9,549 1776.2,550.3 1776.5,550.9 1776.8,548.4 1777.1,549.7 1777.4,553.2 1777.7,550 1778,551.1 1778.3,548.6 1778.6,550.2 1778.9,552.5 1779.2,551.2 1779.5,549.9 1779.8,550.6 1780.1,549 1780.4,547.9 1780.7,548.9 1781,551.3 1781.3,550.1 1781.6,552.4 1781.9,550.1 1782.2,552.1 1782.5,550.6 1782.8,550.3 1783.1,550.2 1783.4,551.8 1783.7,548.2 1784,551.2 1784.3,548.1 1784.6,551.7 1784.9,551.2 1785.2,551.4 1785.5,549.9 1785.8,549.4 1786.1,551.5 1786.4,550.2 1786.7,550.5 1787,550.4 1787.3,552.3 1787.6,551.9 1787.9,550.5 1788.2,551.3 1788.5,551.4 1788.8,551.9 1789.1,548.5 1789.4,549 1789.7,548.9 1790,545.2 1790.3,546.2 1790.6,547.7 1790.9,549 1791.2,548.7 1791.5,551 1791.8,548.2 1792.1,549.4 1792.4,550.8 1792.7,547.7 1793,548.6 1793.3,550.6 1793.6,548.5 1793.9,549.1 1794.2,552.5 1794.5,549.8 1794.8,549.4 1795.1,552.1 1795.4,551.7 1795.7,550.3 1796,549.1 1796.3,553.4 1796.6,551.6 1796.9,551.3 1797.2,552.1 1797.5,549.4 1797.8,551.8 1798.1,550.9 1798.4,548.4 1798.7,550 1799,551.1 1799.3,550.4 1799.6,550.3 1799.9,552.5 1800.2,553.6 1800.5,552.2 1800.8,549.9 1801.1,553.1 1801.4,552.3 1801.7,550.2 1802,553.1 1802.3,551.5 1802.6,549.6 1802.9,551.2 1803.2,551.9 1803.5,549.3 1803.8,552.1 1804.1,552.7 1804.4,553.1 1804.7,552.5 1805,550.3 1805.3,549.8 1805.6,553.6 1805.9,552.3 1806.2,551.8 1806.5,552.8 1806.8,549.8 1807.1,552.4 1807.4,549.4 1807.7,552.5 1808,552.1 1808.3,549.6 1808.6,552.8 1808.9,551.4 1809.2,549 1809.5,549.4 1809.8,549.5 1810.1,553.6 1810.4,549.9 1810.7,551.5 1811,552 1811.3,550.4 1811.6,552.1 1811.9,549.5 1812.2,552.7 1812.5,550.1 1812.8,552.2 1813.1,551.7 1813.4,551.5 1813.7,551.5 1814,551.7 1814.3,550 1814.6,550.4 1814.9,550.2 1815.2,551.7 1815.5,550.1 1815.8,551.7 1816.1,552.8 1816.4,551.2 1816.7,551.4 1817,550.6 1817.3,551.3 1817.6,548.5 1817.9,551.9 1818.2,551.1 1818.5,551.6 1818.8,551.2 1819.1,549.8 1819.4,553.2 1819.7,548.5 1820,549.2 1820.3,550.5 1820.6,549.2 1820.9,553.3 1821.2,553.1 1821.5,549.2 1821.8,550.9 1822.1,552.3 1822.4,552 1822.7,549.9 1823,548.4 1823.3,551 1823.6,549.9 1823.9,549.6 1824.2,551.2 1824.5,549.2 1824.8,550.8 1825.1,546.9 1825.4,547.2 1825.7,547.3 1826,547 1826.3,545.8 1826.6,545.7 1826.9,545.3 1827.2,539.8 1827.5,536.3 1827.8,531.7 1828.1,522.4 1828.4,511.6 1828.7,499.4 1829,486.8 1829.3,480.1 1829.6,482.3 1829.9,490.9 1830.2,502.8 1830.5,515.5 1830.8,526.8 1831.1,534.5 1831.4,538.5 1831.7,544.4 1832,546.6 1832.3,547.6 1832.6,547.3 1832.9,546.7 1833.2,548.9 1833.5,549.8 1833.8,550 1834.1,550.9 1834.4,550.2 1834.7,548.5 1835,550.9 1835.3,552.3 1835.6,550.2 1835.9,549.2 1836.2,552.4 1836.5,551.7 1836.8,548.9 1837.1,551.5 1837.4,551.6 1837.7,549.9 1838,550.3 1838.3,550 1838.6,549.8 1838.9,550.7 1839.2,548.9 1839.5,550.4 1839.8,548.8 1840.1,551.8 1840.4,550.1 1840.7,550.9 1841,553.1 1841.3,552.3 1841.6,550.5 1841.9,549.2 1842.2,550.3 1842.5,551.6 1842.8,551.5 1843.1,552.6 1843.4,551.3 1843.7,551.5 1844,548.7 1844.3,548.8 1844.6,551 1844.9,553 1845.2,552.3 1845.5,551.5 1845.8,551.8 1846.1,549.7 1846.4,550.7 1846.7,552.1 1847,552.4 1847.3,552 1847.6,551.1 1847.9,551.8 1848.2,549.5 1848.5,549.6 1848.8,550.8 1849.1,551.4 1849.4,551.3 1849.7,551 1850,551.2 1850.3,551.1 1850.6,550.2 1850.9,550.1 1851.2,548.5 1851.5,543.7 1851.8,542.3 1852.1,543.2 1852.4,542.6 1852.7,543.3 1853,544.9 1853.3,546 1853.6,548.9 1853.9,547.2 1854.2,548.8 1854.5,551.8 1854.8,552 1855.1,549.9 1855.4,548.9 1855.7,549.3 1856,554.2 1856.3,551.8 1856.6,551 1856.9,551.3 1857.2,550.7 1857.5,552.7 1857.8,551.5 1858.1,553.5 1858.4,550.8 1858.7,550.5 1859,551 1859.3,551.7 1859.6,552.6 1859.9,552.5 1860.2,551.2 1860.5,553.4 1860.8,551.1 1861.1,553 1861.4,550.4 1861.7,551.8 1862,552.7 1862.3,554.4 1862.6,552.7 1862.9,551.5 1863.2,554.9 1863.5,552.2 1863.8,550.6 1864.1,552.1 1864.4,553.6 1864.7,551 1865,553.4 1865.3,551.9 1865.6,551.5 1865.9,551.5 1866.2,550.2 1866.5,552 1866.8,552.9 1867.1,550.1 1867.4,552.6 1867.7,553.9 1868,554.4 1868.3,553.1 1868.6,552.3 1868.9,553.2 1869.2,551.3 1869.5,550.8 1869.8,552.8 1870.1,550.2 1870.4,552 1870.7,551.8 1871,553.8 1871.3,552 1871.6,552.3 1871.9,552.1 1872.2,551.9 1872.5,552.3 1872.8,551.6 1873.1,554.1 1873.4,552.1 1873.7,554 1874,552.3 1874.3,550.8 1874.6,554 1874.9,554.3 1875.2,554.7 1875.5,553.6 1875.8,551.4 1876.1,553.2 1876.4,551.2 1876.7,552.3 1877,550.9 1877.3,553.5 1877.6,555.1 1877.9,552.2 1878.2,554.5 1878.5,551.4 1878.8,553.6 1879.1,553.7 1879.4,550.9 1879.7,554.8 1880,554.2 1880.3,553.8 1880.6,551.7 1880.9,553.3 1881.2,550.5 1881.5,551.5 1881.8,552.4 1882.1,553.9 1882.4,552.8 1882.7,550.5 1883,552.9 1883.3,551.4 1883.6,550.8 1883.9,551.4 1884.2,553.8 1884.5,550.6 1884.8,551 1885.1,552.7 1885.4,553.3 1885.7,552.5 1886,553.2 1886.3,551.2 1886.6,553.2 1886.9,554.9 1887.2,550.8 1887.5,553.7 1887.8,551.9 1888.1,550.8 1888.4,553.9 1888.7,552.9 1889,552.4 1889.3,553.4 1889.6,551.8 1889.9,553.6 1890.2,552.6 1890.5,550.4 1890.8,553.6 1891.1,551.2 1891.4,554 1891.7,552.4 1892,554.5 1892.3,553.6 1892.6,553.1 1892.9,554.3 1893.2,550.7 1893.5,551.9 1893.8,554.1 1894.1,551.2 1894.4,554.4 1894.7,554.5 1895,554.6 1895.3,551.6 1895.6,552.2 1895.9,553.2 1896.2,551.1 1896.5,552.8 1896.8,554.6 1897.1,554.1 1897.4,554.8 1897.7,551.4 1898,551.8 1898.3,555.1 1898.6,553.9 1898.9,552.2 1899.2,552.2 1899.5,551.7 1899.8,554.6 1900.1,550.5 1900.4,551.4 1900.7,552.7 1901,555.5 1901.3,551.6 1901.6,552.7 1901.9,550.9 1902.2,553.1 1902.5,552 1902.8,554.6 1903.1,552.6 1903.4,553.1 1903.7,553.2 1904,553.5 1904.3,553.7 1904.6,552.5 1904.9,550.4 1905.2,551.6 1905.5,552.2 1905.8,551.1 1906.1,552.3 1906.4,552.1 1906.7,551 1907,551.2 1907.3,553.6 1907.6,552.3 1907.9,555 1908.2,554.1 1908.5,553.1 1908.8,552.6 1909.1,552.9 1909.4,551.7 1909.7,552.4 1910,551.9 1910.3,551.5 1910.6,553.5 1910.9,554.7 1911.2,552.2 1911.5,552.1 1911.8,551.4 1912.1,554.8 1912.4,554.6 1912.7,554.5 1913,552.5 1913.3,554.4 1913.6,552.9 1913.9,555.1 1914.2,551.3 1914.5,552.4 1914.8,550.8 1915.1,552.2 1915.4,554.7 1915.7,553.2 1916,554 1916.3,550.9 1916.6,551.8 1916.9,552.9 1917.2,551.6 1917.5,553.3 1917.8,554.6 1918.1,554.1 1918.4,554.5 1918.7,553.1 1919,552.4 1919.3,553.3 1919.6,555.8 1919.9,552 1920.2,553.6 1920.5,553.7 1920.8,553.5 1921.1,553.8 1921.4,553.4 1921.7,552.2 1922,553.7 1922.3,555 1922.6,552.4 1922.9,553.2 1923.2,553.9 1923.5,552.3 1923.8,554.7 1924.1,553.1 1924.4,553.7 1924.7,555.1 1925,555.1 1925.3,552.8 1925.6,553 1925.9,554.3 1926.2,551.4 1926.5,552.8 1926.8,554.5 1927.1,554.8 1927.4,551.3 1927.7,554.5 1928,552.4 1928.3,552.6 1928.6,553 1928.9,552.8 1929.2,553.5 1929.5,551.4 1929.8,555.7 1930.1,555.8 1930.4,550.7 1930.7,555.5 1931,552.8 1931.3,551.2 1931.6,551.5 1931.9,552.4 1932.2,553.1 1932.5,553.7 1932.8,551.5 1933.1,555.1 1933.4,552.9 1933.7,551.5 1934,555.4 1934.3,553.9 1934.6,553.9 1934.9,554.9 1935.2,552.6 1935.5,552.2 1935.8,554.3 1936.1,551.9 1936.4,551.1 1936.7,549.9 1937,550.4 1937.3,547.4 1937.6,545.2 1937.9,542.4 1938.2,538.2 1938.5,537.9 1938.8,538.2 1939.1,540.7 1939.4,543.7 1939.7,547.9 1940,549.3 1940.3,550.1 1940.6,552 1940.9,552.1 1941.2,554.8 1941.5,553.3 1941.8,553.7 1942.1,552.8 1942.4,554.9 1942.7,555.1 1943,552.6 1943.3,553 1943.6,554.4 1943.9,555.1 1944.2,552.2 1944.5,554.6 1944.8,555.1 1945.1,552.2 1945.4,552.6 1945.7,552.8 1946,555.6 1946.3,552.6 1946.6,553.6 1946.9,552.9 1947.2,552.4 1947.5,554.4 1947.8,552.3 1948.1,555.6 1948.4,554.6 1948.7,554.9 1949,551.8 1949.3,554 1949.6,554.7 1949.9,553.8 1950.2,553.3 1950.5,552.6 1950.8,554.1 1951.1,554.6 1951.4,553.3 1951.7,553.7 1952,553.2 1952.3,554.8 1952.6,555.3 1952.9,554.2 1953.2,556.3 1953.5,554.9 1953.8,555.9 1954.1,555.1 1954.4,553 1954.7,552.5 1955,555.3 1955.3,554.1 1955.6,553.3 1955.9,553.6 1956.2,552.4 1956.5,553.6 1956.8,551.6 1957.1,553.2 1957.4,553.4 1957.7,554.7 1958,553.7 1958.3,552.5 1958.6,556.3 1958.9,555 1959.2,553.9 1959.5,556 1959.8,555 1960.1,552.1 1960.4,555.3 1960.7,554.1 1961,554.4 1961.3,554.2 1961.6,555.4 1961.9,556.5 1962.2,556.5 1962.5,555.1 1962.8,556.7 1963.1,553.1 1963.4,553.1 1963.7,555.4 1964,553.6 1964.3,555.6 1964.6,553.6 1964.9,554.9 1965.2,553 1965.5,554.4 1965.8,555.3 1966.1,554.1 1966.4,555.1 1966.7,553 1967,554.2 1967.3,552.5 1967.6,552.7 1967.9,555.6 1968.2,556.9 1968.5,555.5 1968.8,553.9 1969.1,554.8 1969.4,556 1969.7,554.7 1970,554.2 1970.3,554.3 1970.6,556.3 1970.9,554.2 1971.2,553.3 1971.5,556.8 1971.8,556.1 1972.1,556 1972.4,553.9 1972.7,554.7 1973,556 1973.3,555.8 1973.6,556 1973.9,553.9 1974.2,552.5 1974.5,553.2 1974.8,556.6 1975.1,556.5 1975.4,555.8 1975.7,555.7 1976,555.9 1976.3,556.1 1976.6,552.4 1976.9,555.9 1977.2,553.2 1977.5,556.5 1977.8,556.5 1978.1,556.5 1978.4,555.5 1978.7,554.5 1979,553.3 1979.3,556.6 1979.6,555.3 1979.9,556.9 1980.2,554.9 1980.5,552.9 1980.8,554.3" fill="none" stroke="#1eb2ff" stroke-width="2.2"/>
<polyline points="1448.3,676.5 1448.6,683.7 1448.9,679.2 1449.2,683 1449.5,687.7 1449.8,687.4 1450.1,678.3 1450.4,684.2 1450.7,679.1 1451,681.2 1451.3,678 1451.6,676.8 1451.9,683 1452.2,678.7 1452.5,674.4 1452.8,677.3 1453.1,686.2 1453.4,687.2 1453.7,676.8 1454,681.7 1454.3,683 1454.6,684.8 1454.9,682 1455.2,678.4 1455.5,679.9 1455.8,684.1 1456.1,683.4 1456.4,679.9 1456.7,677.7 1457,679.2 1457.3,680.6 1457.6,680.7 1457.9,680.4 1458.2,678.3 1458.5,681.4 1458.8,679.6 1459.1,684.4 1459.4,676.1 1459.7,674.9 1460,683.8 1460.3,673.8 1460.6,674 1460.9,679.8 1461.2,680.1 1461.5,680 1461.8,678.4 1462.1,682.4 1462.4,675.7 1462.7,678.6 1463,679.5 1463.3,682.2 1463.6,673.9 1463.9,675.6 1464.2,677.8 1464.5,681.6 1464.8,674.7 1465.1,673.4 1465.4,680.6 1465.7,675.1 1466,680.7 1466.3,678.7 1466.6,674.8 1466.9,684 1467.2,672.5 1467.5,676.1 1467.8,674.2 1468.1,682.4 1468.4,678.9 1468.7,673.8 1469,680 1469.3,672.8 1469.6,674.6 1469.9,671.4 1470.2,679.8 1470.5,673.9 1470.8,669.8 1471.1,675.8 1471.4,675.5 1471.7,678.1 1472,677.2 1472.3,672.9 1472.6,678.9 1472.9,674.8 1473.2,674.6 1473.5,675.6 1473.8,678.5 1474.1,675.5 1474.4,668.7 1474.7,676.5 1475,675.4 1475.3,675 1475.6,669.8 1475.9,678.3 1476.2,669.7 1476.5,669.3 1476.8,677.9 1477.1,674.3 1477.4,677.8 1477.7,676.1 1478,672 1478.3,670.4 1478.6,666.9 1478.9,669.4 1479.2,668.4 1479.5,676.5 1479.8,666.7 1480.1,676.3 1480.4,675.5 1480.7,667.1 1481,677.2 1481.3,672 1481.6,673.7 1481.9,669.8 1482.2,669.9 1482.5,666.2 1482.8,671.6 1483.1,674.3 1483.4,666.3 1483.7,673.7 1484,674.7 1484.3,666 1484.6,674.2 1484.9,671.2 1485.2,676 1485.5,673.7 1485.8,673.7 1486.1,672 1486.4,665.1 1486.7,666.3 1487,668.8 1487.3,665.7 1487.6,671.4 1487.9,670 1488.2,673 1488.5,665.5 1488.8,667 1489.1,666.9 1489.4,670.3 1489.7,674.3 1490,669.7 1490.3,672.6 1490.6,665.7 1490.9,667.2 1491.2,663.9 1491.5,667 1491.8,669.1 1492.1,664.3 1492.4,666.7 1492.7,662.2 1493,670.2 1493.3,662.1 1493.6,663.4 1493.9,661.6 1494.2,668.9 1494.5,663.6 1494.8,661.1 1495.1,660.9 1495.4,666.5 1495.7,659.7 1496,669.7 1496.3,663.2 1496.6,660.8 1496.9,668.2 1497.2,669 1497.5,666.6 1497.8,659.3 1498.1,663.3 1498.4,660.1 1498.7,665 1499,667.1 1499.3,667.5 1499.6,669.5 1499.9,658.1 1500.2,669 1500.5,657.1 1500.8,664.8 1501.1,663.8 1501.4,665.8 1501.7,665 1502,662.4 1502.3,659.4 1502.6,656.3 1502.9,663 1503.2,662.9 1503.5,662.7 1503.8,664.3 1504.1,662.1 1504.4,656.8 1504.7,659.3 1505,658.1 1505.3,657.1 1505.6,657 1505.9,665.1 1506.2,656.9 1506.5,661.1 1506.8,653.8 1507.1,662.1 1507.4,657.9 1507.7,658.9 1508,655.8 1508.3,653.9 1508.6,658.2 1508.9,661.5 1509.2,655.1 1509.5,659.4 1509.8,659.6 1510.1,660.4 1510.4,658.3 1510.7,653.5 1511,660.8 1511.3,659.4 1511.6,656 1511.9,657 1512.2,661.8 1512.5,652 1512.8,657.5 1513.1,660 1513.4,662.3 1513.7,652.3 1514,654.3 1514.3,659.3 1514.6,657.8 1514.9,652.1 1515.2,656.8 1515.5,656 1515.8,650.9 1516.1,650.3 1516.4,658.8 1516.7,655.4 1517,655.3 1517.3,655.8 1517.6,650.1 1517.9,650.3 1518.2,659.6 1518.5,652 1518.8,655.1 1519.1,657.8 1519.4,651.5 1519.7,649.8 1520,649.3 1520.3,656.2 1520.6,650.4 1520.9,647.8 1521.2,650.5 1521.5,648.5 1521.8,647.8 1522.1,650.4 1522.4,656.5 1522.7,649.8 1523,655.1 1523.3,650.8 1523.6,656 1523.9,653.6 1524.2,649.1 1524.5,646 1524.8,654.6 1525.1,654.4 1525.4,654.3 1525.7,654.9 1526,647.7 1526.3,650 1526.6,654.6 1526.9,652.9 1527.2,648 1527.5,655.2 1527.8,655.3 1528.1,648.2 1528.4,654.6 1528.7,652.8 1529,650.9 1529.3,649.3 1529.6,647.1 1529.9,650.8 1530.2,654.6 1530.5,649.8 1530.8,656.9 1531.1,648.5 1531.4,655.3 1531.7,652.6 1532,651.5 1532.3,654.5 1532.6,656.8 1532.9,656.4 1533.2,653.3 1533.5,649.3 1533.8,645.8 1534.1,650.2 1534.4,655.1 1534.7,656.1 1535,657.8 1535.3,648.3 1535.6,653.1 1535.9,653.6 1536.2,657.3 1536.5,654.6 1536.8,657.6 1537.1,660.3 1537.4,655.3 1537.7,650.5 1538,657.5 1538.3,653 1538.6,654.3 1538.9,655.1 1539.2,657.8 1539.5,652.4 1539.8,661 1540.1,650.7 1540.4,659.9 1540.7,651.9 1541,659.6 1541.3,654.6 1541.6,654.6 1541.9,655.4 1542.2,656.8 1542.5,651.6 1542.8,659.2 1543.1,658 1543.4,659.4 1543.7,653.9 1544,656.8 1544.3,654.3 1544.6,657.2 1544.9,658.8 1545.2,656.5 1545.5,660.5 1545.8,655.9 1546.1,653.2 1546.4,659.5 1546.7,660.8 1547,652.2 1547.3,656.6 1547.6,654 1547.9,653.5 1548.2,652.3 1548.5,646.1 1548.8,642.6 1549.1,640.3 1549.4,639.2 1549.7,638.9 1550,641.2 1550.3,644.2 1550.6,647.1 1550.9,650.7 1551.2,650.7 1551.5,655.6 1551.8,662.3 1552.1,655.5 1552.4,657.3 1552.7,659.5 1553,659.3 1553.3,660.4 1553.6,663.9 1553.9,659.8 1554.2,665.1 1554.5,659 1554.8,664.9 1555.1,662.6 1555.4,661 1555.7,659 1556,658.7 1556.3,670 1556.6,664.7 1556.9,660.5 1557.2,664.2 1557.5,668.7 1557.8,659.8 1558.1,664.1 1558.4,665.5 1558.7,661.8 1559,670.6 1559.3,668 1559.6,667.6 1559.9,662.3 1560.2,663.7 1560.5,661.7 1560.8,666.6 1561.1,662.2 1561.4,663.6 1561.7,667.1 1562,663.6 1562.3,662.7 1562.6,668.3 1562.9,668.4 1563.2,663.3 1563.5,664.2 1563.8,662.6 1564.1,666.5 1564.4,669.8 1564.7,671.7 1565,670.9 1565.3,663.4 1565.6,664.4 1565.9,662.2 1566.2,671.9 1566.5,666.9 1566.8,669.5 1567.1,664.3 1567.4,662.8 1567.7,663.6 1568,666.9 1568.3,667.4 1568.6,664 1568.9,671.7 1569.2,670.9 1569.5,665.4 1569.8,667.8 1570.1,672.4 1570.4,666.1 1570.7,665 1571,667.8 1571.3,668.4 1571.6,665.5 1571.9,669.9 1572.2,668.9 1572.5,670.2 1572.8,671.2 1573.1,670.9 1573.4,669.5 1573.7,669.2 1574,674.4 1574.3,668.4 1574.6,668.1 1574.9,671.3 1575.2,673.8 1575.5,671.3 1575.8,673.9 1576.1,676.3 1576.4,668.5 1576.7,670.4 1577,677.1 1577.3,674.8 1577.6,668.2 1577.9,671.7 1578.2,675.6 1578.5,668 1578.8,668.3 1579.1,673.2 1579.4,671 1579.7,673.4 1580,669.3 1580.3,675.8 1580.6,671.3 1580.9,675.9 1581.2,675.7 1581.5,670.6 1581.8,670.3 1582.1,669.9 1582.4,667.1 1582.7,667.6 1583,674.4 1583.3,672.9 1583.6,673.7 1583.9,669.5 1584.2,676 1584.5,669.7 1584.8,676.1 1585.1,671.8 1585.4,676.4 1585.7,673.7 1586,670.6 1586.3,678.8 1586.6,679.5 1586.9,675.9 1587.2,675.1 1587.5,676.5 1587.8,675.5 1588.1,677.5 1588.4,677.2 1588.7,678.6 1589,670.1 1589.3,674.5 1589.6,670.5 1589.9,673 1590.2,676.8 1590.5,678.7 1590.8,673.2 1591.1,669.6 1591.4,674.6 1591.7,674.3 1592,673 1592.3,676.5 1592.6,678.9 1592.9,673.2 1593.2,672.6 1593.5,673.3 1593.8,672.2 1594.1,675.2 1594.4,670.3 1594.7,673.5 1595,676.9 1595.3,672.3 1595.6,669.9 1595.9,672.3 1596.2,673.3 1596.5,669.8 1596.8,670.4 1597.1,666.6 1597.4,661.4 1597.7,654.7 1598,649.2 1598.3,641.7 1598.6,631.1 1598.9,616.9 1599.2,601.2 1599.5,589.3 1599.8,579.7 1600.1,576.2 1600.4,580.6 1600.7,589.2 1601,604.2 1601.3,618.1 1601.6,629.9 1601.9,643.9 1602.2,650.3 1602.5,661.4 1602.8,662.2 1603.1,668.9 1603.4,670.4 1603.7,670.6 1604,672.4 1604.3,676.8 1604.6,679 1604.9,676.3 1605.2,681.5 1605.5,681.6 1605.8,680.2 1606.1,683.9 1606.4,682.2 1606.7,680 1607,685.2 1607.3,680.2 1607.6,685.5 1607.9,684.8 1608.2,680 1608.5,679.9 1608.8,687.7 1609.1,681.1 1609.4,682.4 1609.7,684.3 1610,681.8 1610.3,684.9 1610.6,679.4 1610.9,685.9 1611.2,687.1 1611.5,685.2 1611.8,683.4 1612.1,680.3 1612.4,687.1 1612.7,687.7 1613,686.1 1613.3,684.2 1613.6,685.8 1613.9,686.6 1614.2,683.7 1614.5,683.5 1614.8,685.9 1615.1,683.3 1615.4,682.5 1615.7,686.6 1616,687.7 1616.3,686.1 1616.6,690.2 1616.9,686.6 1617.2,687.5 1617.5,686.6 1617.8,684.8 1618.1,683.1 1618.4,682.9 1618.7,684.6 1619,685.9 1619.3,686.8 1619.6,682.3 1619.9,681.6 1620.2,683.7 1620.5,687 1620.8,684 1621.1,682.3 1621.4,677.7 1621.7,673.7 1622,672.5 1622.3,672.9 1622.6,676.4 1622.9,680.2 1623.2,680.5 1623.5,683.5 1623.8,687.2 1624.1,689.5 1624.4,684.8 1624.7,688.1 1625,691.6 1625.3,688.7 1625.6,691.2 1625.9,683.3 1626.2,690.6 1626.5,684.5 1626.8,691.2 1627.1,688.7 1627.4,691.2 1627.7,688.1 1628,686.3 1628.3,688.9 1628.6,684.1 1628.9,685.9 1629.2,684.3 1629.5,683.6 1629.8,678.5 1630.1,674.9 1630.4,670.2 1630.7,662.2 1631,653.2 1631.3,645 1631.6,637.6 1631.9,633.8 1632.2,633.5 1632.5,639.8 1632.8,649.5 1633.1,654.9 1633.4,665.5 1633.7,669.5 1634,676.8 1634.3,680.7 1634.6,683.6 1634.9,680.7 1635.2,684.4 1635.5,682.6 1635.8,686.6 1636.1,685.2 1636.4,680.4 1636.7,677 1637,670.9 1637.3,666.5 1637.6,661.8 1637.9,659.7 1638.2,659.6 1638.5,662.7 1638.8,666.5 1639.1,671.9 1639.4,676.5 1639.7,676.3 1640,676.2 1640.3,676.2 1640.6,674.1 1640.9,667.3 1641.2,659.1 1641.5,651.2 1641.8,639.9 1642.1,627.6 1642.4,619.3 1642.7,614.5 1643,614.5 1643.3,622.3 1643.6,633.2 1643.9,645.4 1644.2,653.9 1644.5,665.8 1644.8,673.2 1645.1,679 1645.4,680 1645.7,683.5 1646,685.4 1646.3,687.4 1646.6,688.5 1646.9,690.1 1647.2,691 1647.5,693.2 1647.8,692.4 1648.1,692.8 1648.4,693.4 1648.7,691.2 1649,689.6 1649.3,695 1649.6,691.9 1649.9,693.8 1650.2,694.8 1650.5,692.8 1650.8,694.8 1651.1,697.1 1651.4,692.7 1651.7,695.3 1652,694.5 1652.3,694.4 1652.6,691.3 1652.9,693.9 1653.2,695.2 1653.5,696.2 1653.8,695.8 1654.1,695 1654.4,696.2 1654.7,696 1655,696 1655.3,692.3 1655.6,693.6 1655.9,695.7 1656.2,696.9 1656.5,697.1 1656.8,693 1657.1,697.6 1657.4,695.6 1657.7,695.2 1658,698 1658.3,696 1658.6,692.2 1658.9,691.6 1659.2,691.8 1659.5,696.9 1659.8,691 1660.1,694.1 1660.4,694.5 1660.7,693.9 1661,694.7 1661.3,692.2 1661.6,689.2 1661.9,688 1662.2,683.9 1662.5,679.8 1662.8,678.1 1663.1,677.1 1663.4,675.4 1663.7,677.8 1664,682 1664.3,685.1 1664.6,689.2 1664.9,688.7 1665.2,690.3 1665.5,692.4 1665.8,692.4 1666.1,692.6 1666.4,694.2 1666.7,697.7 1667,692.1 1667.3,695.8 1667.6,697.8 1667.9,694.2 1668.2,697.9 1668.5,697.9 1668.8,697.2 1669.1,694.5 1669.4,698.3 1669.7,697.9 1670,698.1 1670.3,695.4 1670.6,696 1670.9,696.4 1671.2,699.1 1671.5,695 1671.8,699.2 1672.1,695.3 1672.4,695.8 1672.7,697.2 1673,695.3 1673.3,695.1 1673.6,695 1673.9,698.8 1674.2,695.1 1674.5,694.8 1674.8,698.6 1675.1,693.6 1675.4,696.6 1675.7,695.3 1676,695.1 1676.3,693.3 1676.6,697.8 1676.9,693.9 1677.2,698.1 1677.5,696.7 1677.8,697.4 1678.1,697.5 1678.4,691 1678.7,695.5 1679,692 1679.3,689.9 1679.6,685.5 1679.9,685 1680.2,684.3 1680.5,686.4 1680.8,687.5 1681.1,689.5 1681.4,691.4 1681.7,693.7 1682,696.2 1682.3,697.6 1682.6,698 1682.9,694 1683.2,693.1 1683.5,694.8 1683.8,696.9 1684.1,697.5 1684.4,694.7 1684.7,696.4 1685,694.8 1685.3,696.5 1685.6,693.3 1685.9,692.2 1686.2,692 1686.5,691.4 1686.8,688.6 1687.1,689 1687.4,684.7 1687.7,680.5 1688,676.9 1688.3,672.8 1688.6,671.6 1688.9,670.2 1689.2,674.1 1689.5,677.7 1689.8,682 1690.1,683.7 1690.4,686.8 1690.7,691.4 1691,693.7 1691.3,695 1691.6,694.8 1691.9,695.1 1692.2,697 1692.5,698.4 1692.8,693.3 1693.1,697.6 1693.4,697 1693.7,699 1694,696 1694.3,698.8 1694.6,699.5 1694.9,694.5 1695.2,694.4 1695.5,697 1695.8,696.8 1696.1,696.5 1696.4,697.2 1696.7,697.4 1697,699.9 1697.3,696.5 1697.6,697.5 1697.9,699.6 1698.2,700.4 1698.5,696.4 1698.8,699.8 1699.1,697.6 1699.4,700.1 1699.7,700.3 1700,700.1 1700.3,699.6 1700.6,700.6 1700.9,696.5 1701.2,698.9 1701.5,699.3 1701.8,698 1702.1,695.2 1702.4,696.4 1702.7,696.5 1703,697.7 1703.3,695.9 1703.6,698.9 1703.9,698.9 1704.2,699 1704.5,698 1704.8,697.4 1705.1,698.5 1705.4,698.5 1705.7,698.9 1706,698.8 1706.3,699.2 1706.6,697 1706.9,695.9 1707.2,699.8 1707.5,696.6 1707.8,698.2 1708.1,696.5 1708.4,698.2 1708.7,697.7 1709,695.3 1709.3,695.5 1709.6,697.3 1709.9,695.3 1710.2,695.1 1710.5,693.6 1710.8,692.7 1711.1,693.6 1711.4,693.2 1711.7,692.1 1712,689.5 1712.3,687.6 1712.6,688.5 1712.9,688.7 1713.2,690.3 1713.5,690.2 1713.8,691.4 1714.1,688.4 1714.4,687.8 1714.7,690.6 1715,686.4 1715.3,688.5 1715.6,688.3 1715.9,688.1 1716.2,692.6 1716.5,694.2 1716.8,692.7 1717.1,693.2 1717.4,694.7 1717.7,696.1 1718,696.7 1718.3,698.3 1718.6,700.9 1718.9,694.9 1719.2,700.1 1719.5,699.9 1719.8,697.5 1720.1,698.2 1720.4,697.3 1720.7,697.1 1721,701.3 1721.3,700.3 1721.6,698 1721.9,700.7 1722.2,700.5 1722.5,701.3 1722.8,700.4 1723.1,697.2 1723.4,699.4 1723.7,698.3 1724,699.3 1724.3,696.8 1724.6,700.8 1724.9,698.8 1725.2,701.3 1725.5,698.7 1725.8,700.7 1726.1,697.5 1726.4,700.1 1726.7,699 1727,698.6 1727.3,698.7 1727.6,700.8 1727.9,698.4 1728.2,701.6 1728.5,697 1728.8,701.1 1729.1,699.8 1729.4,696.2 1729.7,698.1 1730,698.4 1730.3,699.2 1730.6,700 1730.9,701.1 1731.2,697.5 1731.5,700.9 1731.8,697.6 1732.1,702 1732.4,698.8 1732.7,697.3 1733,696.1 1733.3,702.6 1733.6,697.4 1733.9,700.5 1734.2,697.9 1734.5,701.1 1734.8,696.5 1735.1,700.1 1735.4,697.1 1735.7,700.9 1736,700.2 1736.3,700.5 1736.6,698 1736.9,701.1 1737.2,699.5 1737.5,701.2 1737.8,698 1738.1,698.8 1738.4,701.5 1738.7,699.3 1739,697.9 1739.3,702.1 1739.6,701.8 1739.9,698.5 1740.2,702.1 1740.5,697.3 1740.8,701.6 1741.1,696.7 1741.4,699.6 1741.7,698.6 1742,697.6 1742.3,700.7 1742.6,699.9 1742.9,696.4 1743.2,701.7 1743.5,699.1 1743.8,698.4 1744.1,699.8 1744.4,698.5 1744.7,697.3 1745,697 1745.3,694.9 1745.6,694.8 1745.9,692.8 1746.2,691.4 1746.5,690.4 1746.8,694.3 1747.1,692.2 1747.4,696.6 1747.7,697.6 1748,698.1 1748.3,697.6 1748.6,700.9 1748.9,701 1749.2,698.8 1749.5,697.1 1749.8,700.8 1750.1,700.5 1750.4,697.6 1750.7,698.5 1751,698.3 1751.3,698 1751.6,697.8 1751.9,698.1 1752.2,695.3 1752.5,695.4 1752.8,698.1 1753.1,695.3 1753.4,696.9 1753.7,695.6 1754,696.7 1754.3,695.3 1754.6,694.6 1754.9,696.3 1755.2,694 1755.5,691.8 1755.8,690.6 1756.1,686.3 1756.4,682.8 1756.7,679.6 1757,671.7 1757.3,663.8 1757.6,654.6 1757.9,643.7 1758.2,632.7 1758.5,623.7 1758.8,620.1 1759.1,619.9 1759.4,627.4 1759.7,636.5 1760,646.4 1760.3,657.3 1760.6,666 1760.9,675.5 1761.2,680.7 1761.5,683.6 1761.8,687.6 1762.1,691.3 1762.4,691.1 1762.7,694.3 1763,696.6 1763.3,695 1763.6,693.5 1763.9,695.2 1764.2,695.8 1764.5,696.5 1764.8,698.4 1765.1,697.4 1765.4,698.6 1765.7,698.7 1766,696.4 1766.3,697.2 1766.6,698.9 1766.9,697.2 1767.2,696.5 1767.5,700.7 1767.8,696.7 1768.1,700 1768.4,697 1768.7,699.7 1769,700.4 1769.3,700.5 1769.6,699.7 1769.9,699.8 1770.2,699.1 1770.5,698.1 1770.8,697.8 1771.1,697.6 1771.4,700.8 1771.7,697.3 1772,702.1 1772.3,696.7 1772.6,697.1 1772.9,698 1773.2,699.6 1773.5,698.6 1773.8,697.9 1774.1,702.4 1774.4,700.4 1774.7,698.4 1775,700.9 1775.3,701.1 1775.6,702 1775.9,702 1776.2,699.2 1776.5,699.6 1776.8,701.9 1777.1,697.3 1777.4,699.7 1777.7,701.8 1778,700 1778.3,700.8 1778.6,700.8 1778.9,701.6 1779.2,699.7 1779.5,699.5 1779.8,699.8 1780.1,701.5 1780.4,701.2 1780.7,701.5 1781,698.5 1781.3,699.5 1781.6,700.9 1781.9,698.2 1782.2,701.9 1782.5,702.6 1782.8,699.1 1783.1,697.8 1783.4,700.1 1783.7,699.6 1784,699.7 1784.3,702.3 1784.6,698.9 1784.9,699.1 1785.2,701.8 1785.5,702.5 1785.8,700.5 1786.1,700.8 1786.4,700.1 1786.7,697 1787,701.5 1787.3,699.3 1787.6,698.3 1787.9,700.3 1788.2,700 1788.5,700.5 1788.8,697.3 1789.1,697.8 1789.4,699.3 1789.7,698 1790,697.6 1790.3,697.4 1790.6,698.3 1790.9,696.5 1791.2,698.2 1791.5,696.3 1791.8,695.5 1792.1,692.8 1792.4,693.5 1792.7,689.4 1793,688.8 1793.3,687.2 1793.6,686.5 1793.9,686.9 1794.2,687.5 1794.5,687.5 1794.8,688.9 1795.1,691.5 1795.4,693.9 1795.7,695.6 1796,695.6 1796.3,696.1 1796.6,695.6 1796.9,695.7 1797.2,699.2 1797.5,699.5 1797.8,700.5 1798.1,701.5 1798.4,700 1798.7,700.3 1799,699.1 1799.3,700.3 1799.6,699.4 1799.9,699.6 1800.2,699 1800.5,701.3 1800.8,698.3 1801.1,701.6 1801.4,700.9 1801.7,698.1 1802,699.4 1802.3,697.9 1802.6,699.9 1802.9,698.7 1803.2,698.8 1803.5,699.9 1803.8,697.5 1804.1,699.1 1804.4,698.8 1804.7,699.6 1805,700.6 1805.3,698.6 1805.6,697 1805.9,697.9 1806.2,697.4 1806.5,697.9 1806.8,695.7 1807.1,695.1 1807.4,695 1807.7,696.2 1808,696.3 1808.3,697.6 1808.6,696.8 1808.9,698.2 1809.2,697.9 1809.5,698.7 1809.8,696.8 1810.1,697.4 1810.4,701 1810.7,700.5 1811,698.9 1811.3,699.7 1811.6,700.6 1811.9,701.8 1812.2,699 1812.5,698.6 1812.8,701.2 1813.1,702.3 1813.4,699.1 1813.7,699 1814,698.8 1814.3,699.9 1814.6,700.6 1814.9,701.2 1815.2,701.1 1815.5,698.3 1815.8,699.1 1816.1,698.9 1816.4,701.2 1816.7,700.5 1817,700.4 1817.3,700.2 1817.6,702.9 1817.9,700.5 1818.2,698.5 1818.5,700 1818.8,698.4 1819.1,697.9 1819.4,699.1 1819.7,701.2 1820,701.7 1820.3,700.5 1820.6,699.9 1820.9,698.4 1821.2,701.7 1821.5,699.2 1821.8,700.7 1822.1,698.7 1822.4,700.2 1822.7,700.7 1823,699.6 1823.3,700.7 1823.6,699.7 1823.9,698.2 1824.2,701.2 1824.5,697.6 1824.8,699.2 1825.1,697.4 1825.4,700.8 1825.7,700 1826,698.5 1826.3,702 1826.6,699.3 1826.9,695.4 1827.2,697.7 1827.5,699.9 1827.8,697.9 1828.1,698.1 1828.4,698.3 1828.7,695.8 1829,695.7 1829.3,695.2 1829.6,692.9 1829.9,691.2 1830.2,688.9 1830.5,682 1830.8,679 1831.1,672.2 1831.4,665.3 1831.7,660.2 1832,654.5 1832.3,651.9 1832.6,652 1832.9,655.7 1833.2,660.6 1833.5,668.1 1833.8,673.7 1834.1,678.7 1834.4,683.6 1834.7,688.9 1835,692.9 1835.3,695 1835.6,696.4 1835.9,697.1 1836.2,696.3 1836.5,697.3 1836.8,697.7 1837.1,696 1837.4,698.8 1837.7,697.8 1838,698 1838.3,698 1838.6,699.8 1838.9,698.5 1839.2,698.9 1839.5,699.8 1839.8,700.8 1840.1,699.1 1840.4,700.7 1840.7,700.8 1841,699 1841.3,700 1841.6,702.9 1841.9,703.3 1842.2,700.4 1842.5,702.9 1842.8,699 1843.1,702.4 1843.4,699.4 1843.7,698.4 1844,702 1844.3,703.3 1844.6,698.9 1844.9,701.9 1845.2,700 1845.5,701.9 1845.8,702.3 1846.1,702.5 1846.4,699.4 1846.7,703.4 1847,699.6 1847.3,700 1847.6,700.3 1847.9,701.3 1848.2,699.1 1848.5,698.9 1848.8,703.1 1849.1,702.3 1849.4,699.1 1849.7,698.7 1850,699.3 1850.3,701.3 1850.6,699.1 1850.9,702 1851.2,701.8 1851.5,699.5 1851.8,702.2 1852.1,698.3 1852.4,701.3 1852.7,701.1 1853,698.4 1853.3,700.3 1853.6,697.7 1853.9,698.3 1854.2,696.6 1854.5,698.4 1854.8,693.8 1855.1,694 1855.4,696.1 1855.7,693.3 1856,696.9 1856.3,699.3 1856.6,697.1 1856.9,697.8 1857.2,700.7 1857.5,700.6 1857.8,700.7 1858.1,699.4 1858.4,699.5 1858.7,701.9 1859,699.6 1859.3,703.3 1859.6,702 1859.9,702.4 1860.2,699.8 1860.5,701.4 1860.8,701.8 1861.1,701.8 1861.4,701.7 1861.7,701.7 1862,701.5 1862.3,700.3 1862.6,703.7 1862.9,700.4 1863.2,701.2 1863.5,702.4 1863.8,698.5 1864.1,701.8 1864.4,701.2 1864.7,697 1865,700.5 1865.3,698.7 1865.6,698.8 1865.9,695.9 1866.2,695.9 1866.5,698.6 1866.8,698.1 1867.1,698.1 1867.4,699.9 1867.7,700.5 1868,702.2 1868.3,700.2 1868.6,702 1868.9,698.2 1869.2,699.9 1869.5,698.9 1869.8,702 1870.1,700.5 1870.4,701.3 1870.7,699.6 1871,699.5 1871.3,696.6 1871.6,699.4 1871.9,697.7 1872.2,696.8 1872.5,695.3 1872.8,695.2 1873.1,693.7 1873.4,696.6 1873.7,694.5 1874,697.9 1874.3,696 1874.6,697 1874.9,699.8 1875.2,702.3 1875.5,699 1875.8,698.8 1876.1,699.1 1876.4,701.7 1876.7,701.4 1877,700.2 1877.3,697.6 1877.6,699.2 1877.9,699.1 1878.2,696.8 1878.5,698.4 1878.8,696.4 1879.1,696.5 1879.4,695.2 1879.7,694.1 1880,696.7 1880.3,697.2 1880.6,695.1 1880.9,698.1 1881.2,695.6 1881.5,698.5 1881.8,699.6 1882.1,699.8 1882.4,697.4 1882.7,697.1 1883,696.9 1883.3,698.4 1883.6,695.1 1883.9,692.9 1884.2,694.2 1884.5,692.5 1884.8,692.5 1885.1,693.7 1885.4,695.6 1885.7,696.1 1886,696.1 1886.3,700.7 1886.6,700.7 1886.9,698.1 1887.2,701.1 1887.5,698.3 1887.8,698.9 1888.1,699.1 1888.4,701.1 1888.7,700.5 1889,698.8 1889.3,697.6 1889.6,698.2 1889.9,697.4 1890.2,696.5 1890.5,695.9 1890.8,695.2 1891.1,691.8 1891.4,692.6 1891.7,689.3 1892,689.8 1892.3,689 1892.6,689.9 1892.9,690.9 1893.2,692.1 1893.5,695.6 1893.8,695.4 1894.1,696.8 1894.4,697.1 1894.7,699.2 1895,698.9 1895.3,699.6 1895.6,698.5 1895.9,699.5 1896.2,699.8 1896.5,699.5 1896.8,702.5 1897.1,702 1897.4,700 1897.7,702.1 1898,701 1898.3,702.7 1898.6,699.4 1898.9,701.3 1899.2,700.9 1899.5,701.5 1899.8,703.6 1900.1,701.3 1900.4,701.1 1900.7,703.8 1901,701.3 1901.3,700.9 1901.6,701.1 1901.9,701 1902.2,698.9 1902.5,700.7 1902.8,698.9 1903.1,700.8 1903.4,696.6 1903.7,696.4 1904,696.2 1904.3,695.8 1904.6,696.9 1904.9,695.7 1905.2,695.4 1905.5,695 1905.8,696.2 1906.1,698.5 1906.4,696.3 1906.7,698.2 1907,698.2 1907.3,700.5 1907.6,698.1 1907.9,701.7 1908.2,701.3 1908.5,701.4 1908.8,699.1 1909.1,702.5 1909.4,699.9 1909.7,700.1 1910,702.1 1910.3,700.1 1910.6,700 1910.9,703.2 1911.2,703.9 1911.5,701.4 1911.8,701.6 1912.1,700 1912.4,700.5 1912.7,699.5 1913,701.1 1913.3,702.2 1913.6,700.7 1913.9,702.9 1914.2,702.2 1914.5,701 1914.8,702.8 1915.1,700.3 1915.4,702.8 1915.7,701.1 1916,703.7 1916.3,702 1916.6,701.9 1916.9,700.1 1917.2,701.4 1917.5,702.4 1917.8,702.3 1918.1,701.1 1918.4,704 1918.7,700.4 1919,701.7 1919.3,702.2 1919.6,701.5 1919.9,702.3 1920.2,703.2 1920.5,703.5 1920.8,699.9 1921.1,702.9 1921.4,701.2 1921.7,702.8 1922,702.6 1922.3,700.7 1922.6,701 1922.9,703.9 1923.2,701.9 1923.5,701.1 1923.8,697.7 1924.1,698.3 1924.4,696.6 1924.7,699 1925,698.1 1925.3,698 1925.6,698.9 1925.9,699.1 1926.2,700.3 1926.5,701.9 1926.8,700.6 1927.1,701.1 1927.4,701.9 1927.7,703.4 1928,698.8 1928.3,700.3 1928.6,700.9 1928.9,703.3 1929.2,703.5 1929.5,703.3 1929.8,703 1930.1,701.7 1930.4,700.7 1930.7,700.8 1931,701.7 1931.3,701 1931.6,700.7 1931.9,699.9 1932.2,700.2 1932.5,700.4 1932.8,702.4 1933.1,699.9 1933.4,702.1 1933.7,700.5 1934,701.8 1934.3,703.6 1934.6,703.4 1934.9,700 1935.2,699.8 1935.5,703.8 1935.8,700.1 1936.1,702.1 1936.4,701.9 1936.7,699.6 1937,700.1 1937.3,701.9 1937.6,700.5 1937.9,699.5 1938.2,701.6 1938.5,700.5 1938.8,700.5 1939.1,698.5 1939.4,697.7 1939.7,694.7 1940,693.9 1940.3,695.3 1940.6,691 1940.9,690.8 1941.2,690 1941.5,690.3 1941.8,689.4 1942.1,689.9 1942.4,692.2 1942.7,694 1943,695.7 1943.3,696.8 1943.6,699 1943.9,699.9 1944.2,699.7 1944.5,699.6 1944.8,700.4 1945.1,702.9 1945.4,702.7 1945.7,702.6 1946,701.4 1946.3,701.6 1946.6,703.9 1946.9,701.9 1947.2,701.2 1947.5,703.4 1947.8,702 1948.1,703.2 1948.4,700.9 1948.7,699.5 1949,699.5 1949.3,702.9 1949.6,701 1949.9,701.6 1950.2,701.4 1950.5,700.5 1950.8,703.4 1951.1,701.3 1951.4,700.6 1951.7,703.8 1952,700.4 1952.3,703.8 1952.6,702 1952.9,702.1 1953.2,702.5 1953.5,704.8 1953.8,702.2 1954.1,702.8 1954.4,700 1954.7,701.9 1955,703.5 1955.3,702.5 1955.6,704.4 1955.9,703.2 1956.2,702 1956.5,703.3 1956.8,704.9 1957.1,704.4 1957.4,703.7 1957.7,703.1 1958,702.5 1958.3,702.9 1958.6,703.4 1958.9,701 1959.2,701 1959.5,704.1 1959.8,702.6 1960.1,701.6 1960.4,702.1 1960.7,701.6 1961,703.4 1961.3,703.3 1961.6,704.7 1961.9,702.3 1962.2,704.9 1962.5,702.3 1962.8,701 1963.1,700.9 1963.4,703.8 1963.7,703.7 1964,703.7 1964.3,703.6 1964.6,701.7 1964.9,701.6 1965.2,703.7 1965.5,701.9 1965.8,703.9 1966.1,701.7 1966.4,701.9 1966.7,702.3 1967,701.6 1967.3,702.3 1967.6,703.6 1967.9,701.9 1968.2,700.6 1968.5,703.4 1968.8,703.1 1969.1,701.5 1969.4,702.9 1969.7,701.8 1970,700.5 1970.3,704.3 1970.6,700.5 1970.9,703.3 1971.2,701.5 1971.5,702.8 1971.8,702.3 1972.1,704.1 1972.4,704.5 1972.7,701.2 1973,701.5 1973.3,703.4 1973.6,703.9 1973.9,702.6 1974.2,702.6 1974.5,702.5 1974.8,703 1975.1,700.7 1975.4,704.5 1975.7,701.3 1976,702.3 1976.3,703.9 1976.6,701.3 1976.9,702.5 1977.2,703.2 1977.5,700.6 1977.8,701.8 1978.1,703.8 1978.4,702 1978.7,700.9 1979,703 1979.3,701.7 1979.6,703.4 1979.9,703.8 1980.2,703.1 1980.5,701.3 1980.8,704.2" fill="none" stroke="#4fd8ff" stroke-width="2.2"/>
</g>
<g stroke="#ea0a12" stroke-width="2.1" stroke-linecap="round"><path d="M1547.9 815.9V780.6"/><path d="M1566.3 815.9V807.5"/><path d="M1620.8 815.9V805.9"/><path d="M1630.4 815.9V782.9"/><path d="M1641.2 815.9V774.2"/><path d="M1661.6 815.9V803.6"/><path d="M1679.1 815.9V807.5"/><path d="M1686.9 815.9V799.4"/><path d="M1710.1 815.9V807.5"/><path d="M1713.8 815.9V811.4"/><path d="M1744.9 815.9V812.5"/><path d="M1792 815.9V808.6"/></g><g stroke="#ea0a12" stroke-width="1.3"><path d="M1737.5 815.9v-2.7"/><path d="M1758 815.9v-4.32"/><path d="M1781 815.9v-2.48"/><path d="M1786 815.9v-3.75"/><path d="M1805 815.9v-2.39"/><path d="M1864 815.9v-2.74"/><path d="M1871 815.9v-4.4"/><path d="M1876 815.9v-2.66"/><path d="M1880 815.9v-3.61"/><path d="M1883.5 815.9v-3.21"/><path d="M1889.2 815.9v-3.2"/><path d="M1903 815.9v-3.29"/><path d="M1905.5 815.9v-2.62"/><path d="M1922.5 815.9v-4.03"/><path d="M1936 815.9v-2.4"/><path d="M1949 815.9v-2.72"/><path d="M1956 815.9v-2.24"/><path d="M1965 815.9v-2.79"/><path d="M1976.5 815.9v-3.1"/><path d="M1726 815.9v-4.18"/><path d="M1769 815.9v-3.03"/><path d="M1843 815.9v-2.45"/><path d="M1912 815.9v-2.77"/><path d="M1943 815.9v-4.38"/><path d="M1970 815.9v-2.34"/><path d="M1889.2 815.9v-5.4"/></g>
<line x1="1448" y1="815.9" x2="1981" y2="815.9" stroke="#ea0a12" stroke-width="2.3"/>
<g stroke="#1c80ff" stroke-width="2.8" stroke-linecap="round"><path d="M1598.5 924.1V827.4"/><path d="M1636.1 924.1V904.3"/><path d="M1756.6 924.1V885.3"/><path d="M1829.9 924.1V901.6"/><path d="M1853.1 924.1V921.6"/><path d="M1938.5 924.1V919.9"/></g>
<line x1="1449" y1="924.1" x2="1980" y2="924.1" stroke="#1c80ff" stroke-width="3.8"/>
<rect x="1447.5" y="6.7" width="534" height="938.7" fill="none" stroke="#000" stroke-width="2.1"/>
<line x1="1446.45" y1="6.7" x2="1982.55" y2="6.7" stroke="#000" stroke-width="3.4"/>
<line x1="1536.32" y1="945.4" x2="1536.32" y2="937.9" stroke="#000" stroke-width="1.8"/>
<line x1="1625.34" y1="945.4" x2="1625.34" y2="937.9" stroke="#000" stroke-width="1.8"/>
<line x1="1714.36" y1="945.4" x2="1714.36" y2="937.9" stroke="#000" stroke-width="1.8"/>
<line x1="1803.38" y1="945.4" x2="1803.38" y2="937.9" stroke="#000" stroke-width="1.8"/>
<line x1="1892.4" y1="945.4" x2="1892.4" y2="937.9" stroke="#000" stroke-width="1.8"/>
<line x1="1491.81" y1="945.4" x2="1491.81" y2="941.4" stroke="#000" stroke-width="1.8"/>
<line x1="1580.83" y1="945.4" x2="1580.83" y2="941.4" stroke="#000" stroke-width="1.8"/>
<line x1="1669.85" y1="945.4" x2="1669.85" y2="941.4" stroke="#000" stroke-width="1.8"/>
<line x1="1758.87" y1="945.4" x2="1758.87" y2="941.4" stroke="#000" stroke-width="1.8"/>
<line x1="1847.89" y1="945.4" x2="1847.89" y2="941.4" stroke="#000" stroke-width="1.8"/>
<line x1="1936.91" y1="945.4" x2="1936.91" y2="941.4" stroke="#000" stroke-width="1.8"/>
<text transform="translate(1447.3 982.7) scale(0.9 1)" font-size="39" text-anchor="middle">10</text>
<text transform="translate(1536.32 982.7) scale(0.9 1)" font-size="39" text-anchor="middle">20</text>
<text transform="translate(1625.34 982.7) scale(0.9 1)" font-size="39" text-anchor="middle">30</text>
<text transform="translate(1714.36 982.7) scale(0.9 1)" font-size="39" text-anchor="middle">40</text>
<text transform="translate(1803.38 982.7) scale(0.9 1)" font-size="39" text-anchor="middle">50</text>
<text transform="translate(1892.4 982.7) scale(0.9 1)" font-size="39" text-anchor="middle">60</text>
<text transform="translate(1981.42 982.7) scale(0.9 1)" font-size="39" text-anchor="middle">70</text>
<text transform="translate(1604.72 1031.6) scale(0.961 1)" font-size="49.5">2θ (degree)</text>
<text transform="translate(1422.9 600.66) rotate(-90) scale(1.0764 1)" font-size="46">Intensity (a.u.)</text>
<line x1="1777" y1="43.6" x2="1815.2" y2="43.6" stroke="#0b3bca" stroke-width="2" stroke-linecap="round"/>
<text transform="translate(1818.49 50.1) scale(0.98 1)" font-size="27.85" font-weight="bold">HY-Li<tspan dy="8.35" font-size="17.26">2</tspan><tspan dy="-8.35">S-900</tspan></text>
<line x1="1777" y1="250.1" x2="1814.5" y2="250.1" stroke="#1272ea" stroke-width="2" stroke-linecap="round"/>
<text transform="translate(1818.49 255.8) scale(0.98 1)" font-size="27.85" font-weight="bold">HY-Li<tspan dy="8.35" font-size="17.26">2</tspan><tspan dy="-8.35">S-800</tspan></text>
<line x1="1771.6" y1="424.2" x2="1808.8" y2="424.2" stroke="#22aef6" stroke-width="2" stroke-linecap="round"/>
<text transform="translate(1818.49 430) scale(0.98 1)" font-size="27.85" font-weight="bold">HY-Li<tspan dy="8.35" font-size="17.26">2</tspan><tspan dy="-8.35">S-700</tspan></text>
<line x1="1773.8" y1="585.9" x2="1811.5" y2="585.9" stroke="#52d6fb" stroke-width="2" stroke-linecap="round"/>
<text transform="translate(1818.49 591.6) scale(0.98 1)" font-size="27.85" font-weight="bold">HY-Li<tspan dy="8.35" font-size="17.26">2</tspan><tspan dy="-8.35">S-600</tspan></text>
<line x1="1651.8" y1="736.2" x2="1689.7" y2="736.2" stroke="#ea0a12" stroke-width="2.2" stroke-linecap="round"/>
<text transform="translate(1692.79 742.6) scale(0.98 1)" font-size="27.84" font-weight="bold">Li<tspan dy="8.35" font-size="17.26">2</tspan><tspan dy="-8.35">CO</tspan><tspan dy="8.35" font-size="17.26">3</tspan><tspan dy="-8.35"> (PDF#22-1141)</tspan></text>
<line x1="1681.2" y1="845.7" x2="1719.2" y2="845.7" stroke="#1c80ff" stroke-width="3.6" stroke-linecap="round"/>
<text transform="translate(1725.51 850.6) scale(0.98 1)" font-size="27.59" font-weight="bold">Li<tspan dy="8.28" font-size="17.11">2</tspan><tspan dy="-8.28">S (PDF#23-0369)</tspan></text>
<text transform="translate(1452.1 417.7) scale(0.98 1)" font-size="33.8" fill="#ff1e10">#: Li<tspan dy="11.49" font-size="20.28">2</tspan><tspan dy="-11.49">CO</tspan><tspan dy="11.49" font-size="20.28">3</tspan></text>
<text transform="translate(1547.9 494.1)" font-size="26" text-anchor="middle" font-weight="bold" fill="#ff1e10" stroke="#ff1e10" stroke-width="1.25" stroke-linejoin="round">#</text>
<text transform="translate(1622.1 523.5)" font-size="26" text-anchor="middle" font-weight="bold" fill="#ff1e10" stroke="#ff1e10" stroke-width="1.25" stroke-linejoin="round">#</text>
<text transform="translate(1646 512.1)" font-size="26" text-anchor="middle" font-weight="bold" fill="#ff1e10" stroke="#ff1e10" stroke-width="1.25" stroke-linejoin="round">#</text>
<text transform="translate(1661.2 533.9)" font-size="26" text-anchor="middle" font-weight="bold" fill="#ff1e10" stroke="#ff1e10" stroke-width="1.25" stroke-linejoin="round">#</text>
<text transform="translate(1684.1 533.9)" font-size="26" text-anchor="middle" font-weight="bold" fill="#ff1e10" stroke="#ff1e10" stroke-width="1.25" stroke-linejoin="round">#</text>
<text transform="translate(1791.1 542.6)" font-size="26" text-anchor="middle" font-weight="bold" fill="#ff1e10" stroke="#ff1e10" stroke-width="1.25" stroke-linejoin="round">#</text>
<text transform="translate(1889.1 542.4)" font-size="26" text-anchor="middle" font-weight="bold" fill="#ff1e10" stroke="#ff1e10" stroke-width="1.25" stroke-linejoin="round">#</text>
<text transform="translate(1919 542.4)" font-size="26" text-anchor="middle" font-weight="bold" fill="#ff1e10" stroke="#ff1e10" stroke-width="1.25" stroke-linejoin="round">#</text>
<text transform="translate(1383.5 44.2)" font-size="68">e</text>
</g>
</svg>
</body>
</html>
